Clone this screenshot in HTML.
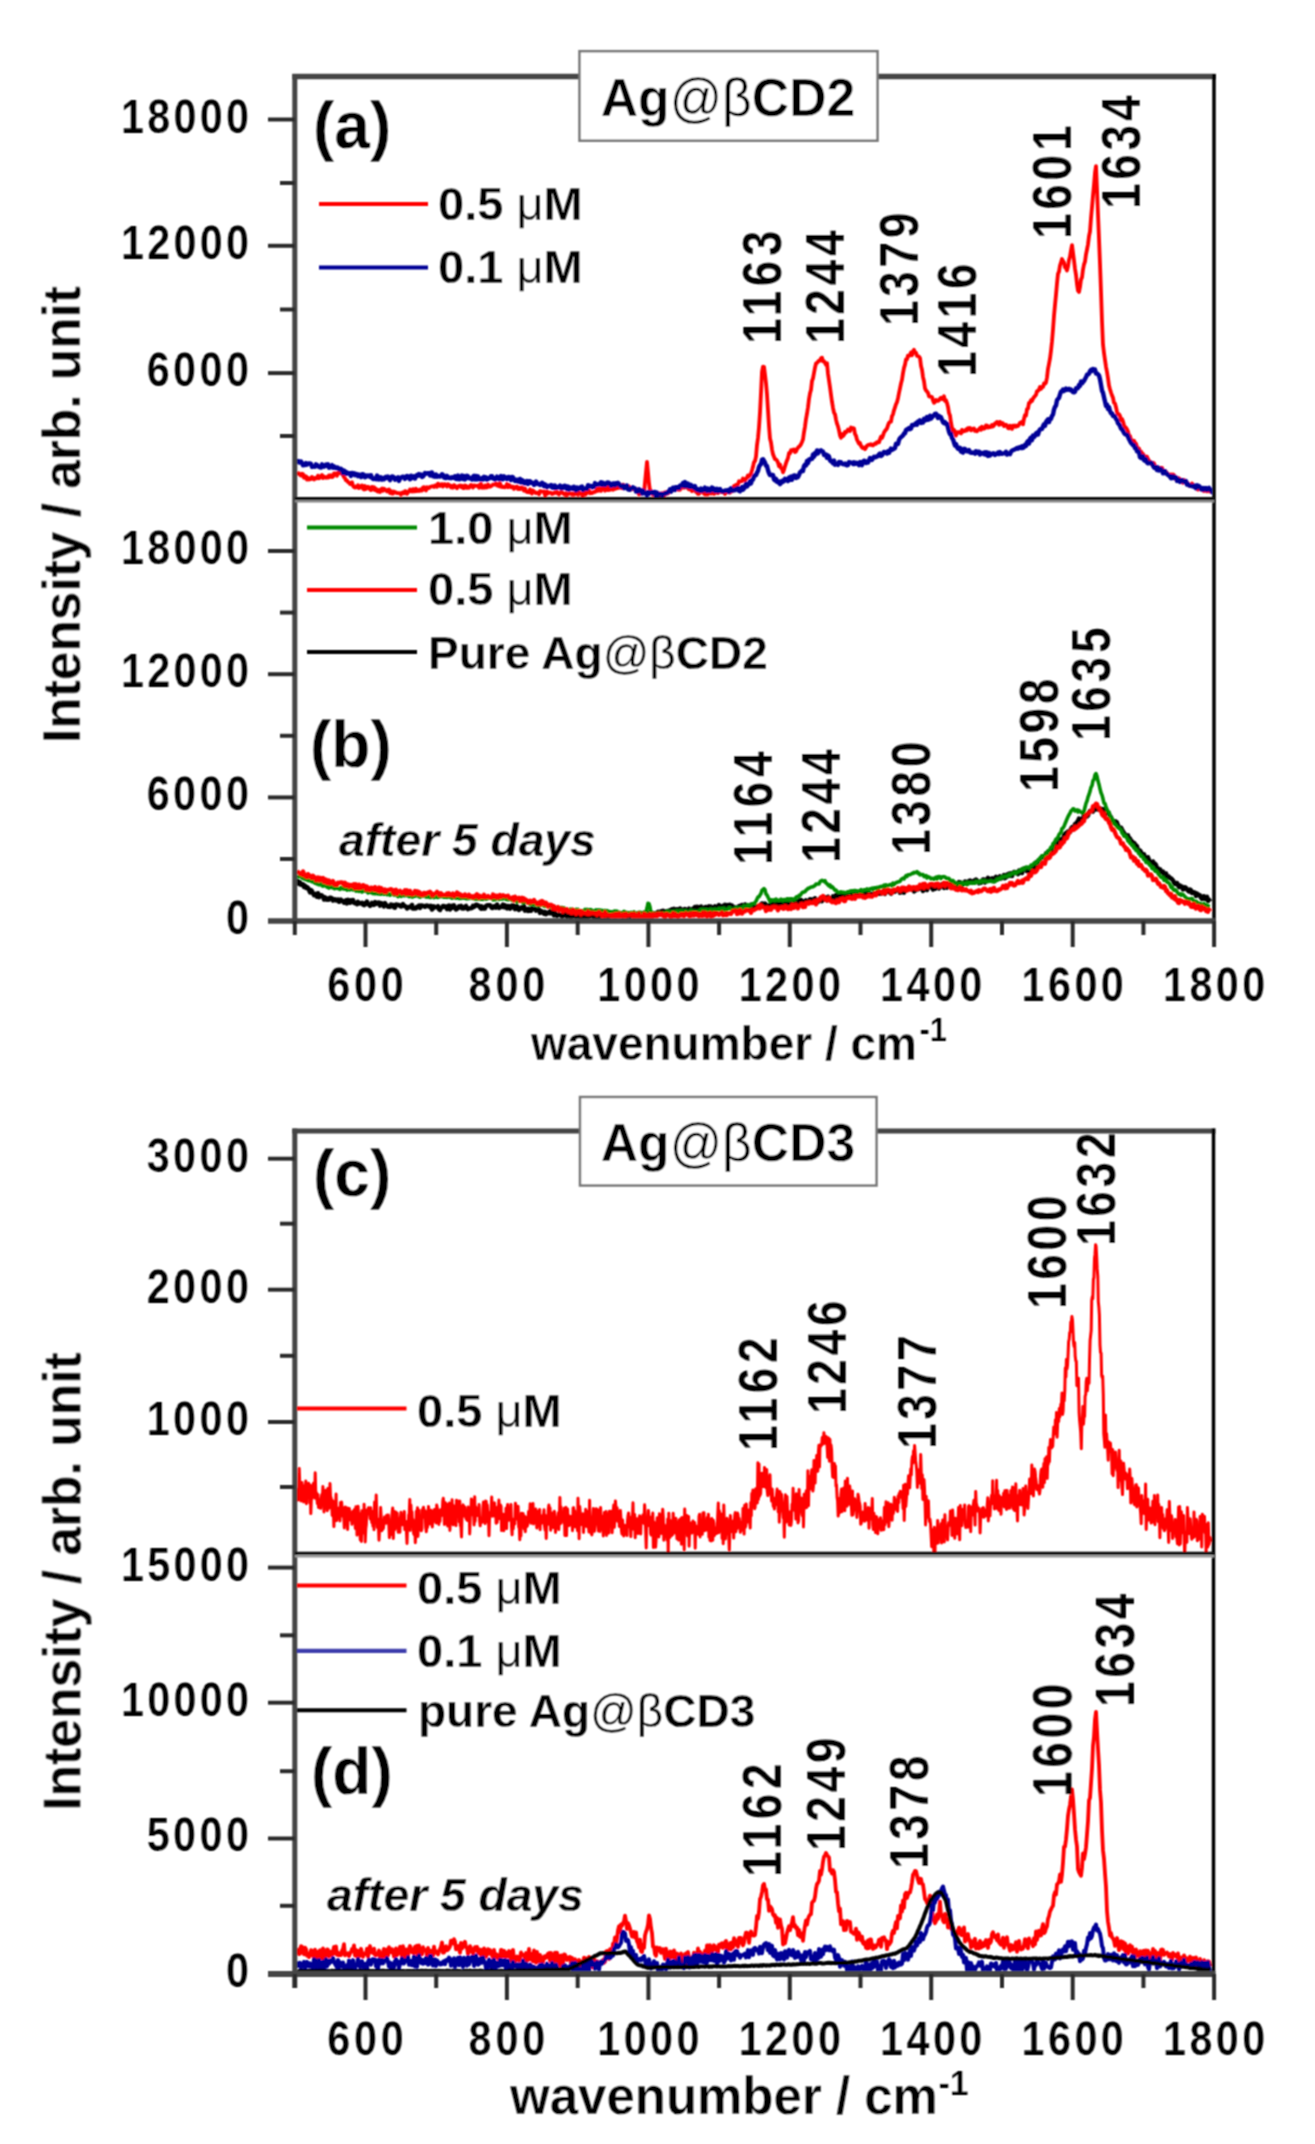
<!DOCTYPE html><html><head><meta charset="utf-8"><style>html,body{margin:0;padding:0;background:#fff;}svg{display:block;}text{font-family:"Liberation Sans", sans-serif;}</style></head><body>
<svg width="1315" height="2144" viewBox="0 0 1315 2144">
<rect x="0" y="0" width="1315" height="2144" fill="#fff"/>
<defs><filter id="bl" x="0" y="0" width="1315" height="2144" filterUnits="userSpaceOnUse"><feConvolveMatrix order="3" kernelMatrix="1 2 1 2 4 2 1 2 1" divisor="16" edgeMode="duplicate"/></filter></defs><g filter="url(#bl)">
<defs><clipPath id="ca"><rect x="297" y="79" width="915" height="418"/></clipPath><clipPath id="cb"><rect x="297" y="501" width="915" height="418"/></clipPath><clipPath id="cc"><rect x="297" y="1134" width="915" height="418"/></clipPath><clipPath id="cd"><rect x="297" y="1556" width="915" height="416"/></clipPath></defs>
<g clip-path="url(#ca)">
<path d="M297.0 472.0 L298.0 473.7 L299.0 473.5 L300.0 474.9 L301.0 475.5 L302.0 473.8 L303.0 474.1 L304.0 477.8 L305.0 476.0 L306.0 476.3 L307.0 479.6 L308.0 477.8 L309.0 479.6 L310.0 478.5 L311.0 479.0 L312.0 476.9 L313.0 478.7 L314.0 479.4 L315.0 477.9 L316.0 478.6 L317.0 478.2 L318.0 475.6 L319.0 478.2 L320.0 477.4 L321.0 476.1 L322.0 474.9 L323.0 478.1 L324.0 476.4 L325.0 477.2 L326.0 477.7 L327.0 476.9 L328.0 477.6 L329.0 475.4 L330.0 476.9 L331.0 475.3 L332.0 477.1 L333.0 476.8 L334.0 473.5 L335.0 473.5 L336.0 473.3 L337.0 475.7 L338.0 472.9 L339.0 473.1 L340.0 471.2 L341.0 473.2 L342.0 473.9 L343.0 475.0 L344.0 477.1 L345.0 478.3 L346.0 480.4 L347.0 480.3 L348.0 482.1 L349.0 482.6 L350.0 484.0 L351.0 483.5 L352.0 482.3 L353.0 485.8 L354.0 487.1 L355.0 487.6 L356.0 486.4 L357.0 487.2 L358.0 485.3 L359.0 488.0 L360.0 487.1 L361.0 486.1 L362.0 485.4 L363.0 488.7 L364.0 489.4 L365.0 486.0 L366.0 489.0 L367.0 487.6 L368.0 486.7 L369.0 487.4 L370.0 489.5 L371.0 490.1 L372.0 486.9 L373.0 489.3 L374.0 487.2 L375.0 490.1 L376.0 488.7 L377.0 491.0 L378.0 491.6 L379.0 489.9 L380.0 492.0 L381.0 489.4 L382.0 488.6 L383.0 490.8 L384.0 488.7 L385.0 489.5 L386.0 490.5 L387.0 491.5 L388.0 489.8 L389.0 489.5 L390.0 493.0 L391.0 490.9 L392.0 493.6 L393.0 493.5 L394.0 491.6 L395.0 492.1 L396.0 492.5 L397.0 493.1 L398.0 493.1 L399.0 493.1 L400.0 493.5 L401.0 494.6 L402.0 492.7 L403.0 492.3 L404.0 493.3 L405.0 491.2 L406.0 491.3 L407.0 493.9 L408.0 491.9 L409.0 491.8 L410.0 489.5 L411.0 491.0 L412.0 491.5 L413.0 489.1 L414.0 491.4 L415.0 491.3 L416.0 488.8 L417.0 491.0 L418.0 490.2 L419.0 490.9 L420.0 489.4 L421.0 490.6 L422.0 490.5 L423.0 487.3 L424.0 487.2 L425.0 489.5 L426.0 490.4 L427.0 487.3 L428.0 487.8 L429.0 488.1 L430.0 486.8 L431.0 486.7 L432.0 486.3 L433.0 486.2 L434.0 486.9 L435.0 485.5 L436.0 485.5 L437.0 486.8 L438.0 483.6 L439.0 485.5 L440.0 485.9 L441.0 484.3 L442.0 484.1 L443.0 486.5 L444.0 484.4 L445.0 484.2 L446.0 485.3 L447.0 486.5 L448.0 484.2 L449.0 485.2 L450.0 485.3 L451.0 487.4 L452.0 486.0 L453.0 487.7 L454.0 485.1 L455.0 485.8 L456.0 487.2 L457.0 488.2 L458.0 486.6 L459.0 485.8 L460.0 485.5 L461.0 487.1 L462.0 485.7 L463.0 488.1 L464.0 488.2 L465.0 485.5 L466.0 485.8 L467.0 487.9 L468.0 487.2 L469.0 487.8 L470.0 485.9 L471.0 485.0 L472.0 485.6 L473.0 487.5 L474.0 485.4 L475.0 485.6 L476.0 485.9 L477.0 485.8 L478.0 485.7 L479.0 487.7 L480.0 484.6 L481.0 484.0 L482.0 487.7 L483.0 487.4 L484.0 487.7 L485.0 485.5 L486.0 487.5 L487.0 487.4 L488.0 484.5 L489.0 486.5 L490.0 486.8 L491.0 486.1 L492.0 485.5 L493.0 484.5 L494.0 484.7 L495.0 484.2 L496.0 483.5 L497.0 485.5 L498.0 484.2 L499.0 486.3 L500.0 483.2 L501.0 486.8 L502.0 486.1 L503.0 487.1 L504.0 487.2 L505.0 487.3 L506.0 486.2 L507.0 484.1 L508.0 487.2 L509.0 485.0 L510.0 485.7 L511.0 487.3 L512.0 486.9 L513.0 486.6 L514.0 488.9 L515.0 487.7 L516.0 486.8 L517.0 486.6 L518.0 489.1 L519.0 487.8 L520.0 489.1 L521.0 487.7 L522.0 487.5 L523.0 489.1 L524.0 490.6 L525.0 488.4 L526.0 491.2 L527.0 492.0 L528.0 491.9 L529.0 492.3 L530.0 489.4 L531.0 492.2 L532.0 493.5 L533.0 490.5 L534.0 491.8 L535.0 492.1 L536.0 493.1 L537.0 492.7 L538.0 493.0 L539.0 494.2 L540.0 491.1 L541.0 491.4 L542.0 491.7 L543.0 491.7 L544.0 491.5 L545.0 495.1 L546.0 494.7 L547.0 491.6 L548.0 493.3 L549.0 492.6 L550.0 492.6 L551.0 492.8 L552.0 494.0 L553.0 493.7 L554.0 492.9 L555.0 492.2 L556.0 492.8 L557.0 492.0 L558.0 493.7 L559.0 494.4 L560.0 493.1 L561.0 491.9 L562.0 492.3 L563.0 493.1 L564.0 494.1 L565.0 494.8 L566.0 493.2 L567.0 494.9 L568.0 494.2 L569.0 493.5 L570.0 493.3 L571.0 493.8 L572.0 494.6 L573.0 493.5 L574.0 494.6 L575.0 493.7 L576.0 492.9 L577.0 494.1 L578.0 494.7 L579.0 492.3 L580.0 493.7 L581.0 493.5 L582.0 495.1 L583.0 495.1 L584.0 492.7 L585.0 494.6 L586.0 494.0 L587.0 491.6 L588.0 492.3 L589.0 490.7 L590.0 493.3 L591.0 492.4 L592.0 493.1 L593.0 492.6 L594.0 491.9 L595.0 491.9 L596.0 491.1 L597.0 489.0 L598.0 490.8 L599.0 488.2 L600.0 488.6 L601.0 490.9 L602.0 487.9 L603.0 487.9 L604.0 487.8 L605.0 490.7 L606.0 487.8 L607.0 487.0 L608.0 490.1 L609.0 487.0 L610.0 489.8 L611.0 488.9 L612.0 489.4 L613.0 489.7 L614.0 488.1 L615.0 488.8 L616.0 485.6 L617.0 488.3 L618.0 487.2 L619.0 487.8 L620.0 485.2 L621.0 487.6 L622.0 488.2 L623.0 484.6 L624.0 485.5 L625.0 486.3 L626.0 487.7 L627.0 485.8 L628.0 485.9 L629.0 486.6 L630.0 488.5 L631.0 489.4 L632.0 488.4 L633.0 488.7 L634.0 489.2 L635.0 489.4 L636.0 490.3 L637.0 489.5 L638.0 491.8 L639.0 494.3 L640.0 492.7 L641.0 493.7 L642.0 491.1 L643.0 493.0 L644.0 493.0 L645.0 482.7 L646.0 472.1 L647.0 461.9 L648.0 472.6 L649.0 483.6 L650.0 490.6 L651.0 490.7 L652.0 493.6 L653.0 494.6 L654.0 493.3 L655.0 493.3 L656.0 494.7 L657.0 492.8 L658.0 493.5 L659.0 493.5 L660.0 495.3 L661.0 493.9 L662.0 493.2 L663.0 494.7 L664.0 495.4 L665.0 492.4 L666.0 493.7 L667.0 492.1 L668.0 493.5 L669.0 492.1 L670.0 490.5 L671.0 489.9 L672.0 488.8 L673.0 490.2 L674.0 489.5 L675.0 488.3 L676.0 488.7 L677.0 488.2 L678.0 489.6 L679.0 486.7 L680.0 489.8 L681.0 487.4 L682.0 487.5 L683.0 486.6 L684.0 487.7 L685.0 487.3 L686.0 486.7 L687.0 486.9 L688.0 488.3 L689.0 489.3 L690.0 487.9 L691.0 489.7 L692.0 491.1 L693.0 489.6 L694.0 489.1 L695.0 489.6 L696.0 492.0 L697.0 492.3 L698.0 493.9 L699.0 493.9 L700.0 492.0 L701.0 491.7 L702.0 492.0 L703.0 491.6 L704.0 493.7 L705.0 494.3 L706.0 494.4 L707.0 491.8 L708.0 494.2 L709.0 492.0 L710.0 492.4 L711.0 493.5 L712.0 490.9 L713.0 490.9 L714.0 493.9 L715.0 491.7 L716.0 491.9 L717.0 492.8 L718.0 493.1 L719.0 490.4 L720.0 491.7 L721.0 492.0 L722.0 492.2 L723.0 491.1 L724.0 492.5 L725.0 494.0 L726.0 491.7 L727.0 492.3 L728.0 490.5 L729.0 491.1 L730.0 492.7 L731.0 489.4 L732.0 491.3 L733.0 490.3 L734.0 486.0 L735.0 488.3 L736.0 484.9 L737.0 485.4 L738.0 484.2 L739.0 481.3 L740.0 481.7 L741.0 481.1 L742.0 481.2 L743.0 478.5 L744.0 480.0 L745.0 480.3 L746.0 478.7 L747.0 477.6 L748.0 475.4 L749.0 476.4 L750.0 475.1 L751.0 473.5 L752.0 470.3 L753.0 466.8 L754.0 462.2 L755.0 461.0 L756.0 456.6 L757.0 444.9 L758.0 437.9 L759.0 427.1 L760.0 412.5 L761.0 392.8 L762.0 371.8 L763.0 366.7 L764.0 366.8 L765.0 374.8 L766.0 383.2 L767.0 394.5 L768.0 410.2 L769.0 426.1 L770.0 438.5 L771.0 442.5 L772.0 449.6 L773.0 454.3 L774.0 456.8 L775.0 459.2 L776.0 459.3 L777.0 460.6 L778.0 462.6 L779.0 466.2 L780.0 464.5 L781.0 468.0 L782.0 468.6 L783.0 472.3 L784.0 469.7 L785.0 466.3 L786.0 463.2 L787.0 460.4 L788.0 458.0 L789.0 453.0 L790.0 453.4 L791.0 450.3 L792.0 450.7 L793.0 449.7 L794.0 449.5 L795.0 452.0 L796.0 451.5 L797.0 449.1 L798.0 447.7 L799.0 446.6 L800.0 445.9 L801.0 444.2 L802.0 442.0 L803.0 439.4 L804.0 432.3 L805.0 426.6 L806.0 419.1 L807.0 413.7 L808.0 407.2 L809.0 399.0 L810.0 393.3 L811.0 389.7 L812.0 381.0 L813.0 378.4 L814.0 373.0 L815.0 367.6 L816.0 363.5 L817.0 362.9 L818.0 361.7 L819.0 360.6 L820.0 360.7 L821.0 358.2 L822.0 357.7 L823.0 361.3 L824.0 361.1 L825.0 362.9 L826.0 364.8 L827.0 363.2 L828.0 373.7 L829.0 380.6 L830.0 387.3 L831.0 394.8 L832.0 401.9 L833.0 407.8 L834.0 412.7 L835.0 414.2 L836.0 419.6 L837.0 423.7 L838.0 426.4 L839.0 430.4 L840.0 435.4 L841.0 437.8 L842.0 434.2 L843.0 436.1 L844.0 434.8 L845.0 431.9 L846.0 432.5 L847.0 431.2 L848.0 429.6 L849.0 430.4 L850.0 431.0 L851.0 427.5 L852.0 428.7 L853.0 428.1 L854.0 428.5 L855.0 434.1 L856.0 435.7 L857.0 439.7 L858.0 441.6 L859.0 443.7 L860.0 443.1 L861.0 445.9 L862.0 447.4 L863.0 448.1 L864.0 447.4 L865.0 449.2 L866.0 447.6 L867.0 445.7 L868.0 445.0 L869.0 444.7 L870.0 444.8 L871.0 444.2 L872.0 445.1 L873.0 445.4 L874.0 444.4 L875.0 443.5 L876.0 443.9 L877.0 442.1 L878.0 442.3 L879.0 442.3 L880.0 439.3 L881.0 436.7 L882.0 437.9 L883.0 435.6 L884.0 432.5 L885.0 430.9 L886.0 429.8 L887.0 428.4 L888.0 425.3 L889.0 422.8 L890.0 421.9 L891.0 421.6 L892.0 416.1 L893.0 414.3 L894.0 410.3 L895.0 407.3 L896.0 404.2 L897.0 402.1 L898.0 398.2 L899.0 393.0 L900.0 388.3 L901.0 383.5 L902.0 379.8 L903.0 373.1 L904.0 367.9 L905.0 364.6 L906.0 359.4 L907.0 359.2 L908.0 355.6 L909.0 356.0 L910.0 355.0 L911.0 352.5 L912.0 355.3 L913.0 351.3 L914.0 349.8 L915.0 352.6 L916.0 352.7 L917.0 355.9 L918.0 356.1 L919.0 356.6 L920.0 358.0 L921.0 366.1 L922.0 369.7 L923.0 377.1 L924.0 381.2 L925.0 388.4 L926.0 390.4 L927.0 391.5 L928.0 392.8 L929.0 396.2 L930.0 396.7 L931.0 396.7 L932.0 397.0 L933.0 400.5 L934.0 402.8 L935.0 401.8 L936.0 399.9 L937.0 400.6 L938.0 400.9 L939.0 400.2 L940.0 398.6 L941.0 397.7 L942.0 399.1 L943.0 399.1 L944.0 396.3 L945.0 400.9 L946.0 400.3 L947.0 403.1 L948.0 406.9 L949.0 413.1 L950.0 415.5 L951.0 422.7 L952.0 427.9 L953.0 431.2 L954.0 429.8 L955.0 432.6 L956.0 435.6 L957.0 432.1 L958.0 432.7 L959.0 432.0 L960.0 432.9 L961.0 433.4 L962.0 429.9 L963.0 431.6 L964.0 431.1 L965.0 431.0 L966.0 429.4 L967.0 430.4 L968.0 428.1 L969.0 428.5 L970.0 427.9 L971.0 430.4 L972.0 429.4 L973.0 428.7 L974.0 428.5 L975.0 430.9 L976.0 430.7 L977.0 431.3 L978.0 429.7 L979.0 429.7 L980.0 428.0 L981.0 429.8 L982.0 426.7 L983.0 428.0 L984.0 428.8 L985.0 428.1 L986.0 425.3 L987.0 425.5 L988.0 427.6 L989.0 426.5 L990.0 427.2 L991.0 426.8 L992.0 424.9 L993.0 426.4 L994.0 425.4 L995.0 423.5 L996.0 423.4 L997.0 421.9 L998.0 422.9 L999.0 424.8 L1000.0 421.9 L1001.0 424.3 L1002.0 422.9 L1003.0 423.3 L1004.0 426.1 L1005.0 425.0 L1006.0 424.7 L1007.0 425.6 L1008.0 428.1 L1009.0 428.3 L1010.0 425.8 L1011.0 426.4 L1012.0 428.9 L1013.0 425.6 L1014.0 426.6 L1015.0 425.6 L1016.0 426.7 L1017.0 425.6 L1018.0 426.0 L1019.0 424.6 L1020.0 422.8 L1021.0 422.4 L1022.0 421.7 L1023.0 424.3 L1024.0 418.7 L1025.0 415.1 L1026.0 415.5 L1027.0 409.1 L1028.0 408.6 L1029.0 402.9 L1030.0 402.8 L1031.0 400.3 L1032.0 401.1 L1033.0 398.6 L1034.0 397.1 L1035.0 396.0 L1036.0 394.8 L1037.0 391.1 L1038.0 391.0 L1039.0 389.4 L1040.0 387.0 L1041.0 388.9 L1042.0 387.0 L1043.0 386.9 L1044.0 383.4 L1045.0 383.8 L1046.0 382.5 L1047.0 377.5 L1048.0 368.8 L1049.0 363.9 L1050.0 358.4 L1051.0 350.7 L1052.0 341.4 L1053.0 329.6 L1054.0 315.9 L1055.0 305.0 L1056.0 294.8 L1057.0 283.3 L1058.0 273.8 L1059.0 271.6 L1060.0 265.5 L1061.0 262.4 L1062.0 259.0 L1063.0 261.2 L1064.0 262.6 L1065.0 267.3 L1066.0 268.2 L1067.0 270.4 L1068.0 266.2 L1069.0 260.0 L1070.0 256.5 L1071.0 250.3 L1072.0 245.1 L1073.0 252.7 L1074.0 260.5 L1075.0 268.7 L1076.0 274.9 L1077.0 284.1 L1078.0 290.6 L1079.0 292.0 L1080.0 286.9 L1081.0 279.6 L1082.0 277.4 L1083.0 269.6 L1084.0 264.5 L1085.0 261.7 L1086.0 254.3 L1087.0 249.5 L1088.0 244.3 L1089.0 236.2 L1090.0 231.5 L1091.0 218.1 L1092.0 207.2 L1093.0 195.4 L1094.0 185.0 L1095.0 172.9 L1096.0 166.1 L1097.0 189.4 L1098.0 214.2 L1099.0 238.6 L1100.0 263.8 L1101.0 291.5 L1102.0 321.5 L1103.0 344.6 L1104.0 352.9 L1105.0 360.1 L1106.0 366.8 L1107.0 372.0 L1108.0 378.3 L1109.0 385.6 L1110.0 389.2 L1111.0 392.5 L1112.0 395.5 L1113.0 397.8 L1114.0 402.8 L1115.0 403.5 L1116.0 407.2 L1117.0 411.9 L1118.0 414.2 L1119.0 414.2 L1120.0 416.0 L1121.0 420.2 L1122.0 419.0 L1123.0 421.5 L1124.0 425.1 L1125.0 427.1 L1126.0 427.7 L1127.0 429.2 L1128.0 431.8 L1129.0 435.7 L1130.0 436.1 L1131.0 439.7 L1132.0 440.5 L1133.0 442.9 L1134.0 440.7 L1135.0 442.8 L1136.0 443.7 L1137.0 447.0 L1138.0 448.2 L1139.0 448.6 L1140.0 452.2 L1141.0 451.5 L1142.0 453.3 L1143.0 453.9 L1144.0 457.0 L1145.0 456.3 L1146.0 456.6 L1147.0 456.6 L1148.0 459.1 L1149.0 460.7 L1150.0 461.8 L1151.0 463.6 L1152.0 464.1 L1153.0 462.8 L1154.0 463.2 L1155.0 466.6 L1156.0 467.6 L1157.0 467.1 L1158.0 468.9 L1159.0 468.3 L1160.0 467.8 L1161.0 467.9 L1162.0 467.8 L1163.0 470.9 L1164.0 472.5 L1165.0 473.0 L1166.0 471.8 L1167.0 473.2 L1168.0 474.8 L1169.0 474.9 L1170.0 474.6 L1171.0 474.4 L1172.0 475.3 L1173.0 474.5 L1174.0 475.1 L1175.0 477.6 L1176.0 479.4 L1177.0 478.1 L1178.0 478.0 L1179.0 478.3 L1180.0 479.2 L1181.0 481.1 L1182.0 480.2 L1183.0 482.7 L1184.0 480.0 L1185.0 481.2 L1186.0 482.5 L1187.0 482.5 L1188.0 484.8 L1189.0 485.2 L1190.0 486.1 L1191.0 485.3 L1192.0 483.5 L1193.0 486.2 L1194.0 486.6 L1195.0 486.9 L1196.0 486.5 L1197.0 488.6 L1198.0 489.6 L1199.0 486.5 L1200.0 489.0 L1201.0 488.0 L1202.0 488.8 L1203.0 490.5 L1204.0 491.0 L1205.0 489.9 L1206.0 488.3 L1207.0 491.4 L1208.0 488.6 L1209.0 489.7 L1210.0 491.6 L1211.0 489.8 L1212.0 489.8 L1213.0 492.7" fill="none" stroke="#f00" stroke-width="3.8" stroke-linejoin="round" opacity="1.0"/>
<path d="M297.0 461.4 L298.0 461.1 L299.0 462.5 L300.0 461.7 L301.0 461.5 L302.0 463.1 L303.0 465.3 L304.0 465.0 L305.0 465.1 L306.0 463.1 L307.0 464.6 L308.0 463.7 L309.0 463.5 L310.0 463.4 L311.0 464.0 L312.0 466.9 L313.0 466.6 L314.0 466.6 L315.0 466.7 L316.0 464.4 L317.0 464.9 L318.0 466.3 L319.0 466.8 L320.0 467.4 L321.0 467.5 L322.0 464.3 L323.0 466.4 L324.0 466.7 L325.0 466.0 L326.0 464.7 L327.0 465.9 L328.0 464.4 L329.0 467.7 L330.0 467.5 L331.0 466.2 L332.0 465.2 L333.0 467.6 L334.0 466.3 L335.0 467.5 L336.0 468.1 L337.0 467.4 L338.0 467.8 L339.0 469.2 L340.0 469.2 L341.0 468.8 L342.0 470.1 L343.0 472.9 L344.0 470.5 L345.0 471.2 L346.0 473.7 L347.0 472.4 L348.0 473.6 L349.0 473.5 L350.0 473.2 L351.0 475.9 L352.0 472.9 L353.0 473.9 L354.0 473.3 L355.0 475.1 L356.0 473.9 L357.0 474.3 L358.0 476.1 L359.0 474.5 L360.0 475.6 L361.0 477.2 L362.0 474.1 L363.0 474.1 L364.0 475.0 L365.0 477.3 L366.0 476.8 L367.0 475.5 L368.0 476.0 L369.0 475.6 L370.0 476.8 L371.0 475.2 L372.0 477.9 L373.0 478.8 L374.0 479.1 L375.0 478.3 L376.0 479.2 L377.0 475.5 L378.0 476.7 L379.0 479.5 L380.0 478.8 L381.0 477.4 L382.0 479.6 L383.0 478.3 L384.0 479.2 L385.0 477.2 L386.0 476.8 L387.0 477.9 L388.0 476.7 L389.0 477.8 L390.0 480.2 L391.0 477.7 L392.0 476.5 L393.0 476.7 L394.0 477.3 L395.0 479.8 L396.0 478.2 L397.0 478.0 L398.0 477.3 L399.0 480.9 L400.0 478.7 L401.0 477.7 L402.0 476.9 L403.0 476.7 L404.0 477.0 L405.0 478.9 L406.0 476.6 L407.0 476.0 L408.0 477.6 L409.0 476.5 L410.0 479.3 L411.0 475.7 L412.0 477.1 L413.0 477.9 L414.0 476.3 L415.0 478.5 L416.0 476.2 L417.0 475.1 L418.0 475.6 L419.0 474.0 L420.0 475.4 L421.0 474.5 L422.0 476.9 L423.0 476.5 L424.0 475.0 L425.0 473.0 L426.0 473.7 L427.0 473.5 L428.0 473.2 L429.0 473.1 L430.0 475.5 L431.0 472.7 L432.0 472.5 L433.0 476.2 L434.0 474.9 L435.0 476.7 L436.0 474.5 L437.0 476.7 L438.0 475.8 L439.0 476.5 L440.0 476.5 L441.0 475.6 L442.0 474.2 L443.0 474.8 L444.0 477.6 L445.0 477.8 L446.0 478.1 L447.0 475.9 L448.0 477.3 L449.0 478.0 L450.0 477.6 L451.0 478.3 L452.0 477.2 L453.0 477.7 L454.0 477.9 L455.0 476.2 L456.0 478.9 L457.0 479.1 L458.0 475.6 L459.0 479.2 L460.0 479.2 L461.0 478.0 L462.0 475.6 L463.0 479.0 L464.0 476.0 L465.0 479.4 L466.0 478.2 L467.0 475.8 L468.0 476.3 L469.0 478.2 L470.0 477.9 L471.0 478.7 L472.0 479.4 L473.0 476.6 L474.0 475.8 L475.0 479.5 L476.0 475.9 L477.0 479.4 L478.0 476.4 L479.0 479.2 L480.0 479.1 L481.0 479.5 L482.0 478.2 L483.0 479.5 L484.0 476.8 L485.0 478.7 L486.0 477.3 L487.0 479.6 L488.0 479.1 L489.0 477.9 L490.0 478.1 L491.0 476.1 L492.0 476.1 L493.0 478.4 L494.0 478.0 L495.0 479.5 L496.0 478.4 L497.0 476.6 L498.0 477.5 L499.0 479.1 L500.0 478.1 L501.0 476.0 L502.0 479.4 L503.0 479.3 L504.0 476.3 L505.0 478.2 L506.0 477.5 L507.0 479.1 L508.0 477.2 L509.0 476.9 L510.0 477.9 L511.0 480.1 L512.0 476.9 L513.0 477.3 L514.0 479.6 L515.0 480.9 L516.0 479.6 L517.0 479.6 L518.0 481.6 L519.0 481.5 L520.0 478.9 L521.0 482.5 L522.0 480.0 L523.0 480.7 L524.0 483.1 L525.0 481.7 L526.0 483.3 L527.0 481.0 L528.0 483.9 L529.0 481.3 L530.0 481.3 L531.0 482.8 L532.0 482.4 L533.0 483.3 L534.0 484.9 L535.0 484.3 L536.0 481.6 L537.0 483.0 L538.0 484.0 L539.0 483.9 L540.0 485.0 L541.0 484.2 L542.0 482.7 L543.0 483.6 L544.0 486.1 L545.0 484.3 L546.0 486.1 L547.0 487.1 L548.0 485.8 L549.0 486.1 L550.0 486.0 L551.0 485.0 L552.0 487.5 L553.0 485.9 L554.0 487.8 L555.0 485.5 L556.0 487.9 L557.0 487.7 L558.0 487.2 L559.0 486.6 L560.0 485.6 L561.0 488.2 L562.0 486.6 L563.0 487.9 L564.0 485.9 L565.0 485.8 L566.0 486.2 L567.0 488.9 L568.0 486.5 L569.0 489.5 L570.0 487.5 L571.0 488.4 L572.0 487.6 L573.0 488.8 L574.0 486.8 L575.0 488.1 L576.0 490.3 L577.0 487.4 L578.0 489.4 L579.0 488.2 L580.0 488.2 L581.0 486.8 L582.0 486.5 L583.0 489.9 L584.0 489.1 L585.0 488.7 L586.0 488.4 L587.0 488.7 L588.0 485.2 L589.0 486.6 L590.0 486.0 L591.0 486.0 L592.0 487.2 L593.0 486.1 L594.0 486.7 L595.0 483.0 L596.0 484.8 L597.0 484.6 L598.0 484.6 L599.0 483.8 L600.0 484.3 L601.0 482.3 L602.0 484.8 L603.0 482.8 L604.0 483.7 L605.0 484.9 L606.0 484.2 L607.0 482.7 L608.0 482.5 L609.0 482.9 L610.0 484.2 L611.0 485.7 L612.0 485.4 L613.0 483.5 L614.0 483.5 L615.0 485.3 L616.0 483.4 L617.0 484.2 L618.0 482.9 L619.0 483.8 L620.0 485.5 L621.0 486.4 L622.0 486.3 L623.0 485.6 L624.0 488.2 L625.0 487.2 L626.0 485.6 L627.0 485.5 L628.0 489.4 L629.0 489.7 L630.0 489.7 L631.0 488.7 L632.0 487.8 L633.0 487.3 L634.0 488.2 L635.0 488.4 L636.0 491.5 L637.0 491.7 L638.0 491.5 L639.0 489.3 L640.0 490.0 L641.0 490.5 L642.0 493.4 L643.0 490.6 L644.0 493.4 L645.0 493.2 L646.0 493.0 L647.0 494.9 L648.0 492.4 L649.0 493.8 L650.0 492.6 L651.0 492.3 L652.0 492.0 L653.0 493.1 L654.0 492.2 L655.0 491.9 L656.0 495.6 L657.0 492.7 L658.0 495.0 L659.0 494.2 L660.0 494.3 L661.0 493.9 L662.0 495.0 L663.0 494.6 L664.0 493.9 L665.0 493.2 L666.0 493.3 L667.0 493.0 L668.0 491.9 L669.0 491.2 L670.0 489.4 L671.0 491.7 L672.0 489.8 L673.0 487.7 L674.0 487.6 L675.0 490.0 L676.0 487.1 L677.0 487.2 L678.0 487.9 L679.0 488.1 L680.0 485.6 L681.0 485.3 L682.0 485.0 L683.0 483.0 L684.0 486.0 L685.0 482.1 L686.0 486.2 L687.0 483.3 L688.0 483.6 L689.0 486.7 L690.0 487.0 L691.0 484.9 L692.0 486.5 L693.0 486.6 L694.0 487.9 L695.0 486.1 L696.0 489.0 L697.0 490.0 L698.0 489.2 L699.0 490.4 L700.0 490.7 L701.0 488.6 L702.0 490.5 L703.0 490.4 L704.0 489.5 L705.0 487.6 L706.0 489.7 L707.0 490.9 L708.0 488.5 L709.0 489.9 L710.0 490.9 L711.0 489.8 L712.0 487.5 L713.0 490.0 L714.0 488.5 L715.0 490.9 L716.0 490.2 L717.0 488.8 L718.0 491.2 L719.0 490.1 L720.0 489.0 L721.0 491.0 L722.0 491.3 L723.0 491.3 L724.0 491.3 L725.0 490.5 L726.0 490.7 L727.0 490.3 L728.0 490.0 L729.0 491.9 L730.0 489.4 L731.0 488.3 L732.0 490.8 L733.0 489.9 L734.0 490.1 L735.0 490.3 L736.0 488.9 L737.0 488.7 L738.0 488.1 L739.0 490.9 L740.0 491.4 L741.0 489.9 L742.0 486.9 L743.0 489.7 L744.0 488.5 L745.0 486.5 L746.0 483.8 L747.0 486.5 L748.0 485.0 L749.0 484.3 L750.0 481.2 L751.0 483.4 L752.0 479.8 L753.0 479.6 L754.0 476.3 L755.0 475.1 L756.0 475.2 L757.0 472.6 L758.0 470.9 L759.0 466.8 L760.0 465.2 L761.0 464.0 L762.0 459.7 L763.0 459.2 L764.0 460.9 L765.0 462.6 L766.0 465.7 L767.0 466.1 L768.0 470.3 L769.0 473.3 L770.0 475.1 L771.0 474.9 L772.0 474.8 L773.0 475.1 L774.0 479.5 L775.0 480.5 L776.0 478.8 L777.0 481.7 L778.0 481.2 L779.0 483.0 L780.0 484.1 L781.0 481.6 L782.0 482.4 L783.0 480.5 L784.0 481.1 L785.0 478.8 L786.0 479.3 L787.0 479.0 L788.0 481.1 L789.0 477.6 L790.0 479.7 L791.0 476.6 L792.0 479.8 L793.0 476.1 L794.0 475.5 L795.0 475.5 L796.0 478.0 L797.0 476.6 L798.0 477.1 L799.0 475.1 L800.0 472.3 L801.0 471.6 L802.0 470.4 L803.0 470.9 L804.0 466.0 L805.0 464.7 L806.0 465.4 L807.0 460.9 L808.0 463.2 L809.0 459.5 L810.0 459.6 L811.0 458.9 L812.0 458.9 L813.0 454.6 L814.0 456.7 L815.0 453.0 L816.0 454.2 L817.0 450.4 L818.0 453.3 L819.0 450.9 L820.0 451.0 L821.0 450.3 L822.0 451.5 L823.0 451.5 L824.0 455.0 L825.0 454.5 L826.0 454.4 L827.0 457.8 L828.0 455.5 L829.0 456.6 L830.0 460.4 L831.0 461.3 L832.0 461.2 L833.0 463.3 L834.0 460.5 L835.0 464.7 L836.0 464.0 L837.0 464.0 L838.0 464.8 L839.0 461.9 L840.0 462.4 L841.0 462.3 L842.0 463.7 L843.0 464.1 L844.0 464.2 L845.0 463.5 L846.0 465.0 L847.0 465.3 L848.0 465.0 L849.0 462.0 L850.0 462.4 L851.0 462.6 L852.0 462.6 L853.0 463.9 L854.0 462.4 L855.0 464.0 L856.0 462.8 L857.0 462.9 L858.0 464.2 L859.0 465.1 L860.0 462.0 L861.0 462.6 L862.0 465.1 L863.0 461.8 L864.0 460.6 L865.0 460.8 L866.0 462.9 L867.0 462.1 L868.0 462.5 L869.0 460.3 L870.0 458.0 L871.0 458.7 L872.0 459.9 L873.0 458.1 L874.0 456.7 L875.0 457.2 L876.0 457.1 L877.0 456.2 L878.0 456.2 L879.0 454.4 L880.0 453.5 L881.0 456.0 L882.0 455.3 L883.0 453.6 L884.0 451.9 L885.0 452.1 L886.0 452.6 L887.0 453.5 L888.0 451.3 L889.0 452.8 L890.0 450.5 L891.0 448.6 L892.0 449.9 L893.0 449.3 L894.0 448.8 L895.0 448.1 L896.0 443.8 L897.0 444.0 L898.0 444.0 L899.0 440.0 L900.0 438.1 L901.0 437.3 L902.0 436.3 L903.0 435.4 L904.0 433.5 L905.0 433.3 L906.0 430.0 L907.0 429.3 L908.0 429.2 L909.0 428.1 L910.0 429.2 L911.0 428.5 L912.0 425.2 L913.0 424.9 L914.0 425.1 L915.0 424.5 L916.0 423.2 L917.0 424.6 L918.0 421.4 L919.0 422.1 L920.0 420.3 L921.0 422.9 L922.0 421.4 L923.0 422.5 L924.0 418.7 L925.0 420.6 L926.0 419.7 L927.0 417.1 L928.0 419.8 L929.0 419.4 L930.0 415.7 L931.0 418.6 L932.0 417.4 L933.0 416.1 L934.0 415.3 L935.0 413.9 L936.0 413.7 L937.0 415.9 L938.0 418.0 L939.0 415.9 L940.0 417.5 L941.0 417.3 L942.0 419.8 L943.0 422.2 L944.0 423.2 L945.0 422.2 L946.0 424.0 L947.0 423.7 L948.0 427.7 L949.0 431.7 L950.0 434.3 L951.0 433.9 L952.0 438.0 L953.0 439.3 L954.0 442.5 L955.0 445.5 L956.0 444.0 L957.0 447.2 L958.0 448.7 L959.0 449.1 L960.0 447.7 L961.0 451.6 L962.0 452.1 L963.0 452.6 L964.0 448.8 L965.0 449.0 L966.0 450.3 L967.0 451.4 L968.0 451.2 L969.0 450.1 L970.0 452.4 L971.0 452.7 L972.0 452.8 L973.0 452.5 L974.0 452.8 L975.0 453.6 L976.0 451.2 L977.0 452.9 L978.0 451.8 L979.0 451.8 L980.0 454.5 L981.0 452.9 L982.0 453.0 L983.0 452.9 L984.0 454.2 L985.0 452.4 L986.0 454.6 L987.0 452.4 L988.0 456.0 L989.0 452.9 L990.0 455.5 L991.0 454.5 L992.0 453.9 L993.0 453.3 L994.0 453.5 L995.0 455.0 L996.0 453.9 L997.0 453.9 L998.0 452.6 L999.0 454.1 L1000.0 452.1 L1001.0 453.3 L1002.0 453.9 L1003.0 453.4 L1004.0 453.4 L1005.0 453.3 L1006.0 451.7 L1007.0 454.6 L1008.0 453.4 L1009.0 453.5 L1010.0 454.1 L1011.0 451.6 L1012.0 450.7 L1013.0 450.1 L1014.0 449.7 L1015.0 449.2 L1016.0 448.9 L1017.0 448.0 L1018.0 448.6 L1019.0 447.4 L1020.0 447.3 L1021.0 448.0 L1022.0 446.2 L1023.0 447.9 L1024.0 447.2 L1025.0 444.9 L1026.0 445.9 L1027.0 442.3 L1028.0 441.0 L1029.0 443.6 L1030.0 438.7 L1031.0 437.6 L1032.0 440.1 L1033.0 435.6 L1034.0 437.2 L1035.0 435.8 L1036.0 433.5 L1037.0 432.6 L1038.0 434.5 L1039.0 431.2 L1040.0 429.4 L1041.0 429.1 L1042.0 429.1 L1043.0 426.2 L1044.0 424.2 L1045.0 425.9 L1046.0 422.0 L1047.0 420.6 L1048.0 419.3 L1049.0 422.1 L1050.0 418.7 L1051.0 418.8 L1052.0 415.7 L1053.0 414.7 L1054.0 409.5 L1055.0 406.9 L1056.0 405.5 L1057.0 400.1 L1058.0 398.9 L1059.0 397.8 L1060.0 394.4 L1061.0 391.4 L1062.0 391.4 L1063.0 389.5 L1064.0 390.9 L1065.0 389.7 L1066.0 388.6 L1067.0 389.9 L1068.0 389.4 L1069.0 388.8 L1070.0 390.0 L1071.0 389.5 L1072.0 390.9 L1073.0 392.2 L1074.0 392.4 L1075.0 391.7 L1076.0 388.3 L1077.0 388.5 L1078.0 388.1 L1079.0 384.9 L1080.0 385.8 L1081.0 381.4 L1082.0 383.4 L1083.0 382.0 L1084.0 381.0 L1085.0 379.0 L1086.0 377.2 L1087.0 374.7 L1088.0 374.4 L1089.0 373.7 L1090.0 371.1 L1091.0 369.9 L1092.0 370.8 L1093.0 369.0 L1094.0 369.9 L1095.0 369.5 L1096.0 373.6 L1097.0 373.4 L1098.0 374.3 L1099.0 375.4 L1100.0 379.4 L1101.0 384.8 L1102.0 390.7 L1103.0 392.8 L1104.0 397.3 L1105.0 401.6 L1106.0 405.9 L1107.0 404.5 L1108.0 409.0 L1109.0 407.1 L1110.0 411.3 L1111.0 413.1 L1112.0 413.4 L1113.0 416.0 L1114.0 415.7 L1115.0 416.6 L1116.0 419.0 L1117.0 420.0 L1118.0 423.3 L1119.0 424.1 L1120.0 425.9 L1121.0 428.6 L1122.0 429.2 L1123.0 430.7 L1124.0 432.8 L1125.0 434.1 L1126.0 434.7 L1127.0 434.6 L1128.0 436.6 L1129.0 439.2 L1130.0 440.9 L1131.0 442.9 L1132.0 443.8 L1133.0 445.1 L1134.0 445.0 L1135.0 448.1 L1136.0 447.9 L1137.0 451.3 L1138.0 451.0 L1139.0 452.0 L1140.0 457.3 L1141.0 458.0 L1142.0 456.6 L1143.0 456.3 L1144.0 460.2 L1145.0 460.8 L1146.0 459.1 L1147.0 462.5 L1148.0 463.4 L1149.0 463.1 L1150.0 462.7 L1151.0 462.6 L1152.0 463.4 L1153.0 465.7 L1154.0 467.6 L1155.0 468.0 L1156.0 467.1 L1157.0 470.0 L1158.0 467.6 L1159.0 470.4 L1160.0 469.2 L1161.0 469.0 L1162.0 470.3 L1163.0 473.3 L1164.0 471.5 L1165.0 471.2 L1166.0 473.6 L1167.0 473.6 L1168.0 475.1 L1169.0 475.6 L1170.0 476.7 L1171.0 478.1 L1172.0 476.3 L1173.0 478.0 L1174.0 476.5 L1175.0 477.6 L1176.0 477.4 L1177.0 480.9 L1178.0 479.1 L1179.0 481.0 L1180.0 482.0 L1181.0 480.4 L1182.0 480.1 L1183.0 480.7 L1184.0 482.0 L1185.0 482.0 L1186.0 481.1 L1187.0 484.6 L1188.0 484.1 L1189.0 485.4 L1190.0 485.7 L1191.0 485.6 L1192.0 486.3 L1193.0 486.2 L1194.0 485.5 L1195.0 487.4 L1196.0 488.2 L1197.0 485.3 L1198.0 485.7 L1199.0 486.0 L1200.0 487.4 L1201.0 489.3 L1202.0 488.2 L1203.0 489.8 L1204.0 488.1 L1205.0 489.1 L1206.0 488.1 L1207.0 489.9 L1208.0 488.7 L1209.0 487.9 L1210.0 489.7 L1211.0 490.6 L1212.0 492.1 L1213.0 490.0" fill="none" stroke="#000096" stroke-width="4.4" stroke-linejoin="round" opacity="1.0"/>
</g><g clip-path="url(#cb)">
<path d="M297.0 881.2 L298.0 881.2 L299.0 884.1 L300.0 882.2 L301.0 884.9 L302.0 884.9 L303.0 884.2 L304.0 886.9 L305.0 885.5 L306.0 888.0 L307.0 887.1 L308.0 887.8 L309.0 890.0 L310.0 892.5 L311.0 890.1 L312.0 891.1 L313.0 893.3 L314.0 895.2 L315.0 894.1 L316.0 893.8 L317.0 896.8 L318.0 893.2 L319.0 897.3 L320.0 895.3 L321.0 895.1 L322.0 895.5 L323.0 896.8 L324.0 899.6 L325.0 897.3 L326.0 899.4 L327.0 899.8 L328.0 898.7 L329.0 899.6 L330.0 897.6 L331.0 897.7 L332.0 898.4 L333.0 900.6 L334.0 899.6 L335.0 899.2 L336.0 900.5 L337.0 900.1 L338.0 899.5 L339.0 901.8 L340.0 901.5 L341.0 899.6 L342.0 901.1 L343.0 901.0 L344.0 902.7 L345.0 902.2 L346.0 900.3 L347.0 903.5 L348.0 899.8 L349.0 901.2 L350.0 902.8 L351.0 900.3 L352.0 901.9 L353.0 900.0 L354.0 902.9 L355.0 903.4 L356.0 902.7 L357.0 904.1 L358.0 901.8 L359.0 903.6 L360.0 903.2 L361.0 903.3 L362.0 902.8 L363.0 904.6 L364.0 905.2 L365.0 903.2 L366.0 904.1 L367.0 901.5 L368.0 904.4 L369.0 904.3 L370.0 905.9 L371.0 905.2 L372.0 902.9 L373.0 903.5 L374.0 904.8 L375.0 902.0 L376.0 904.0 L377.0 902.8 L378.0 902.7 L379.0 902.5 L380.0 905.7 L381.0 903.0 L382.0 903.6 L383.0 904.3 L384.0 906.5 L385.0 903.1 L386.0 904.8 L387.0 905.4 L388.0 906.9 L389.0 906.7 L390.0 907.0 L391.0 904.5 L392.0 905.2 L393.0 905.0 L394.0 907.4 L395.0 907.8 L396.0 904.4 L397.0 904.6 L398.0 904.9 L399.0 904.9 L400.0 906.1 L401.0 906.6 L402.0 905.2 L403.0 904.1 L404.0 906.0 L405.0 905.9 L406.0 906.8 L407.0 908.5 L408.0 907.4 L409.0 906.7 L410.0 907.2 L411.0 907.5 L412.0 904.9 L413.0 908.6 L414.0 908.2 L415.0 908.6 L416.0 908.4 L417.0 906.6 L418.0 906.7 L419.0 905.5 L420.0 907.9 L421.0 905.4 L422.0 905.5 L423.0 906.2 L424.0 906.0 L425.0 906.8 L426.0 905.6 L427.0 905.5 L428.0 906.2 L429.0 906.0 L430.0 907.2 L431.0 905.8 L432.0 909.6 L433.0 908.5 L434.0 906.4 L435.0 906.9 L436.0 907.2 L437.0 907.3 L438.0 906.2 L439.0 909.4 L440.0 910.0 L441.0 907.6 L442.0 907.7 L443.0 905.9 L444.0 905.9 L445.0 907.0 L446.0 906.6 L447.0 909.1 L448.0 906.1 L449.0 905.5 L450.0 909.5 L451.0 907.6 L452.0 905.9 L453.0 907.6 L454.0 905.3 L455.0 907.5 L456.0 909.5 L457.0 908.9 L458.0 908.2 L459.0 906.2 L460.0 906.7 L461.0 905.8 L462.0 908.4 L463.0 907.3 L464.0 908.4 L465.0 906.4 L466.0 905.9 L467.0 908.4 L468.0 909.2 L469.0 908.5 L470.0 908.3 L471.0 908.3 L472.0 908.0 L473.0 905.7 L474.0 906.9 L475.0 906.2 L476.0 904.7 L477.0 904.7 L478.0 905.8 L479.0 905.7 L480.0 907.5 L481.0 908.7 L482.0 906.4 L483.0 908.5 L484.0 908.7 L485.0 908.5 L486.0 905.9 L487.0 905.3 L488.0 905.3 L489.0 905.1 L490.0 905.1 L491.0 906.9 L492.0 908.1 L493.0 907.8 L494.0 906.2 L495.0 906.9 L496.0 907.6 L497.0 904.4 L498.0 906.9 L499.0 908.0 L500.0 907.4 L501.0 907.2 L502.0 906.0 L503.0 904.6 L504.0 907.3 L505.0 905.3 L506.0 907.5 L507.0 908.4 L508.0 906.0 L509.0 906.2 L510.0 908.7 L511.0 907.8 L512.0 905.5 L513.0 905.5 L514.0 905.7 L515.0 909.2 L516.0 908.8 L517.0 906.1 L518.0 909.2 L519.0 910.0 L520.0 908.7 L521.0 907.5 L522.0 908.5 L523.0 906.8 L524.0 906.4 L525.0 910.7 L526.0 909.5 L527.0 909.0 L528.0 911.0 L529.0 908.9 L530.0 910.9 L531.0 910.9 L532.0 908.3 L533.0 908.6 L534.0 909.0 L535.0 909.0 L536.0 910.7 L537.0 909.5 L538.0 910.4 L539.0 909.3 L540.0 913.0 L541.0 910.8 L542.0 911.4 L543.0 912.2 L544.0 913.8 L545.0 911.9 L546.0 914.3 L547.0 912.7 L548.0 913.0 L549.0 913.2 L550.0 911.2 L551.0 913.3 L552.0 912.3 L553.0 911.8 L554.0 915.5 L555.0 912.9 L556.0 914.5 L557.0 915.8 L558.0 915.2 L559.0 914.3 L560.0 915.2 L561.0 915.4 L562.0 916.5 L563.0 913.5 L564.0 915.6 L565.0 914.2 L566.0 914.4 L567.0 916.7 L568.0 915.5 L569.0 915.8 L570.0 916.7 L571.0 917.5 L572.0 915.5 L573.0 916.2 L574.0 915.8 L575.0 915.9 L576.0 916.8 L577.0 915.7 L578.0 916.2 L579.0 916.0 L580.0 918.0 L581.0 917.0 L582.0 917.9 L583.0 918.2 L584.0 915.2 L585.0 916.6 L586.0 918.4 L587.0 918.0 L588.0 914.9 L589.0 914.9 L590.0 916.4 L591.0 914.8 L592.0 915.6 L593.0 914.9 L594.0 917.5 L595.0 918.0 L596.0 918.5 L597.0 915.2 L598.0 917.6 L599.0 917.3 L600.0 915.0 L601.0 918.2 L602.0 918.6 L603.0 915.3 L604.0 918.4 L605.0 916.0 L606.0 916.3 L607.0 918.5 L608.0 917.8 L609.0 914.8 L610.0 916.0 L611.0 916.3 L612.0 915.5 L613.0 914.8 L614.0 915.3 L615.0 917.1 L616.0 913.9 L617.0 916.3 L618.0 915.7 L619.0 913.8 L620.0 915.2 L621.0 916.4 L622.0 915.9 L623.0 913.9 L624.0 917.9 L625.0 917.0 L626.0 917.8 L627.0 913.9 L628.0 914.6 L629.0 913.6 L630.0 916.8 L631.0 914.5 L632.0 913.9 L633.0 915.1 L634.0 917.3 L635.0 916.8 L636.0 914.3 L637.0 913.8 L638.0 917.2 L639.0 915.6 L640.0 916.1 L641.0 913.4 L642.0 913.2 L643.0 916.0 L644.0 914.8 L645.0 913.2 L646.0 917.0 L647.0 915.6 L648.0 916.2 L649.0 912.9 L650.0 916.2 L651.0 912.6 L652.0 915.9 L653.0 914.0 L654.0 913.3 L655.0 914.1 L656.0 915.6 L657.0 912.6 L658.0 911.8 L659.0 913.4 L660.0 912.0 L661.0 911.3 L662.0 911.3 L663.0 910.7 L664.0 911.2 L665.0 911.6 L666.0 911.4 L667.0 913.2 L668.0 911.0 L669.0 911.8 L670.0 910.2 L671.0 910.8 L672.0 909.2 L673.0 910.1 L674.0 908.9 L675.0 911.9 L676.0 911.0 L677.0 909.2 L678.0 910.3 L679.0 912.2 L680.0 908.4 L681.0 911.4 L682.0 909.6 L683.0 909.7 L684.0 911.1 L685.0 909.1 L686.0 909.5 L687.0 910.3 L688.0 911.5 L689.0 908.6 L690.0 910.7 L691.0 910.1 L692.0 909.7 L693.0 908.6 L694.0 908.3 L695.0 906.9 L696.0 907.2 L697.0 906.8 L698.0 909.7 L699.0 907.5 L700.0 907.0 L701.0 906.6 L702.0 909.9 L703.0 909.9 L704.0 909.0 L705.0 907.2 L706.0 907.0 L707.0 907.1 L708.0 907.8 L709.0 906.4 L710.0 907.6 L711.0 906.7 L712.0 909.7 L713.0 909.7 L714.0 907.7 L715.0 906.3 L716.0 909.5 L717.0 906.5 L718.0 906.6 L719.0 905.0 L720.0 906.6 L721.0 907.0 L722.0 907.1 L723.0 905.8 L724.0 907.1 L725.0 904.8 L726.0 905.9 L727.0 905.1 L728.0 906.5 L729.0 904.9 L730.0 904.8 L731.0 906.0 L732.0 905.6 L733.0 907.1 L734.0 906.9 L735.0 907.8 L736.0 907.4 L737.0 907.6 L738.0 908.3 L739.0 906.1 L740.0 905.8 L741.0 908.7 L742.0 904.9 L743.0 907.4 L744.0 907.1 L745.0 904.4 L746.0 907.8 L747.0 908.1 L748.0 906.9 L749.0 907.3 L750.0 907.6 L751.0 904.6 L752.0 906.3 L753.0 906.2 L754.0 907.6 L755.0 907.4 L756.0 907.4 L757.0 906.3 L758.0 907.5 L759.0 906.5 L760.0 906.5 L761.0 904.4 L762.0 903.4 L763.0 903.8 L764.0 904.7 L765.0 903.5 L766.0 906.6 L767.0 905.3 L768.0 905.5 L769.0 905.4 L770.0 905.6 L771.0 904.6 L772.0 902.4 L773.0 905.8 L774.0 905.5 L775.0 904.3 L776.0 904.4 L777.0 904.9 L778.0 902.1 L779.0 905.0 L780.0 902.8 L781.0 901.9 L782.0 902.6 L783.0 904.6 L784.0 902.2 L785.0 904.4 L786.0 905.4 L787.0 903.1 L788.0 902.5 L789.0 902.9 L790.0 903.7 L791.0 903.9 L792.0 903.2 L793.0 903.2 L794.0 900.6 L795.0 900.8 L796.0 901.2 L797.0 903.2 L798.0 901.2 L799.0 902.3 L800.0 899.7 L801.0 899.9 L802.0 900.7 L803.0 902.3 L804.0 902.3 L805.0 902.2 L806.0 900.4 L807.0 901.3 L808.0 900.9 L809.0 900.8 L810.0 899.2 L811.0 902.5 L812.0 899.4 L813.0 902.7 L814.0 902.4 L815.0 898.2 L816.0 900.0 L817.0 901.4 L818.0 901.9 L819.0 899.5 L820.0 898.5 L821.0 898.1 L822.0 901.2 L823.0 897.8 L824.0 899.3 L825.0 897.2 L826.0 898.7 L827.0 900.5 L828.0 896.7 L829.0 899.6 L830.0 898.1 L831.0 899.6 L832.0 898.6 L833.0 896.4 L834.0 899.2 L835.0 897.2 L836.0 895.0 L837.0 894.8 L838.0 896.8 L839.0 896.5 L840.0 895.7 L841.0 894.8 L842.0 895.5 L843.0 895.3 L844.0 897.4 L845.0 893.6 L846.0 896.7 L847.0 897.0 L848.0 893.7 L849.0 897.1 L850.0 896.0 L851.0 896.7 L852.0 894.0 L853.0 894.2 L854.0 894.3 L855.0 896.8 L856.0 894.9 L857.0 893.9 L858.0 894.1 L859.0 893.3 L860.0 892.2 L861.0 892.4 L862.0 895.5 L863.0 893.0 L864.0 895.8 L865.0 892.7 L866.0 892.7 L867.0 893.7 L868.0 892.2 L869.0 892.9 L870.0 895.4 L871.0 895.0 L872.0 894.6 L873.0 893.7 L874.0 894.9 L875.0 894.9 L876.0 893.1 L877.0 893.8 L878.0 890.7 L879.0 893.7 L880.0 892.3 L881.0 893.6 L882.0 893.0 L883.0 891.4 L884.0 890.2 L885.0 894.0 L886.0 890.4 L887.0 891.8 L888.0 891.2 L889.0 890.9 L890.0 892.8 L891.0 893.7 L892.0 890.5 L893.0 892.2 L894.0 890.5 L895.0 891.6 L896.0 890.7 L897.0 889.7 L898.0 889.6 L899.0 889.7 L900.0 892.7 L901.0 890.8 L902.0 889.5 L903.0 892.4 L904.0 892.7 L905.0 890.2 L906.0 888.8 L907.0 888.9 L908.0 888.4 L909.0 889.4 L910.0 888.2 L911.0 888.8 L912.0 888.8 L913.0 890.1 L914.0 891.4 L915.0 890.7 L916.0 889.2 L917.0 889.1 L918.0 889.5 L919.0 888.8 L920.0 888.5 L921.0 887.2 L922.0 888.1 L923.0 891.0 L924.0 887.1 L925.0 888.7 L926.0 889.1 L927.0 890.0 L928.0 887.0 L929.0 887.1 L930.0 886.9 L931.0 887.4 L932.0 887.5 L933.0 889.6 L934.0 889.0 L935.0 888.9 L936.0 885.0 L937.0 885.0 L938.0 887.8 L939.0 888.5 L940.0 886.5 L941.0 886.8 L942.0 884.1 L943.0 885.7 L944.0 887.9 L945.0 887.4 L946.0 887.3 L947.0 887.7 L948.0 884.4 L949.0 883.6 L950.0 883.7 L951.0 885.2 L952.0 885.8 L953.0 886.8 L954.0 885.7 L955.0 885.2 L956.0 885.6 L957.0 884.1 L958.0 884.4 L959.0 882.0 L960.0 885.1 L961.0 882.5 L962.0 885.4 L963.0 884.1 L964.0 882.5 L965.0 881.5 L966.0 881.9 L967.0 883.5 L968.0 883.6 L969.0 880.9 L970.0 880.6 L971.0 882.5 L972.0 882.6 L973.0 881.6 L974.0 880.7 L975.0 882.3 L976.0 879.5 L977.0 880.7 L978.0 881.2 L979.0 883.3 L980.0 881.8 L981.0 882.7 L982.0 880.7 L983.0 879.5 L984.0 879.5 L985.0 882.5 L986.0 881.2 L987.0 879.3 L988.0 877.9 L989.0 879.9 L990.0 880.5 L991.0 879.3 L992.0 878.4 L993.0 880.1 L994.0 881.1 L995.0 877.9 L996.0 876.8 L997.0 877.8 L998.0 877.9 L999.0 878.7 L1000.0 876.3 L1001.0 878.6 L1002.0 878.1 L1003.0 876.8 L1004.0 875.1 L1005.0 878.2 L1006.0 875.0 L1007.0 876.9 L1008.0 874.0 L1009.0 873.7 L1010.0 875.8 L1011.0 873.4 L1012.0 876.0 L1013.0 873.7 L1014.0 872.0 L1015.0 871.9 L1016.0 872.5 L1017.0 873.2 L1018.0 874.2 L1019.0 870.4 L1020.0 871.1 L1021.0 870.1 L1022.0 873.1 L1023.0 869.1 L1024.0 868.4 L1025.0 868.2 L1026.0 869.3 L1027.0 871.3 L1028.0 870.9 L1029.0 869.9 L1030.0 870.8 L1031.0 870.2 L1032.0 867.2 L1033.0 865.7 L1034.0 868.0 L1035.0 866.3 L1036.0 862.2 L1037.0 864.0 L1038.0 861.8 L1039.0 860.9 L1040.0 859.7 L1041.0 858.1 L1042.0 856.4 L1043.0 856.7 L1044.0 856.1 L1045.0 857.8 L1046.0 853.2 L1047.0 855.9 L1048.0 851.7 L1049.0 851.4 L1050.0 852.5 L1051.0 851.5 L1052.0 848.9 L1053.0 846.3 L1054.0 847.2 L1055.0 845.8 L1056.0 847.3 L1057.0 843.1 L1058.0 842.9 L1059.0 844.1 L1060.0 839.2 L1061.0 839.8 L1062.0 840.5 L1063.0 839.2 L1064.0 834.9 L1065.0 833.8 L1066.0 832.9 L1067.0 835.6 L1068.0 831.6 L1069.0 832.6 L1070.0 832.2 L1071.0 828.7 L1072.0 827.3 L1073.0 829.2 L1074.0 826.7 L1075.0 824.0 L1076.0 824.9 L1077.0 822.1 L1078.0 820.8 L1079.0 818.5 L1080.0 821.0 L1081.0 820.9 L1082.0 818.9 L1083.0 819.4 L1084.0 814.6 L1085.0 814.8 L1086.0 815.0 L1087.0 816.4 L1088.0 815.6 L1089.0 812.3 L1090.0 810.9 L1091.0 810.9 L1092.0 810.4 L1093.0 811.6 L1094.0 807.5 L1095.0 809.5 L1096.0 808.6 L1097.0 809.4 L1098.0 809.6 L1099.0 809.3 L1100.0 808.4 L1101.0 808.8 L1102.0 809.4 L1103.0 811.6 L1104.0 808.9 L1105.0 809.9 L1106.0 813.4 L1107.0 812.3 L1108.0 812.6 L1109.0 813.5 L1110.0 816.9 L1111.0 817.0 L1112.0 821.0 L1113.0 821.7 L1114.0 823.2 L1115.0 821.2 L1116.0 821.5 L1117.0 822.6 L1118.0 825.5 L1119.0 827.5 L1120.0 827.5 L1121.0 827.6 L1122.0 829.5 L1123.0 831.5 L1124.0 832.9 L1125.0 834.4 L1126.0 836.1 L1127.0 836.5 L1128.0 835.3 L1129.0 839.6 L1130.0 838.4 L1131.0 840.8 L1132.0 841.2 L1133.0 844.0 L1134.0 842.8 L1135.0 844.2 L1136.0 845.4 L1137.0 846.2 L1138.0 850.6 L1139.0 850.5 L1140.0 850.5 L1141.0 852.0 L1142.0 855.7 L1143.0 854.5 L1144.0 854.2 L1145.0 857.6 L1146.0 857.8 L1147.0 860.2 L1148.0 857.2 L1149.0 859.7 L1150.0 862.2 L1151.0 863.2 L1152.0 864.4 L1153.0 861.4 L1154.0 863.5 L1155.0 863.6 L1156.0 864.8 L1157.0 869.2 L1158.0 868.3 L1159.0 870.8 L1160.0 869.2 L1161.0 872.3 L1162.0 871.4 L1163.0 871.4 L1164.0 874.6 L1165.0 876.2 L1166.0 873.4 L1167.0 876.5 L1168.0 877.5 L1169.0 876.6 L1170.0 878.2 L1171.0 878.1 L1172.0 879.3 L1173.0 880.4 L1174.0 882.8 L1175.0 884.0 L1176.0 882.9 L1177.0 882.9 L1178.0 885.2 L1179.0 887.2 L1180.0 885.5 L1181.0 886.5 L1182.0 886.5 L1183.0 889.5 L1184.0 888.9 L1185.0 887.2 L1186.0 887.8 L1187.0 889.5 L1188.0 890.7 L1189.0 891.5 L1190.0 889.5 L1191.0 890.3 L1192.0 893.1 L1193.0 892.3 L1194.0 892.2 L1195.0 892.7 L1196.0 896.0 L1197.0 893.6 L1198.0 895.2 L1199.0 894.7 L1200.0 895.4 L1201.0 897.8 L1202.0 898.9 L1203.0 896.5 L1204.0 896.2 L1205.0 899.0 L1206.0 897.2 L1207.0 896.7 L1208.0 901.1 L1209.0 899.5 L1210.0 901.7" fill="none" stroke="#000" stroke-width="4.4" stroke-linejoin="round" opacity="1.0"/>
<path d="M297.0 876.4 L298.0 876.8 L299.0 876.4 L300.0 876.3 L301.0 876.0 L302.0 878.0 L303.0 877.9 L304.0 879.0 L305.0 878.4 L306.0 879.7 L307.0 878.9 L308.0 880.6 L309.0 880.8 L310.0 880.4 L311.0 881.1 L312.0 881.8 L313.0 881.0 L314.0 882.2 L315.0 883.2 L316.0 882.3 L317.0 884.0 L318.0 884.0 L319.0 884.8 L320.0 884.0 L321.0 883.8 L322.0 885.8 L323.0 886.2 L324.0 885.7 L325.0 885.3 L326.0 885.8 L327.0 887.0 L328.0 886.3 L329.0 888.0 L330.0 887.2 L331.0 886.4 L332.0 887.7 L333.0 887.1 L334.0 888.6 L335.0 888.6 L336.0 887.8 L337.0 888.3 L338.0 888.5 L339.0 888.9 L340.0 889.4 L341.0 887.3 L342.0 888.2 L343.0 888.9 L344.0 888.3 L345.0 889.1 L346.0 888.0 L347.0 890.1 L348.0 889.3 L349.0 888.5 L350.0 889.9 L351.0 889.2 L352.0 889.0 L353.0 889.9 L354.0 889.2 L355.0 889.5 L356.0 891.1 L357.0 890.9 L358.0 889.4 L359.0 891.3 L360.0 889.6 L361.0 890.5 L362.0 892.0 L363.0 891.4 L364.0 890.8 L365.0 891.1 L366.0 891.3 L367.0 890.7 L368.0 893.0 L369.0 890.8 L370.0 891.8 L371.0 892.7 L372.0 892.0 L373.0 893.5 L374.0 891.9 L375.0 893.8 L376.0 893.7 L377.0 893.3 L378.0 893.9 L379.0 893.0 L380.0 894.1 L381.0 894.1 L382.0 893.5 L383.0 893.6 L384.0 894.3 L385.0 893.7 L386.0 893.0 L387.0 894.7 L388.0 893.7 L389.0 894.3 L390.0 895.2 L391.0 893.8 L392.0 893.6 L393.0 894.0 L394.0 895.2 L395.0 894.8 L396.0 894.7 L397.0 895.3 L398.0 896.5 L399.0 894.9 L400.0 895.3 L401.0 896.4 L402.0 895.8 L403.0 895.0 L404.0 895.6 L405.0 895.6 L406.0 894.8 L407.0 895.4 L408.0 895.3 L409.0 896.5 L410.0 895.4 L411.0 896.2 L412.0 897.0 L413.0 896.9 L414.0 895.7 L415.0 896.2 L416.0 895.6 L417.0 895.8 L418.0 896.1 L419.0 896.8 L420.0 897.2 L421.0 895.7 L422.0 895.0 L423.0 896.1 L424.0 895.2 L425.0 895.2 L426.0 897.0 L427.0 895.5 L428.0 897.0 L429.0 896.1 L430.0 897.6 L431.0 897.4 L432.0 895.5 L433.0 895.9 L434.0 897.7 L435.0 896.9 L436.0 896.5 L437.0 897.4 L438.0 897.5 L439.0 896.8 L440.0 896.8 L441.0 895.9 L442.0 896.6 L443.0 896.1 L444.0 897.3 L445.0 897.3 L446.0 896.2 L447.0 897.4 L448.0 896.1 L449.0 896.2 L450.0 897.5 L451.0 897.1 L452.0 898.2 L453.0 897.6 L454.0 897.8 L455.0 896.4 L456.0 898.2 L457.0 896.4 L458.0 897.7 L459.0 898.5 L460.0 898.5 L461.0 898.5 L462.0 897.5 L463.0 898.1 L464.0 898.3 L465.0 896.8 L466.0 898.8 L467.0 898.7 L468.0 897.6 L469.0 898.5 L470.0 897.7 L471.0 897.3 L472.0 898.4 L473.0 896.9 L474.0 898.7 L475.0 899.2 L476.0 897.5 L477.0 899.1 L478.0 897.1 L479.0 899.0 L480.0 897.7 L481.0 899.3 L482.0 898.1 L483.0 899.3 L484.0 897.2 L485.0 897.4 L486.0 899.1 L487.0 898.7 L488.0 898.5 L489.0 897.4 L490.0 897.7 L491.0 898.2 L492.0 897.5 L493.0 899.8 L494.0 899.3 L495.0 899.8 L496.0 899.2 L497.0 898.4 L498.0 897.8 L499.0 899.4 L500.0 897.9 L501.0 899.0 L502.0 898.8 L503.0 898.9 L504.0 898.0 L505.0 898.1 L506.0 899.3 L507.0 898.3 L508.0 899.7 L509.0 898.9 L510.0 899.4 L511.0 899.3 L512.0 900.4 L513.0 900.2 L514.0 899.9 L515.0 900.1 L516.0 901.1 L517.0 902.1 L518.0 901.1 L519.0 900.6 L520.0 901.2 L521.0 901.1 L522.0 902.1 L523.0 902.8 L524.0 902.4 L525.0 901.7 L526.0 902.2 L527.0 902.5 L528.0 902.8 L529.0 902.8 L530.0 904.4 L531.0 903.5 L532.0 904.0 L533.0 904.3 L534.0 904.3 L535.0 904.8 L536.0 903.9 L537.0 904.8 L538.0 905.7 L539.0 903.9 L540.0 905.2 L541.0 904.8 L542.0 904.2 L543.0 904.3 L544.0 906.2 L545.0 904.8 L546.0 906.4 L547.0 905.1 L548.0 905.9 L549.0 905.3 L550.0 906.7 L551.0 907.4 L552.0 906.3 L553.0 907.2 L554.0 908.3 L555.0 906.9 L556.0 907.5 L557.0 908.3 L558.0 908.8 L559.0 907.3 L560.0 908.6 L561.0 907.5 L562.0 907.6 L563.0 909.9 L564.0 907.8 L565.0 910.1 L566.0 909.8 L567.0 909.8 L568.0 910.1 L569.0 910.1 L570.0 909.2 L571.0 909.7 L572.0 909.1 L573.0 910.8 L574.0 910.6 L575.0 910.7 L576.0 909.3 L577.0 910.3 L578.0 909.5 L579.0 910.9 L580.0 910.8 L581.0 911.5 L582.0 910.8 L583.0 910.8 L584.0 911.1 L585.0 909.5 L586.0 910.7 L587.0 909.4 L588.0 910.3 L589.0 909.7 L590.0 911.8 L591.0 909.6 L592.0 911.8 L593.0 911.9 L594.0 910.7 L595.0 911.7 L596.0 909.9 L597.0 910.1 L598.0 909.9 L599.0 910.1 L600.0 910.0 L601.0 912.0 L602.0 910.3 L603.0 911.5 L604.0 910.8 L605.0 910.5 L606.0 911.2 L607.0 910.7 L608.0 912.7 L609.0 911.3 L610.0 911.8 L611.0 911.8 L612.0 912.0 L613.0 911.7 L614.0 911.3 L615.0 911.0 L616.0 912.8 L617.0 911.2 L618.0 911.9 L619.0 912.8 L620.0 912.3 L621.0 913.2 L622.0 912.9 L623.0 912.3 L624.0 911.4 L625.0 912.5 L626.0 912.3 L627.0 913.3 L628.0 912.5 L629.0 913.0 L630.0 913.3 L631.0 912.5 L632.0 913.5 L633.0 913.7 L634.0 911.9 L635.0 913.8 L636.0 913.7 L637.0 913.7 L638.0 912.5 L639.0 912.4 L640.0 912.1 L641.0 912.8 L642.0 914.0 L643.0 912.8 L644.0 912.0 L645.0 912.8 L646.0 912.3 L647.0 908.3 L648.0 903.3 L649.0 903.7 L650.0 907.0 L651.0 913.0 L652.0 912.3 L653.0 914.2 L654.0 913.9 L655.0 913.1 L656.0 914.1 L657.0 913.0 L658.0 913.6 L659.0 912.8 L660.0 912.5 L661.0 914.0 L662.0 913.5 L663.0 912.9 L664.0 913.5 L665.0 912.9 L666.0 913.2 L667.0 911.4 L668.0 911.5 L669.0 911.4 L670.0 912.5 L671.0 912.8 L672.0 911.4 L673.0 912.1 L674.0 911.2 L675.0 912.5 L676.0 912.6 L677.0 910.9 L678.0 913.0 L679.0 912.2 L680.0 910.9 L681.0 911.4 L682.0 910.8 L683.0 912.2 L684.0 912.6 L685.0 910.7 L686.0 910.7 L687.0 911.7 L688.0 912.2 L689.0 911.9 L690.0 911.1 L691.0 910.2 L692.0 911.4 L693.0 911.0 L694.0 911.7 L695.0 911.1 L696.0 911.5 L697.0 912.0 L698.0 911.1 L699.0 911.7 L700.0 910.2 L701.0 909.5 L702.0 911.5 L703.0 909.4 L704.0 911.7 L705.0 910.3 L706.0 909.3 L707.0 909.8 L708.0 910.8 L709.0 909.9 L710.0 910.5 L711.0 909.2 L712.0 910.9 L713.0 909.7 L714.0 910.8 L715.0 909.1 L716.0 910.3 L717.0 909.7 L718.0 909.5 L719.0 908.5 L720.0 909.7 L721.0 910.3 L722.0 908.5 L723.0 909.2 L724.0 908.1 L725.0 910.4 L726.0 910.2 L727.0 909.4 L728.0 908.9 L729.0 907.8 L730.0 907.8 L731.0 909.2 L732.0 909.3 L733.0 909.7 L734.0 909.3 L735.0 908.2 L736.0 907.7 L737.0 908.3 L738.0 907.7 L739.0 908.1 L740.0 908.8 L741.0 907.5 L742.0 908.5 L743.0 907.7 L744.0 905.8 L745.0 907.2 L746.0 906.8 L747.0 906.4 L748.0 904.7 L749.0 906.5 L750.0 905.4 L751.0 905.2 L752.0 904.1 L753.0 903.5 L754.0 903.2 L755.0 902.8 L756.0 901.2 L757.0 899.0 L758.0 897.0 L759.0 896.8 L760.0 895.0 L761.0 893.6 L762.0 890.2 L763.0 889.6 L764.0 888.7 L765.0 889.8 L766.0 894.1 L767.0 895.1 L768.0 897.1 L769.0 899.4 L770.0 901.6 L771.0 899.8 L772.0 900.1 L773.0 900.4 L774.0 899.9 L775.0 900.6 L776.0 899.1 L777.0 899.9 L778.0 900.2 L779.0 900.2 L780.0 900.1 L781.0 899.2 L782.0 900.0 L783.0 900.8 L784.0 899.5 L785.0 899.8 L786.0 900.2 L787.0 898.7 L788.0 898.7 L789.0 900.3 L790.0 898.7 L791.0 898.9 L792.0 898.7 L793.0 900.1 L794.0 899.0 L795.0 899.5 L796.0 897.1 L797.0 896.7 L798.0 896.9 L799.0 895.4 L800.0 895.5 L801.0 894.4 L802.0 892.7 L803.0 892.1 L804.0 892.1 L805.0 891.7 L806.0 890.1 L807.0 889.6 L808.0 888.3 L809.0 888.2 L810.0 887.6 L811.0 887.1 L812.0 886.9 L813.0 886.8 L814.0 886.0 L815.0 885.6 L816.0 884.0 L817.0 884.0 L818.0 884.0 L819.0 883.9 L820.0 881.8 L821.0 880.8 L822.0 880.4 L823.0 881.0 L824.0 881.5 L825.0 880.6 L826.0 883.0 L827.0 883.6 L828.0 885.0 L829.0 885.9 L830.0 884.9 L831.0 887.4 L832.0 886.7 L833.0 887.6 L834.0 889.1 L835.0 890.2 L836.0 890.1 L837.0 891.4 L838.0 892.1 L839.0 892.4 L840.0 892.1 L841.0 891.8 L842.0 892.2 L843.0 892.3 L844.0 892.4 L845.0 892.9 L846.0 892.6 L847.0 892.2 L848.0 891.7 L849.0 892.2 L850.0 891.1 L851.0 890.9 L852.0 890.7 L853.0 891.9 L854.0 890.5 L855.0 890.5 L856.0 890.7 L857.0 891.1 L858.0 891.2 L859.0 890.9 L860.0 890.8 L861.0 889.7 L862.0 891.3 L863.0 890.8 L864.0 889.8 L865.0 889.7 L866.0 890.0 L867.0 888.8 L868.0 889.9 L869.0 890.3 L870.0 888.8 L871.0 888.9 L872.0 888.1 L873.0 889.5 L874.0 888.0 L875.0 887.7 L876.0 888.4 L877.0 887.3 L878.0 888.4 L879.0 887.0 L880.0 887.2 L881.0 886.3 L882.0 886.8 L883.0 886.3 L884.0 885.2 L885.0 886.9 L886.0 884.9 L887.0 885.7 L888.0 885.7 L889.0 885.0 L890.0 884.5 L891.0 884.6 L892.0 885.7 L893.0 883.1 L894.0 884.7 L895.0 883.5 L896.0 882.6 L897.0 882.4 L898.0 881.8 L899.0 881.7 L900.0 881.4 L901.0 879.7 L902.0 878.8 L903.0 878.2 L904.0 878.9 L905.0 877.3 L906.0 875.7 L907.0 876.4 L908.0 874.7 L909.0 874.7 L910.0 874.8 L911.0 874.1 L912.0 873.4 L913.0 873.5 L914.0 872.4 L915.0 872.6 L916.0 872.5 L917.0 871.7 L918.0 873.5 L919.0 873.0 L920.0 874.9 L921.0 874.6 L922.0 874.6 L923.0 874.5 L924.0 876.6 L925.0 875.9 L926.0 875.6 L927.0 878.0 L928.0 876.6 L929.0 877.2 L930.0 877.5 L931.0 878.9 L932.0 878.6 L933.0 878.3 L934.0 879.2 L935.0 878.0 L936.0 877.2 L937.0 879.0 L938.0 876.8 L939.0 876.5 L940.0 876.8 L941.0 878.5 L942.0 877.0 L943.0 876.7 L944.0 876.6 L945.0 876.9 L946.0 878.3 L947.0 878.5 L948.0 878.2 L949.0 878.5 L950.0 880.5 L951.0 880.3 L952.0 880.7 L953.0 880.5 L954.0 882.8 L955.0 882.3 L956.0 883.7 L957.0 883.6 L958.0 884.0 L959.0 883.1 L960.0 885.1 L961.0 884.8 L962.0 882.9 L963.0 882.8 L964.0 884.1 L965.0 884.0 L966.0 882.8 L967.0 884.6 L968.0 882.3 L969.0 883.4 L970.0 883.0 L971.0 882.6 L972.0 883.3 L973.0 882.6 L974.0 883.3 L975.0 883.2 L976.0 881.3 L977.0 882.0 L978.0 882.4 L979.0 881.7 L980.0 882.3 L981.0 880.8 L982.0 880.9 L983.0 881.8 L984.0 881.0 L985.0 880.9 L986.0 881.3 L987.0 881.6 L988.0 881.6 L989.0 881.4 L990.0 881.1 L991.0 880.8 L992.0 881.7 L993.0 881.6 L994.0 881.6 L995.0 881.6 L996.0 880.7 L997.0 879.2 L998.0 880.0 L999.0 878.6 L1000.0 878.2 L1001.0 878.1 L1002.0 876.8 L1003.0 877.4 L1004.0 876.4 L1005.0 876.1 L1006.0 876.1 L1007.0 876.5 L1008.0 875.9 L1009.0 874.7 L1010.0 875.2 L1011.0 874.1 L1012.0 873.6 L1013.0 873.3 L1014.0 872.6 L1015.0 871.9 L1016.0 873.4 L1017.0 872.1 L1018.0 871.9 L1019.0 871.4 L1020.0 870.7 L1021.0 870.6 L1022.0 868.7 L1023.0 868.5 L1024.0 869.2 L1025.0 868.6 L1026.0 867.1 L1027.0 867.2 L1028.0 867.0 L1029.0 868.2 L1030.0 867.5 L1031.0 865.2 L1032.0 865.6 L1033.0 864.6 L1034.0 863.2 L1035.0 862.7 L1036.0 863.5 L1037.0 862.4 L1038.0 859.9 L1039.0 860.3 L1040.0 857.8 L1041.0 858.1 L1042.0 855.9 L1043.0 856.3 L1044.0 855.3 L1045.0 855.4 L1046.0 853.5 L1047.0 853.4 L1048.0 850.9 L1049.0 850.9 L1050.0 849.0 L1051.0 847.1 L1052.0 847.7 L1053.0 843.7 L1054.0 842.8 L1055.0 841.1 L1056.0 839.1 L1057.0 839.0 L1058.0 837.1 L1059.0 834.6 L1060.0 833.3 L1061.0 832.3 L1062.0 828.5 L1063.0 828.0 L1064.0 826.4 L1065.0 823.8 L1066.0 821.6 L1067.0 818.9 L1068.0 816.7 L1069.0 814.8 L1070.0 813.2 L1071.0 811.0 L1072.0 810.2 L1073.0 808.8 L1074.0 809.0 L1075.0 811.0 L1076.0 810.5 L1077.0 810.0 L1078.0 812.0 L1079.0 810.5 L1080.0 811.7 L1081.0 812.1 L1082.0 812.7 L1083.0 812.3 L1084.0 811.2 L1085.0 807.2 L1086.0 803.4 L1087.0 801.0 L1088.0 797.2 L1089.0 794.5 L1090.0 791.4 L1091.0 787.4 L1092.0 785.7 L1093.0 780.7 L1094.0 779.5 L1095.0 775.1 L1096.0 773.6 L1097.0 776.4 L1098.0 781.1 L1099.0 784.4 L1100.0 788.8 L1101.0 792.8 L1102.0 795.1 L1103.0 798.8 L1104.0 803.1 L1105.0 803.6 L1106.0 807.0 L1107.0 809.3 L1108.0 811.6 L1109.0 811.9 L1110.0 815.6 L1111.0 818.3 L1112.0 818.5 L1113.0 820.0 L1114.0 823.3 L1115.0 824.1 L1116.0 825.4 L1117.0 826.8 L1118.0 827.7 L1119.0 828.0 L1120.0 829.1 L1121.0 830.0 L1122.0 832.8 L1123.0 834.1 L1124.0 836.1 L1125.0 835.6 L1126.0 836.6 L1127.0 838.4 L1128.0 841.0 L1129.0 840.5 L1130.0 843.3 L1131.0 844.0 L1132.0 845.6 L1133.0 845.3 L1134.0 848.2 L1135.0 848.4 L1136.0 850.5 L1137.0 850.1 L1138.0 851.9 L1139.0 853.8 L1140.0 854.4 L1141.0 856.3 L1142.0 856.4 L1143.0 857.7 L1144.0 859.6 L1145.0 859.9 L1146.0 862.4 L1147.0 862.0 L1148.0 862.8 L1149.0 864.1 L1150.0 865.6 L1151.0 865.9 L1152.0 868.4 L1153.0 867.6 L1154.0 869.5 L1155.0 871.2 L1156.0 870.7 L1157.0 871.7 L1158.0 873.3 L1159.0 875.1 L1160.0 876.1 L1161.0 877.2 L1162.0 877.8 L1163.0 877.3 L1164.0 880.3 L1165.0 879.5 L1166.0 880.1 L1167.0 882.3 L1168.0 882.1 L1169.0 883.2 L1170.0 884.6 L1171.0 887.5 L1172.0 886.8 L1173.0 889.1 L1174.0 890.4 L1175.0 889.6 L1176.0 890.4 L1177.0 891.6 L1178.0 893.6 L1179.0 894.2 L1180.0 893.8 L1181.0 895.3 L1182.0 894.1 L1183.0 894.4 L1184.0 895.6 L1185.0 896.8 L1186.0 897.7 L1187.0 898.4 L1188.0 898.7 L1189.0 899.3 L1190.0 898.9 L1191.0 898.9 L1192.0 898.5 L1193.0 900.1 L1194.0 901.4 L1195.0 901.6 L1196.0 901.2 L1197.0 902.1 L1198.0 902.9 L1199.0 903.8 L1200.0 903.6 L1201.0 903.8 L1202.0 905.1 L1203.0 905.6 L1204.0 903.7 L1205.0 906.4 L1206.0 905.3 L1207.0 905.0 L1208.0 906.2 L1209.0 906.2 L1210.0 906.4" fill="none" stroke="#008a00" stroke-width="3.6" stroke-linejoin="round" opacity="1.0"/>
<path d="M297.0 870.9 L298.0 872.0 L299.0 872.7 L300.0 873.8 L301.0 873.4 L302.0 874.7 L303.0 871.3 L304.0 873.7 L305.0 876.3 L306.0 875.5 L307.0 877.1 L308.0 874.1 L309.0 876.2 L310.0 875.7 L311.0 877.5 L312.0 878.0 L313.0 875.7 L314.0 876.8 L315.0 877.3 L316.0 880.4 L317.0 879.9 L318.0 877.5 L319.0 880.5 L320.0 877.8 L321.0 880.2 L322.0 878.2 L323.0 877.9 L324.0 882.0 L325.0 879.3 L326.0 879.5 L327.0 883.1 L328.0 882.9 L329.0 880.5 L330.0 883.7 L331.0 882.1 L332.0 882.9 L333.0 881.0 L334.0 884.5 L335.0 883.6 L336.0 885.1 L337.0 885.0 L338.0 882.6 L339.0 883.1 L340.0 882.4 L341.0 882.6 L342.0 882.4 L343.0 883.7 L344.0 885.2 L345.0 882.7 L346.0 885.8 L347.0 884.4 L348.0 884.4 L349.0 886.8 L350.0 885.5 L351.0 884.9 L352.0 885.7 L353.0 886.8 L354.0 884.1 L355.0 888.3 L356.0 884.2 L357.0 887.6 L358.0 888.1 L359.0 884.6 L360.0 888.1 L361.0 886.4 L362.0 887.5 L363.0 885.1 L364.0 885.4 L365.0 886.1 L366.0 889.7 L367.0 886.5 L368.0 889.1 L369.0 890.0 L370.0 890.1 L371.0 887.6 L372.0 887.8 L373.0 888.7 L374.0 889.9 L375.0 887.1 L376.0 890.1 L377.0 890.4 L378.0 890.8 L379.0 887.4 L380.0 891.5 L381.0 887.9 L382.0 889.1 L383.0 890.4 L384.0 891.9 L385.0 889.5 L386.0 892.2 L387.0 890.6 L388.0 889.8 L389.0 889.9 L390.0 889.4 L391.0 889.1 L392.0 889.6 L393.0 892.1 L394.0 893.6 L395.0 890.0 L396.0 889.7 L397.0 893.9 L398.0 892.0 L399.0 891.5 L400.0 890.8 L401.0 892.4 L402.0 893.5 L403.0 891.9 L404.0 891.8 L405.0 890.2 L406.0 894.0 L407.0 890.2 L408.0 892.3 L409.0 893.8 L410.0 890.8 L411.0 893.5 L412.0 894.5 L413.0 893.1 L414.0 893.9 L415.0 890.9 L416.0 892.4 L417.0 891.2 L418.0 894.3 L419.0 891.9 L420.0 892.7 L421.0 895.1 L422.0 894.5 L423.0 895.1 L424.0 892.8 L425.0 893.0 L426.0 894.2 L427.0 893.1 L428.0 892.3 L429.0 892.9 L430.0 891.8 L431.0 892.8 L432.0 895.6 L433.0 895.5 L434.0 894.1 L435.0 893.6 L436.0 892.9 L437.0 891.8 L438.0 892.7 L439.0 895.0 L440.0 895.4 L441.0 893.2 L442.0 895.1 L443.0 895.1 L444.0 894.8 L445.0 894.8 L446.0 895.2 L447.0 893.5 L448.0 895.1 L449.0 893.3 L450.0 894.2 L451.0 895.5 L452.0 895.2 L453.0 893.5 L454.0 896.4 L455.0 895.2 L456.0 894.9 L457.0 892.5 L458.0 894.9 L459.0 893.6 L460.0 895.6 L461.0 894.7 L462.0 896.3 L463.0 895.6 L464.0 896.3 L465.0 894.4 L466.0 895.8 L467.0 896.2 L468.0 896.7 L469.0 894.6 L470.0 896.8 L471.0 897.0 L472.0 896.3 L473.0 897.6 L474.0 897.6 L475.0 895.7 L476.0 895.8 L477.0 894.2 L478.0 897.3 L479.0 897.8 L480.0 895.8 L481.0 896.8 L482.0 897.0 L483.0 897.1 L484.0 894.7 L485.0 897.4 L486.0 896.6 L487.0 897.0 L488.0 896.0 L489.0 896.9 L490.0 897.6 L491.0 897.1 L492.0 897.5 L493.0 894.5 L494.0 895.1 L495.0 896.4 L496.0 897.4 L497.0 895.6 L498.0 897.7 L499.0 897.5 L500.0 894.9 L501.0 896.9 L502.0 895.9 L503.0 895.2 L504.0 895.6 L505.0 896.5 L506.0 896.0 L507.0 896.2 L508.0 895.7 L509.0 897.7 L510.0 897.5 L511.0 898.7 L512.0 898.7 L513.0 897.3 L514.0 900.4 L515.0 896.6 L516.0 898.5 L517.0 898.1 L518.0 898.8 L519.0 897.7 L520.0 901.0 L521.0 899.1 L522.0 897.8 L523.0 900.5 L524.0 898.3 L525.0 900.4 L526.0 899.7 L527.0 900.9 L528.0 902.7 L529.0 902.2 L530.0 900.6 L531.0 902.5 L532.0 901.9 L533.0 900.9 L534.0 900.0 L535.0 902.2 L536.0 902.2 L537.0 904.0 L538.0 904.2 L539.0 902.8 L540.0 901.8 L541.0 904.5 L542.0 900.9 L543.0 901.7 L544.0 904.0 L545.0 904.5 L546.0 902.7 L547.0 905.2 L548.0 906.7 L549.0 904.7 L550.0 905.3 L551.0 904.7 L552.0 905.3 L553.0 908.6 L554.0 906.3 L555.0 909.2 L556.0 909.3 L557.0 908.2 L558.0 907.0 L559.0 910.5 L560.0 908.7 L561.0 908.7 L562.0 908.6 L563.0 911.8 L564.0 910.0 L565.0 909.4 L566.0 910.5 L567.0 909.3 L568.0 911.8 L569.0 911.3 L570.0 910.7 L571.0 912.9 L572.0 913.2 L573.0 909.7 L574.0 912.1 L575.0 911.0 L576.0 914.0 L577.0 913.4 L578.0 911.1 L579.0 911.3 L580.0 910.9 L581.0 914.6 L582.0 911.7 L583.0 913.1 L584.0 912.6 L585.0 913.5 L586.0 913.4 L587.0 914.1 L588.0 911.4 L589.0 914.3 L590.0 912.4 L591.0 913.5 L592.0 912.7 L593.0 912.6 L594.0 913.7 L595.0 913.5 L596.0 913.1 L597.0 914.9 L598.0 914.3 L599.0 911.9 L600.0 913.0 L601.0 913.9 L602.0 916.0 L603.0 916.0 L604.0 914.6 L605.0 912.3 L606.0 915.8 L607.0 914.3 L608.0 915.0 L609.0 915.7 L610.0 915.4 L611.0 914.9 L612.0 916.8 L613.0 914.5 L614.0 914.6 L615.0 916.6 L616.0 913.8 L617.0 914.2 L618.0 916.6 L619.0 913.3 L620.0 916.7 L621.0 916.1 L622.0 914.9 L623.0 914.3 L624.0 916.5 L625.0 917.1 L626.0 913.7 L627.0 915.2 L628.0 915.6 L629.0 915.4 L630.0 914.7 L631.0 913.9 L632.0 915.8 L633.0 916.8 L634.0 913.6 L635.0 914.3 L636.0 917.0 L637.0 916.9 L638.0 916.3 L639.0 913.5 L640.0 916.6 L641.0 917.8 L642.0 917.9 L643.0 916.6 L644.0 913.7 L645.0 917.3 L646.0 914.5 L647.0 916.4 L648.0 917.8 L649.0 916.7 L650.0 914.1 L651.0 914.8 L652.0 917.5 L653.0 914.1 L654.0 916.1 L655.0 915.3 L656.0 914.1 L657.0 916.1 L658.0 913.6 L659.0 913.8 L660.0 915.0 L661.0 913.6 L662.0 913.5 L663.0 915.8 L664.0 916.5 L665.0 917.1 L666.0 913.8 L667.0 915.1 L668.0 914.5 L669.0 915.8 L670.0 915.2 L671.0 917.2 L672.0 914.7 L673.0 913.3 L674.0 916.1 L675.0 913.6 L676.0 915.7 L677.0 915.2 L678.0 916.9 L679.0 915.3 L680.0 915.6 L681.0 914.0 L682.0 915.3 L683.0 913.9 L684.0 916.1 L685.0 915.0 L686.0 913.3 L687.0 913.8 L688.0 914.3 L689.0 915.9 L690.0 913.5 L691.0 915.8 L692.0 915.5 L693.0 913.0 L694.0 915.5 L695.0 913.0 L696.0 913.1 L697.0 915.1 L698.0 913.6 L699.0 916.3 L700.0 914.6 L701.0 913.9 L702.0 915.9 L703.0 912.5 L704.0 915.6 L705.0 912.6 L706.0 913.0 L707.0 916.5 L708.0 915.3 L709.0 913.3 L710.0 912.8 L711.0 916.5 L712.0 915.2 L713.0 915.8 L714.0 912.8 L715.0 914.9 L716.0 913.7 L717.0 913.2 L718.0 913.6 L719.0 914.8 L720.0 913.5 L721.0 913.6 L722.0 912.4 L723.0 915.3 L724.0 914.4 L725.0 915.0 L726.0 913.2 L727.0 915.0 L728.0 913.4 L729.0 913.6 L730.0 913.4 L731.0 914.0 L732.0 912.4 L733.0 911.0 L734.0 910.6 L735.0 911.2 L736.0 910.4 L737.0 914.0 L738.0 912.1 L739.0 913.3 L740.0 909.8 L741.0 911.8 L742.0 913.6 L743.0 912.3 L744.0 911.4 L745.0 911.5 L746.0 909.8 L747.0 910.0 L748.0 910.0 L749.0 910.8 L750.0 910.8 L751.0 912.9 L752.0 909.6 L753.0 910.0 L754.0 910.1 L755.0 909.2 L756.0 908.9 L757.0 907.9 L758.0 908.1 L759.0 905.3 L760.0 908.4 L761.0 905.2 L762.0 907.0 L763.0 906.9 L764.0 907.8 L765.0 907.9 L766.0 911.0 L767.0 907.3 L768.0 909.6 L769.0 907.9 L770.0 909.6 L771.0 909.8 L772.0 907.2 L773.0 907.4 L774.0 906.5 L775.0 907.4 L776.0 906.7 L777.0 908.0 L778.0 910.4 L779.0 907.6 L780.0 907.3 L781.0 907.9 L782.0 907.0 L783.0 908.8 L784.0 908.7 L785.0 906.1 L786.0 906.3 L787.0 908.1 L788.0 909.2 L789.0 907.8 L790.0 906.8 L791.0 909.0 L792.0 904.7 L793.0 904.8 L794.0 907.9 L795.0 906.1 L796.0 904.4 L797.0 906.5 L798.0 908.4 L799.0 906.2 L800.0 905.3 L801.0 904.0 L802.0 903.7 L803.0 907.2 L804.0 905.2 L805.0 906.9 L806.0 902.8 L807.0 903.5 L808.0 902.4 L809.0 903.7 L810.0 902.1 L811.0 902.7 L812.0 903.2 L813.0 902.5 L814.0 901.2 L815.0 901.0 L816.0 904.4 L817.0 900.2 L818.0 901.0 L819.0 899.9 L820.0 899.8 L821.0 897.1 L822.0 897.5 L823.0 895.9 L824.0 897.2 L825.0 899.5 L826.0 898.7 L827.0 900.5 L828.0 898.3 L829.0 898.0 L830.0 900.9 L831.0 901.3 L832.0 902.3 L833.0 901.3 L834.0 902.2 L835.0 902.5 L836.0 903.1 L837.0 900.3 L838.0 900.7 L839.0 902.2 L840.0 899.4 L841.0 898.8 L842.0 899.5 L843.0 898.3 L844.0 901.1 L845.0 901.2 L846.0 898.8 L847.0 897.8 L848.0 897.4 L849.0 898.0 L850.0 897.1 L851.0 898.4 L852.0 898.9 L853.0 897.2 L854.0 896.2 L855.0 898.8 L856.0 895.8 L857.0 896.2 L858.0 896.4 L859.0 896.6 L860.0 895.2 L861.0 896.4 L862.0 895.8 L863.0 897.5 L864.0 896.5 L865.0 897.8 L866.0 896.5 L867.0 896.8 L868.0 895.8 L869.0 895.0 L870.0 896.5 L871.0 895.6 L872.0 896.7 L873.0 895.5 L874.0 895.2 L875.0 893.1 L876.0 895.3 L877.0 893.2 L878.0 891.9 L879.0 891.4 L880.0 891.7 L881.0 891.9 L882.0 893.5 L883.0 891.6 L884.0 890.5 L885.0 893.4 L886.0 892.3 L887.0 889.8 L888.0 889.7 L889.0 889.9 L890.0 890.7 L891.0 892.8 L892.0 893.0 L893.0 891.3 L894.0 889.5 L895.0 890.2 L896.0 889.8 L897.0 889.4 L898.0 887.9 L899.0 890.2 L900.0 891.1 L901.0 890.5 L902.0 887.6 L903.0 889.3 L904.0 887.6 L905.0 889.8 L906.0 888.5 L907.0 890.5 L908.0 889.7 L909.0 886.5 L910.0 887.2 L911.0 889.7 L912.0 887.6 L913.0 887.3 L914.0 887.1 L915.0 888.4 L916.0 889.0 L917.0 887.0 L918.0 888.8 L919.0 887.0 L920.0 884.7 L921.0 887.6 L922.0 885.7 L923.0 884.0 L924.0 888.0 L925.0 883.7 L926.0 886.1 L927.0 885.6 L928.0 887.2 L929.0 885.0 L930.0 884.1 L931.0 884.3 L932.0 883.9 L933.0 885.4 L934.0 884.4 L935.0 886.1 L936.0 883.8 L937.0 884.2 L938.0 883.6 L939.0 886.8 L940.0 886.1 L941.0 886.0 L942.0 884.9 L943.0 883.9 L944.0 882.7 L945.0 885.9 L946.0 884.7 L947.0 883.0 L948.0 883.9 L949.0 884.0 L950.0 887.0 L951.0 888.2 L952.0 885.4 L953.0 888.4 L954.0 886.6 L955.0 888.5 L956.0 889.7 L957.0 888.9 L958.0 890.1 L959.0 888.5 L960.0 887.2 L961.0 889.8 L962.0 890.4 L963.0 889.0 L964.0 890.2 L965.0 890.3 L966.0 889.3 L967.0 890.6 L968.0 890.9 L969.0 891.2 L970.0 892.2 L971.0 890.8 L972.0 893.3 L973.0 892.5 L974.0 892.9 L975.0 891.8 L976.0 891.6 L977.0 891.0 L978.0 892.1 L979.0 890.1 L980.0 891.0 L981.0 891.3 L982.0 890.6 L983.0 889.5 L984.0 888.5 L985.0 888.5 L986.0 889.6 L987.0 890.5 L988.0 891.2 L989.0 891.0 L990.0 889.1 L991.0 891.8 L992.0 888.8 L993.0 890.7 L994.0 887.8 L995.0 890.7 L996.0 890.2 L997.0 891.1 L998.0 890.6 L999.0 889.3 L1000.0 889.7 L1001.0 888.9 L1002.0 888.1 L1003.0 886.0 L1004.0 887.0 L1005.0 888.4 L1006.0 885.2 L1007.0 888.1 L1008.0 885.9 L1009.0 884.9 L1010.0 882.9 L1011.0 884.3 L1012.0 883.0 L1013.0 884.8 L1014.0 885.6 L1015.0 885.3 L1016.0 883.7 L1017.0 882.4 L1018.0 880.9 L1019.0 883.1 L1020.0 882.2 L1021.0 882.6 L1022.0 880.8 L1023.0 882.7 L1024.0 879.5 L1025.0 879.4 L1026.0 878.3 L1027.0 878.9 L1028.0 879.2 L1029.0 875.0 L1030.0 876.2 L1031.0 875.8 L1032.0 872.5 L1033.0 870.9 L1034.0 872.1 L1035.0 872.4 L1036.0 871.7 L1037.0 870.1 L1038.0 867.8 L1039.0 866.9 L1040.0 866.4 L1041.0 867.1 L1042.0 863.6 L1043.0 862.5 L1044.0 863.0 L1045.0 863.7 L1046.0 859.3 L1047.0 857.7 L1048.0 857.2 L1049.0 858.2 L1050.0 857.4 L1051.0 854.4 L1052.0 853.3 L1053.0 853.8 L1054.0 852.9 L1055.0 851.9 L1056.0 850.8 L1057.0 846.7 L1058.0 847.3 L1059.0 847.7 L1060.0 847.0 L1061.0 843.0 L1062.0 844.1 L1063.0 842.0 L1064.0 842.1 L1065.0 837.8 L1066.0 838.7 L1067.0 838.1 L1068.0 835.3 L1069.0 832.5 L1070.0 832.0 L1071.0 830.8 L1072.0 829.5 L1073.0 828.8 L1074.0 829.8 L1075.0 826.6 L1076.0 828.4 L1077.0 827.3 L1078.0 826.7 L1079.0 825.6 L1080.0 824.2 L1081.0 824.2 L1082.0 823.3 L1083.0 820.9 L1084.0 821.3 L1085.0 816.6 L1086.0 815.6 L1087.0 814.3 L1088.0 813.5 L1089.0 812.8 L1090.0 811.8 L1091.0 811.4 L1092.0 810.3 L1093.0 806.0 L1094.0 806.0 L1095.0 805.2 L1096.0 803.6 L1097.0 803.9 L1098.0 807.4 L1099.0 807.8 L1100.0 810.5 L1101.0 811.1 L1102.0 814.5 L1103.0 815.8 L1104.0 813.3 L1105.0 817.7 L1106.0 819.2 L1107.0 818.9 L1108.0 819.7 L1109.0 822.9 L1110.0 824.0 L1111.0 827.3 L1112.0 829.7 L1113.0 828.9 L1114.0 830.1 L1115.0 832.6 L1116.0 835.1 L1117.0 837.1 L1118.0 837.8 L1119.0 838.2 L1120.0 839.9 L1121.0 843.8 L1122.0 844.0 L1123.0 843.5 L1124.0 846.4 L1125.0 846.8 L1126.0 849.9 L1127.0 848.5 L1128.0 850.5 L1129.0 851.0 L1130.0 853.8 L1131.0 857.3 L1132.0 856.5 L1133.0 857.0 L1134.0 860.6 L1135.0 858.1 L1136.0 860.5 L1137.0 863.7 L1138.0 861.3 L1139.0 865.9 L1140.0 865.3 L1141.0 865.0 L1142.0 867.1 L1143.0 868.9 L1144.0 869.4 L1145.0 870.9 L1146.0 869.8 L1147.0 871.4 L1148.0 875.6 L1149.0 874.2 L1150.0 875.2 L1151.0 874.4 L1152.0 876.2 L1153.0 880.1 L1154.0 879.8 L1155.0 879.9 L1156.0 878.8 L1157.0 881.2 L1158.0 883.8 L1159.0 883.2 L1160.0 884.8 L1161.0 887.0 L1162.0 886.8 L1163.0 887.7 L1164.0 885.9 L1165.0 886.8 L1166.0 891.0 L1167.0 890.3 L1168.0 893.2 L1169.0 893.9 L1170.0 895.2 L1171.0 893.8 L1172.0 897.4 L1173.0 897.2 L1174.0 898.7 L1175.0 896.3 L1176.0 900.0 L1177.0 899.4 L1178.0 902.7 L1179.0 903.1 L1180.0 900.0 L1181.0 901.3 L1182.0 900.9 L1183.0 902.1 L1184.0 901.7 L1185.0 903.7 L1186.0 901.6 L1187.0 902.1 L1188.0 903.7 L1189.0 902.4 L1190.0 904.1 L1191.0 906.7 L1192.0 906.9 L1193.0 904.2 L1194.0 903.8 L1195.0 907.7 L1196.0 908.6 L1197.0 907.3 L1198.0 905.6 L1199.0 906.4 L1200.0 909.8 L1201.0 910.2 L1202.0 906.5 L1203.0 907.5 L1204.0 908.9 L1205.0 908.5 L1206.0 911.0 L1207.0 909.7 L1208.0 911.8 L1209.0 909.4 L1210.0 911.3" fill="none" stroke="#f00" stroke-width="4.2" stroke-linejoin="round" opacity="1.0"/>
</g>
<line x1="292.3" y1="76.5" x2="1215.8" y2="76.5" stroke="#444" stroke-width="5.5"/>
<line x1="294.8" y1="74" x2="294.8" y2="924" stroke="#444" stroke-width="5"/>
<line x1="1214.0" y1="74" x2="1214.0" y2="921" stroke="#000" stroke-width="3.5"/>
<line x1="294.8" y1="501.3" x2="1214.0" y2="501.3" stroke="#888" stroke-width="2.6"/>
<line x1="294.8" y1="498.6" x2="1214.0" y2="498.6" stroke="#0a0a0a" stroke-width="3"/>
<line x1="268" y1="921" x2="1215.8" y2="921" stroke="#444" stroke-width="5.5"/>
<line x1="268" y1="119.5" x2="294.8" y2="119.5" stroke="#2a2a2a" stroke-width="4"/>
<line x1="268" y1="245.8" x2="294.8" y2="245.8" stroke="#2a2a2a" stroke-width="4"/>
<line x1="268" y1="373.1" x2="294.8" y2="373.1" stroke="#2a2a2a" stroke-width="4"/>
<line x1="268" y1="551" x2="294.8" y2="551" stroke="#2a2a2a" stroke-width="4"/>
<line x1="268" y1="674.2" x2="294.8" y2="674.2" stroke="#2a2a2a" stroke-width="4"/>
<line x1="268" y1="797.4" x2="294.8" y2="797.4" stroke="#2a2a2a" stroke-width="4"/>
<line x1="280" y1="183" x2="294.8" y2="183" stroke="#2a2a2a" stroke-width="4"/>
<line x1="280" y1="309.5" x2="294.8" y2="309.5" stroke="#2a2a2a" stroke-width="4"/>
<line x1="280" y1="436" x2="294.8" y2="436" stroke="#2a2a2a" stroke-width="4"/>
<line x1="280" y1="612.6" x2="294.8" y2="612.6" stroke="#2a2a2a" stroke-width="4"/>
<line x1="280" y1="735.8" x2="294.8" y2="735.8" stroke="#2a2a2a" stroke-width="4"/>
<line x1="280" y1="859" x2="294.8" y2="859" stroke="#2a2a2a" stroke-width="4"/>
<line x1="294.8" y1="921" x2="294.8" y2="935" stroke="#2a2a2a" stroke-width="4"/>
<line x1="365.5" y1="921" x2="365.5" y2="947" stroke="#2a2a2a" stroke-width="4"/>
<line x1="436.2" y1="921" x2="436.2" y2="935" stroke="#2a2a2a" stroke-width="4"/>
<line x1="506.9" y1="921" x2="506.9" y2="947" stroke="#2a2a2a" stroke-width="4"/>
<line x1="577.7" y1="921" x2="577.7" y2="935" stroke="#2a2a2a" stroke-width="4"/>
<line x1="648.4" y1="921" x2="648.4" y2="947" stroke="#2a2a2a" stroke-width="4"/>
<line x1="719.1" y1="921" x2="719.1" y2="935" stroke="#2a2a2a" stroke-width="4"/>
<line x1="789.8" y1="921" x2="789.8" y2="947" stroke="#2a2a2a" stroke-width="4"/>
<line x1="860.5" y1="921" x2="860.5" y2="935" stroke="#2a2a2a" stroke-width="4"/>
<line x1="931.2" y1="921" x2="931.2" y2="947" stroke="#2a2a2a" stroke-width="4"/>
<line x1="1002.0" y1="921" x2="1002.0" y2="935" stroke="#2a2a2a" stroke-width="4"/>
<line x1="1072.7" y1="921" x2="1072.7" y2="947" stroke="#2a2a2a" stroke-width="4"/>
<line x1="1143.4" y1="921" x2="1143.4" y2="935" stroke="#2a2a2a" stroke-width="4"/>
<line x1="1214.1" y1="921" x2="1214.1" y2="947" stroke="#2a2a2a" stroke-width="4"/>
<text x="0" y="0" font-size="46" font-weight="bold" font-style="normal" text-anchor="end" fill="#000" transform="translate(249.00 132.50) scale(0.9 1.05)" textLength="142.13" lengthAdjust="spacing" stroke="#fff" stroke-width="0.2">18000</text>
<text x="0" y="0" font-size="46" font-weight="bold" font-style="normal" text-anchor="end" fill="#000" transform="translate(249.00 258.80) scale(0.9 1.05)" textLength="142.13" lengthAdjust="spacing" stroke="#fff" stroke-width="0.2">12000</text>
<text x="0" y="0" font-size="46" font-weight="bold" font-style="normal" text-anchor="end" fill="#000" transform="translate(249.00 386.10) scale(0.9 1.05)" textLength="113.70" lengthAdjust="spacing" stroke="#fff" stroke-width="0.2">6000</text>
<text x="0" y="0" font-size="46" font-weight="bold" font-style="normal" text-anchor="end" fill="#000" transform="translate(249.00 564.00) scale(0.9 1.05)" textLength="142.13" lengthAdjust="spacing" stroke="#fff" stroke-width="0.2">18000</text>
<text x="0" y="0" font-size="46" font-weight="bold" font-style="normal" text-anchor="end" fill="#000" transform="translate(249.00 687.20) scale(0.9 1.05)" textLength="142.13" lengthAdjust="spacing" stroke="#fff" stroke-width="0.2">12000</text>
<text x="0" y="0" font-size="46" font-weight="bold" font-style="normal" text-anchor="end" fill="#000" transform="translate(249.00 810.40) scale(0.9 1.05)" textLength="113.70" lengthAdjust="spacing" stroke="#fff" stroke-width="0.2">6000</text>
<text x="0" y="0" font-size="46" font-weight="bold" font-style="normal" text-anchor="end" fill="#000" transform="translate(249.00 933.60) scale(0.9 1.05)" stroke="#fff" stroke-width="0.2">0</text>
<text x="0" y="0" font-size="46" font-weight="bold" font-style="normal" text-anchor="middle" fill="#000" transform="translate(365.50 1000.50) scale(0.9 1.05)" textLength="85.28" lengthAdjust="spacing" stroke="#fff" stroke-width="0.2">600</text>
<text x="0" y="0" font-size="46" font-weight="bold" font-style="normal" text-anchor="middle" fill="#000" transform="translate(506.90 1000.50) scale(0.9 1.05)" textLength="85.28" lengthAdjust="spacing" stroke="#fff" stroke-width="0.2">800</text>
<text x="0" y="0" font-size="46" font-weight="bold" font-style="normal" text-anchor="middle" fill="#000" transform="translate(648.40 1000.50) scale(0.9 1.05)" textLength="113.70" lengthAdjust="spacing" stroke="#fff" stroke-width="0.2">1000</text>
<text x="0" y="0" font-size="46" font-weight="bold" font-style="normal" text-anchor="middle" fill="#000" transform="translate(789.80 1000.50) scale(0.9 1.05)" textLength="113.70" lengthAdjust="spacing" stroke="#fff" stroke-width="0.2">1200</text>
<text x="0" y="0" font-size="46" font-weight="bold" font-style="normal" text-anchor="middle" fill="#000" transform="translate(931.20 1000.50) scale(0.9 1.05)" textLength="113.70" lengthAdjust="spacing" stroke="#fff" stroke-width="0.2">1400</text>
<text x="0" y="0" font-size="46" font-weight="bold" font-style="normal" text-anchor="middle" fill="#000" transform="translate(1072.70 1000.50) scale(0.9 1.05)" textLength="113.70" lengthAdjust="spacing" stroke="#fff" stroke-width="0.2">1600</text>
<text x="0" y="0" font-size="46" font-weight="bold" font-style="normal" text-anchor="middle" fill="#000" transform="translate(1214.10 1000.50) scale(0.9 1.05)" textLength="113.70" lengthAdjust="spacing" stroke="#fff" stroke-width="0.2">1800</text>
<text x="0" y="0" font-size="46" font-weight="bold" font-style="normal" text-anchor="start" fill="#000" transform="translate(531.00 1060.00) scale(1 1.05)" stroke="#fff" stroke-width="0.3">wavenumber / cm</text>
<text x="0" y="0" font-size="31" font-weight="bold" font-style="normal" text-anchor="start" fill="#000" transform="translate(919.50 1040.50) scale(1 1.05)" stroke="#fff" stroke-width="0.2">-1</text>
<text x="0" y="0" font-size="51.4" font-weight="bold" font-style="normal" text-anchor="middle" fill="#000" transform="translate(80.50 514.50) rotate(-90) scale(1 1.05)" stroke="#fff" stroke-width="0.3">Intensity / arb. unit</text>
<rect x="579.5" y="51.2" width="298" height="89.5" fill="#fff" stroke="#777" stroke-width="2.5"/>
<text x="0" y="0" font-size="51.7" font-weight="bold" font-style="normal" text-anchor="middle" fill="#000" transform="translate(728.00 115.50) scale(1 1.03)" stroke="#fff" stroke-width="0.3">Ag<tspan font-weight="normal">@</tspan><tspan font-weight="normal">β</tspan>CD2</text>
<text x="0" y="0" font-size="64" font-weight="bold" font-style="normal" text-anchor="start" fill="#000" transform="translate(313.00 148.00) scale(1 1.05)" stroke="#fff" stroke-width="0.3">(a)</text>
<text x="0" y="0" font-size="64" font-weight="bold" font-style="normal" text-anchor="start" fill="#000" transform="translate(310.00 766.50) scale(1 1.05)" stroke="#fff" stroke-width="0.3">(b)</text>
<line x1="319" y1="204" x2="428" y2="204" stroke="#f00" stroke-width="4"/>
<line x1="319" y1="267.5" x2="428" y2="267.5" stroke="#000096" stroke-width="4"/>
<text x="0" y="0" font-size="47" font-weight="bold" font-style="normal" text-anchor="start" fill="#000" transform="translate(438.00 220.00)" stroke="#fff" stroke-width="0.3">0.5 <tspan font-weight="normal">μ</tspan>M</text>
<text x="0" y="0" font-size="47" font-weight="bold" font-style="normal" text-anchor="start" fill="#000" transform="translate(438.00 283.00)" stroke="#fff" stroke-width="0.3">0.1 <tspan font-weight="normal">μ</tspan>M</text>
<line x1="307" y1="527.5" x2="417" y2="527.5" stroke="#008a00" stroke-width="4"/>
<line x1="307" y1="590" x2="417" y2="590" stroke="#f00" stroke-width="4"/>
<line x1="307" y1="652" x2="417" y2="652" stroke="#000" stroke-width="4"/>
<text x="0" y="0" font-size="47" font-weight="bold" font-style="normal" text-anchor="start" fill="#000" transform="translate(428.00 544.00)" stroke="#fff" stroke-width="0.3">1.0 <tspan font-weight="normal">μ</tspan>M</text>
<text x="0" y="0" font-size="47" font-weight="bold" font-style="normal" text-anchor="start" fill="#000" transform="translate(428.00 605.00)" stroke="#fff" stroke-width="0.3">0.5 <tspan font-weight="normal">μ</tspan>M</text>
<text x="0" y="0" font-size="46" font-weight="bold" font-style="normal" text-anchor="start" fill="#000" transform="translate(428.00 669.50) scale(1 1.02)" stroke="#fff" stroke-width="0.3">Pure Ag<tspan font-weight="normal">@</tspan><tspan font-weight="normal">β</tspan>CD2</text>
<text x="0" y="0" font-size="46.2" font-weight="bold" font-style="italic" text-anchor="start" fill="#000" transform="translate(339.00 855.50)" stroke="#fff" stroke-width="0.3">after 5 days</text>
<text x="0" y="0" font-size="51" font-weight="bold" font-style="normal" text-anchor="start" fill="#000" transform="translate(780.50 344.00) rotate(-90) scale(0.9 1.1)" textLength="126.06" lengthAdjust="spacing" stroke="#fff" stroke-width="0.2">1163</text>
<text x="0" y="0" font-size="51" font-weight="bold" font-style="normal" text-anchor="start" fill="#000" transform="translate(843.50 344.00) rotate(-90) scale(0.9 1.1)" textLength="126.06" lengthAdjust="spacing" stroke="#fff" stroke-width="0.2">1244</text>
<text x="0" y="0" font-size="51" font-weight="bold" font-style="normal" text-anchor="start" fill="#000" transform="translate(917.50 326.00) rotate(-90) scale(0.9 1.1)" textLength="126.06" lengthAdjust="spacing" stroke="#fff" stroke-width="0.2">1379</text>
<text x="0" y="0" font-size="51" font-weight="bold" font-style="normal" text-anchor="start" fill="#000" transform="translate(976.00 377.00) rotate(-90) scale(0.9 1.1)" textLength="126.06" lengthAdjust="spacing" stroke="#fff" stroke-width="0.2">1416</text>
<text x="0" y="0" font-size="51" font-weight="bold" font-style="normal" text-anchor="start" fill="#000" transform="translate(1070.50 239.00) rotate(-90) scale(0.9 1.1)" textLength="126.06" lengthAdjust="spacing" stroke="#fff" stroke-width="0.2">1601</text>
<text x="0" y="0" font-size="51" font-weight="bold" font-style="normal" text-anchor="start" fill="#000" transform="translate(1139.50 209.00) rotate(-90) scale(0.9 1.1)" textLength="126.06" lengthAdjust="spacing" stroke="#fff" stroke-width="0.2">1634</text>
<text x="0" y="0" font-size="51" font-weight="bold" font-style="normal" text-anchor="start" fill="#000" transform="translate(771.50 865.00) rotate(-90) scale(0.9 1.1)" textLength="126.06" lengthAdjust="spacing" stroke="#fff" stroke-width="0.2">1164</text>
<text x="0" y="0" font-size="51" font-weight="bold" font-style="normal" text-anchor="start" fill="#000" transform="translate(840.00 863.00) rotate(-90) scale(0.9 1.1)" textLength="126.06" lengthAdjust="spacing" stroke="#fff" stroke-width="0.2">1244</text>
<text x="0" y="0" font-size="51" font-weight="bold" font-style="normal" text-anchor="start" fill="#000" transform="translate(929.50 855.00) rotate(-90) scale(0.9 1.1)" textLength="126.06" lengthAdjust="spacing" stroke="#fff" stroke-width="0.2">1380</text>
<text x="0" y="0" font-size="51" font-weight="bold" font-style="normal" text-anchor="start" fill="#000" transform="translate(1058.00 792.00) rotate(-90) scale(0.9 1.1)" textLength="126.06" lengthAdjust="spacing" stroke="#fff" stroke-width="0.2">1598</text>
<text x="0" y="0" font-size="51" font-weight="bold" font-style="normal" text-anchor="start" fill="#000" transform="translate(1109.50 741.00) rotate(-90) scale(0.9 1.1)" textLength="126.06" lengthAdjust="spacing" stroke="#fff" stroke-width="0.2">1635</text>
<g clip-path="url(#cc)">
<path d="M297.0 1488.3 L297.6 1496.5 L298.1 1500.0 L298.7 1497.0 L299.2 1468.4 L299.8 1484.9 L300.3 1490.3 L300.9 1500.9 L301.4 1487.2 L302.0 1482.5 L302.5 1500.6 L303.1 1485.4 L303.6 1501.9 L304.2 1494.9 L304.7 1501.3 L305.3 1489.9 L305.8 1481.1 L306.4 1503.8 L306.9 1485.8 L307.5 1492.8 L308.0 1497.6 L308.6 1483.2 L309.1 1485.5 L309.7 1503.0 L310.2 1484.9 L310.8 1513.6 L311.3 1500.3 L311.9 1496.2 L312.4 1487.1 L313.0 1486.2 L313.5 1483.3 L314.1 1488.6 L314.6 1498.1 L315.2 1472.7 L315.7 1491.4 L316.3 1492.4 L316.8 1498.2 L317.4 1503.7 L317.9 1494.4 L318.5 1507.4 L319.0 1502.5 L319.6 1499.9 L320.1 1508.1 L320.7 1508.2 L321.2 1498.4 L321.8 1494.6 L322.3 1500.9 L322.9 1486.6 L323.4 1493.8 L324.0 1511.9 L324.5 1505.0 L325.1 1493.1 L325.6 1490.5 L326.2 1494.0 L326.7 1497.9 L327.3 1510.8 L327.8 1488.4 L328.4 1498.4 L328.9 1508.3 L329.5 1498.4 L330.0 1483.6 L330.6 1498.7 L331.1 1497.7 L331.7 1504.9 L332.2 1515.4 L332.8 1500.8 L333.3 1508.1 L333.9 1526.6 L334.4 1514.0 L335.0 1507.3 L335.5 1507.0 L336.1 1494.0 L336.6 1520.6 L337.2 1516.1 L337.7 1512.7 L338.3 1509.1 L338.8 1508.5 L339.4 1507.7 L339.9 1521.0 L340.5 1502.5 L341.0 1516.3 L341.6 1501.9 L342.1 1508.7 L342.7 1516.1 L343.2 1511.9 L343.8 1517.6 L344.3 1528.0 L344.9 1507.3 L345.4 1507.0 L346.0 1524.4 L346.5 1507.7 L347.1 1510.0 L347.6 1529.5 L348.2 1508.3 L348.7 1511.7 L349.3 1508.4 L349.8 1515.4 L350.4 1520.1 L350.9 1516.1 L351.5 1517.7 L352.0 1524.3 L352.6 1511.4 L353.1 1518.1 L353.7 1515.6 L354.2 1509.8 L354.8 1517.3 L355.3 1528.4 L355.9 1506.7 L356.4 1511.0 L357.0 1535.1 L357.5 1520.4 L358.1 1506.2 L358.6 1518.6 L359.2 1516.1 L359.7 1528.1 L360.3 1539.9 L360.8 1513.4 L361.4 1541.4 L361.9 1510.7 L362.5 1517.1 L363.0 1533.0 L363.6 1530.7 L364.1 1504.2 L364.7 1523.9 L365.2 1542.0 L365.8 1528.5 L366.3 1524.6 L366.9 1510.1 L367.4 1510.6 L368.0 1512.5 L368.5 1507.7 L369.1 1511.0 L369.6 1513.3 L370.2 1518.9 L370.7 1507.7 L371.3 1515.3 L371.8 1522.6 L372.4 1511.6 L372.9 1526.1 L373.5 1514.0 L374.0 1529.8 L374.6 1502.1 L375.1 1518.9 L375.7 1510.1 L376.2 1495.1 L376.8 1516.7 L377.3 1527.4 L377.9 1519.0 L378.4 1525.3 L379.0 1540.2 L379.5 1529.9 L380.1 1530.7 L380.6 1507.6 L381.2 1517.1 L381.7 1530.7 L382.3 1527.3 L382.8 1529.4 L383.4 1528.1 L383.9 1524.1 L384.5 1517.1 L385.0 1517.9 L385.6 1521.5 L386.1 1523.2 L386.7 1515.3 L387.2 1518.0 L387.8 1515.2 L388.3 1515.0 L388.9 1526.7 L389.4 1537.7 L390.0 1526.9 L390.5 1524.8 L391.1 1534.6 L391.6 1518.9 L392.2 1512.1 L392.7 1507.9 L393.3 1538.5 L393.8 1521.4 L394.4 1511.5 L394.9 1529.5 L395.5 1511.9 L396.0 1516.2 L396.6 1524.5 L397.1 1513.1 L397.7 1523.6 L398.2 1532.3 L398.8 1519.0 L399.3 1528.6 L399.9 1532.3 L400.4 1518.2 L401.0 1512.2 L401.5 1518.2 L402.1 1518.7 L402.6 1524.8 L403.2 1518.3 L403.7 1522.7 L404.3 1511.6 L404.8 1529.6 L405.4 1521.6 L405.9 1521.5 L406.5 1532.3 L407.0 1543.5 L407.6 1524.4 L408.1 1528.3 L408.7 1514.7 L409.2 1514.5 L409.8 1499.6 L410.3 1530.5 L410.9 1504.9 L411.4 1517.1 L412.0 1511.8 L412.5 1526.4 L413.1 1519.5 L413.6 1533.3 L414.2 1534.7 L414.7 1522.9 L415.3 1542.7 L415.8 1532.3 L416.4 1511.2 L416.9 1513.7 L417.5 1507.8 L418.0 1536.4 L418.6 1512.4 L419.1 1510.1 L419.7 1529.5 L420.2 1516.7 L420.8 1521.2 L421.3 1530.8 L421.9 1528.3 L422.4 1509.9 L423.0 1508.6 L423.5 1507.2 L424.1 1513.5 L424.6 1517.2 L425.2 1510.7 L425.7 1527.4 L426.3 1531.7 L426.8 1526.3 L427.4 1527.5 L427.9 1515.5 L428.5 1506.5 L429.0 1512.1 L429.6 1520.2 L430.1 1524.1 L430.7 1512.5 L431.2 1510.2 L431.8 1512.6 L432.3 1526.9 L432.9 1512.7 L433.4 1512.3 L434.0 1511.6 L434.5 1509.4 L435.1 1511.8 L435.6 1522.1 L436.2 1523.0 L436.7 1505.0 L437.3 1508.1 L437.8 1512.9 L438.4 1511.7 L438.9 1524.4 L439.5 1510.5 L440.0 1521.4 L440.6 1509.7 L441.1 1510.6 L441.7 1515.5 L442.2 1512.7 L442.8 1500.9 L443.3 1498.3 L443.9 1505.2 L444.4 1524.4 L445.0 1508.2 L445.5 1502.7 L446.1 1523.6 L446.6 1504.0 L447.2 1523.3 L447.7 1526.1 L448.3 1510.9 L448.8 1508.6 L449.4 1503.1 L449.9 1530.4 L450.5 1514.6 L451.0 1512.8 L451.6 1511.2 L452.1 1499.7 L452.7 1523.4 L453.2 1524.8 L453.8 1505.8 L454.3 1517.9 L454.9 1514.3 L455.4 1516.5 L456.0 1525.6 L456.5 1500.2 L457.1 1509.9 L457.6 1509.7 L458.2 1513.1 L458.7 1501.2 L459.3 1522.0 L459.8 1501.1 L460.4 1525.7 L460.9 1525.9 L461.5 1537.0 L462.0 1515.5 L462.6 1506.4 L463.1 1504.9 L463.7 1516.1 L464.2 1511.6 L464.8 1506.9 L465.3 1513.9 L465.9 1517.8 L466.4 1519.4 L467.0 1516.4 L467.5 1520.6 L468.1 1507.0 L468.6 1509.0 L469.2 1509.1 L469.7 1533.9 L470.3 1514.3 L470.8 1512.7 L471.4 1498.9 L471.9 1506.7 L472.5 1514.9 L473.0 1501.0 L473.6 1511.8 L474.1 1525.0 L474.7 1496.8 L475.2 1521.4 L475.8 1507.0 L476.3 1513.4 L476.9 1515.5 L477.4 1513.6 L478.0 1508.4 L478.5 1513.4 L479.1 1504.6 L479.6 1520.7 L480.2 1525.8 L480.7 1518.9 L481.3 1518.1 L481.8 1521.4 L482.4 1522.1 L482.9 1508.1 L483.5 1501.9 L484.0 1510.0 L484.6 1516.6 L485.1 1523.6 L485.7 1501.1 L486.2 1501.3 L486.8 1521.4 L487.3 1504.7 L487.9 1519.0 L488.4 1515.2 L489.0 1535.7 L489.5 1519.0 L490.1 1512.5 L490.6 1515.1 L491.2 1508.0 L491.7 1497.0 L492.3 1516.3 L492.8 1513.8 L493.4 1514.9 L493.9 1505.1 L494.5 1502.9 L495.0 1516.4 L495.6 1507.6 L496.1 1523.2 L496.7 1522.5 L497.2 1522.4 L497.8 1506.9 L498.3 1511.4 L498.9 1500.0 L499.4 1513.5 L500.0 1518.8 L500.5 1504.9 L501.1 1506.6 L501.6 1530.6 L502.2 1522.4 L502.7 1514.1 L503.3 1524.0 L503.8 1530.7 L504.4 1517.2 L504.9 1514.2 L505.5 1524.4 L506.0 1508.2 L506.6 1528.6 L507.1 1507.7 L507.7 1504.4 L508.2 1516.1 L508.8 1520.3 L509.3 1509.7 L509.9 1518.7 L510.4 1513.7 L511.0 1504.5 L511.5 1526.5 L512.1 1534.8 L512.6 1518.9 L513.2 1528.8 L513.7 1523.3 L514.3 1522.9 L514.8 1524.0 L515.4 1503.2 L515.9 1506.9 L516.5 1510.1 L517.0 1519.1 L517.6 1516.3 L518.1 1506.3 L518.7 1527.3 L519.2 1525.8 L519.8 1539.7 L520.3 1527.1 L520.9 1536.0 L521.4 1513.2 L522.0 1516.8 L522.5 1521.9 L523.1 1513.5 L523.6 1518.4 L524.2 1528.9 L524.7 1516.3 L525.3 1531.8 L525.8 1517.3 L526.4 1526.3 L526.9 1526.6 L527.5 1525.5 L528.0 1518.3 L528.6 1511.5 L529.1 1518.1 L529.7 1512.8 L530.2 1503.7 L530.8 1523.3 L531.3 1517.7 L531.9 1512.2 L532.4 1506.9 L533.0 1503.4 L533.5 1523.9 L534.1 1512.9 L534.6 1521.0 L535.2 1522.5 L535.7 1509.0 L536.3 1516.7 L536.8 1528.0 L537.4 1523.6 L537.9 1524.3 L538.5 1511.0 L539.0 1518.0 L539.6 1509.5 L540.1 1529.8 L540.7 1515.5 L541.2 1518.2 L541.8 1523.3 L542.3 1520.9 L542.9 1522.5 L543.4 1516.3 L544.0 1509.8 L544.5 1526.1 L545.1 1530.0 L545.6 1515.5 L546.2 1538.5 L546.7 1517.9 L547.3 1523.4 L547.8 1524.5 L548.4 1508.6 L548.9 1504.9 L549.5 1520.2 L550.0 1507.8 L550.6 1530.2 L551.1 1526.7 L551.7 1516.8 L552.2 1512.9 L552.8 1514.9 L553.3 1527.5 L553.9 1521.9 L554.4 1511.3 L555.0 1521.6 L555.5 1532.5 L556.1 1518.5 L556.6 1527.9 L557.2 1525.2 L557.7 1517.3 L558.3 1512.7 L558.8 1529.6 L559.4 1516.0 L559.9 1497.4 L560.5 1523.6 L561.0 1506.8 L561.6 1521.0 L562.1 1519.4 L562.7 1516.5 L563.2 1517.7 L563.8 1523.1 L564.3 1508.3 L564.9 1535.5 L565.4 1507.8 L565.9 1507.4 L566.5 1535.6 L567.0 1520.4 L567.6 1509.0 L568.1 1519.3 L568.7 1515.5 L569.2 1525.6 L569.8 1523.5 L570.3 1519.0 L570.9 1516.5 L571.4 1518.3 L572.0 1521.3 L572.5 1530.7 L573.1 1508.0 L573.6 1507.6 L574.2 1522.5 L574.7 1510.8 L575.3 1526.9 L575.8 1523.0 L576.4 1517.4 L576.9 1520.3 L577.5 1530.7 L578.0 1498.3 L578.6 1514.2 L579.1 1538.8 L579.7 1506.4 L580.2 1512.2 L580.8 1524.4 L581.3 1521.4 L581.9 1518.8 L582.4 1522.9 L583.0 1513.7 L583.5 1532.4 L584.1 1514.7 L584.6 1523.7 L585.2 1524.4 L585.7 1509.3 L586.3 1526.5 L586.8 1511.3 L587.4 1518.3 L587.9 1524.8 L588.5 1527.0 L589.0 1532.1 L589.6 1500.2 L590.1 1528.7 L590.7 1527.3 L591.2 1533.0 L591.8 1534.9 L592.3 1531.8 L592.9 1516.4 L593.4 1508.5 L594.0 1530.6 L594.5 1531.1 L595.1 1518.7 L595.6 1519.0 L596.2 1508.7 L596.7 1514.6 L597.3 1509.2 L597.8 1524.9 L598.4 1531.1 L598.9 1510.8 L599.5 1523.8 L600.0 1531.4 L600.6 1507.5 L601.1 1523.2 L601.7 1516.0 L602.2 1519.1 L602.8 1525.0 L603.3 1536.0 L603.9 1527.4 L604.4 1512.4 L605.0 1528.5 L605.5 1523.5 L606.1 1511.6 L606.6 1535.4 L607.2 1520.2 L607.7 1520.5 L608.3 1513.7 L608.8 1533.1 L609.4 1511.2 L609.9 1525.4 L610.5 1515.5 L611.0 1511.3 L611.6 1511.4 L612.1 1532.7 L612.7 1521.6 L613.2 1511.5 L613.8 1505.0 L614.3 1527.3 L614.9 1516.2 L615.4 1500.9 L616.0 1507.8 L616.5 1511.7 L617.1 1507.7 L617.6 1521.2 L618.2 1521.6 L618.7 1511.2 L619.3 1526.4 L619.8 1526.4 L620.4 1510.5 L620.9 1517.8 L621.5 1530.7 L622.0 1533.9 L622.6 1520.0 L623.1 1530.8 L623.7 1535.9 L624.2 1532.8 L624.8 1525.3 L625.3 1533.1 L625.9 1533.2 L626.4 1531.5 L627.0 1535.4 L627.5 1521.2 L628.1 1515.2 L628.6 1512.9 L629.2 1519.2 L629.7 1527.0 L630.3 1522.1 L630.8 1536.6 L631.4 1521.1 L631.9 1516.7 L632.5 1516.5 L633.0 1502.7 L633.6 1529.3 L634.1 1526.4 L634.7 1514.6 L635.2 1537.7 L635.8 1518.4 L636.3 1526.6 L636.9 1519.9 L637.4 1518.8 L638.0 1533.5 L638.5 1528.1 L639.1 1529.3 L639.6 1515.8 L640.2 1530.2 L640.7 1533.9 L641.3 1517.3 L641.8 1521.4 L642.4 1521.5 L642.9 1515.0 L643.5 1517.9 L644.0 1523.4 L644.6 1504.8 L645.1 1512.8 L645.7 1531.6 L646.2 1548.0 L646.8 1519.3 L647.3 1518.1 L647.9 1525.7 L648.4 1510.6 L649.0 1518.5 L649.5 1517.9 L650.1 1517.0 L650.6 1533.7 L651.2 1535.0 L651.7 1518.4 L652.3 1520.5 L652.8 1513.0 L653.4 1547.5 L653.9 1522.0 L654.5 1525.9 L655.0 1526.9 L655.6 1547.2 L656.1 1539.5 L656.7 1527.2 L657.2 1517.8 L657.8 1518.8 L658.3 1522.5 L658.9 1536.9 L659.4 1513.8 L660.0 1517.1 L660.5 1517.2 L661.1 1533.4 L661.6 1517.8 L662.2 1520.1 L662.7 1509.2 L663.3 1517.4 L663.8 1540.3 L664.4 1524.8 L664.9 1533.3 L665.5 1536.7 L666.0 1526.6 L666.6 1526.5 L667.1 1540.1 L667.7 1519.0 L668.2 1553.8 L668.8 1513.2 L669.3 1529.8 L669.9 1537.4 L670.4 1529.8 L671.0 1520.8 L671.5 1535.7 L672.1 1527.7 L672.6 1534.6 L673.2 1513.2 L673.7 1526.5 L674.3 1529.1 L674.8 1519.5 L675.4 1533.1 L675.9 1518.3 L676.5 1530.6 L677.0 1538.8 L677.6 1536.4 L678.1 1522.3 L678.7 1540.3 L679.2 1520.1 L679.8 1528.7 L680.3 1523.2 L680.9 1518.6 L681.4 1544.3 L682.0 1517.6 L682.5 1538.7 L683.1 1525.1 L683.6 1517.4 L684.2 1549.7 L684.7 1509.1 L685.3 1526.8 L685.8 1522.2 L686.4 1521.5 L686.9 1515.4 L687.5 1535.9 L688.0 1520.1 L688.6 1516.4 L689.1 1546.3 L689.7 1526.7 L690.2 1528.7 L690.8 1523.1 L691.3 1532.2 L691.9 1533.0 L692.4 1524.3 L693.0 1521.0 L693.5 1528.0 L694.1 1531.0 L694.6 1522.4 L695.2 1548.2 L695.7 1525.7 L696.3 1531.7 L696.8 1527.2 L697.4 1526.5 L697.9 1530.9 L698.5 1534.4 L699.0 1516.5 L699.6 1514.2 L700.1 1536.9 L700.7 1523.7 L701.2 1527.1 L701.8 1532.3 L702.3 1534.3 L702.9 1513.1 L703.4 1513.3 L704.0 1512.7 L704.5 1530.7 L705.1 1528.9 L705.6 1525.0 L706.2 1523.8 L706.7 1530.1 L707.3 1517.5 L707.8 1527.2 L708.4 1514.2 L708.9 1537.1 L709.5 1519.7 L710.0 1540.4 L710.6 1535.7 L711.1 1540.9 L711.7 1518.4 L712.2 1520.7 L712.8 1540.3 L713.3 1520.2 L713.9 1523.0 L714.4 1535.6 L715.0 1527.7 L715.5 1529.7 L716.1 1527.7 L716.6 1533.6 L717.2 1529.8 L717.7 1516.0 L718.3 1503.1 L718.8 1532.8 L719.4 1510.7 L719.9 1523.6 L720.5 1530.9 L721.0 1525.8 L721.6 1514.0 L722.1 1538.5 L722.7 1522.8 L723.2 1543.7 L723.8 1505.1 L724.3 1521.7 L724.9 1537.5 L725.4 1538.9 L726.0 1519.8 L726.5 1520.8 L727.1 1518.4 L727.6 1525.8 L728.2 1530.5 L728.7 1536.3 L729.3 1549.9 L729.8 1534.3 L730.4 1515.6 L730.9 1524.1 L731.5 1523.3 L732.0 1523.7 L732.6 1532.0 L733.1 1520.9 L733.7 1538.1 L734.2 1523.3 L734.8 1514.9 L735.3 1512.6 L735.9 1531.8 L736.4 1518.4 L737.0 1528.6 L737.5 1513.0 L738.1 1514.9 L738.6 1525.6 L739.2 1518.3 L739.7 1523.3 L740.3 1532.3 L740.8 1528.7 L741.4 1521.9 L741.9 1524.7 L742.5 1529.9 L743.0 1508.4 L743.6 1523.3 L744.1 1534.1 L744.7 1505.3 L745.2 1527.5 L745.8 1525.6 L746.3 1503.9 L746.9 1522.5 L747.4 1509.8 L748.0 1511.8 L748.5 1520.9 L749.1 1509.9 L749.6 1521.4 L750.2 1528.0 L750.7 1502.5 L751.3 1515.7 L751.8 1493.6 L752.4 1496.3 L752.9 1490.0 L753.5 1496.8 L754.0 1496.9 L754.6 1508.7 L755.1 1507.5 L755.7 1488.7 L756.2 1492.8 L756.8 1494.6 L757.3 1503.1 L757.9 1462.8 L758.4 1499.5 L759.0 1464.1 L759.5 1496.4 L760.1 1473.0 L760.6 1494.4 L761.2 1480.7 L761.7 1486.9 L762.3 1473.3 L762.8 1481.5 L763.4 1478.5 L763.9 1486.6 L764.5 1467.4 L765.0 1486.6 L765.6 1486.4 L766.1 1487.9 L766.7 1469.5 L767.2 1490.6 L767.8 1495.6 L768.3 1484.6 L768.9 1491.8 L769.4 1480.8 L770.0 1474.7 L770.5 1494.2 L771.1 1494.1 L771.6 1501.1 L772.2 1489.1 L772.7 1497.8 L773.3 1506.3 L773.8 1503.5 L774.4 1509.0 L774.9 1498.3 L775.5 1504.8 L776.0 1502.7 L776.6 1493.9 L777.1 1489.1 L777.7 1497.4 L778.2 1512.0 L778.8 1491.4 L779.3 1522.3 L779.9 1491.4 L780.4 1509.6 L781.0 1509.8 L781.5 1494.3 L782.1 1511.3 L782.6 1511.7 L783.2 1517.9 L783.7 1510.3 L784.3 1537.2 L784.8 1502.0 L785.4 1494.8 L785.9 1522.2 L786.5 1505.6 L787.0 1496.4 L787.6 1512.1 L788.1 1516.8 L788.7 1521.1 L789.2 1525.1 L789.8 1520.0 L790.3 1511.7 L790.9 1525.4 L791.4 1521.3 L792.0 1504.2 L792.5 1509.9 L793.1 1488.3 L793.6 1501.0 L794.2 1510.2 L794.7 1505.4 L795.3 1498.2 L795.8 1519.1 L796.4 1493.8 L796.9 1513.3 L797.5 1514.5 L798.0 1522.9 L798.6 1520.7 L799.1 1489.4 L799.7 1509.1 L800.2 1502.6 L800.8 1511.6 L801.3 1498.1 L801.9 1514.0 L802.4 1515.9 L803.0 1505.0 L803.5 1526.9 L804.1 1494.2 L804.6 1508.4 L805.2 1507.8 L805.7 1495.6 L806.3 1490.7 L806.8 1507.4 L807.4 1502.7 L807.9 1470.8 L808.5 1505.6 L809.0 1480.0 L809.6 1476.6 L810.1 1489.1 L810.7 1479.0 L811.2 1477.1 L811.8 1469.7 L812.3 1478.3 L812.9 1491.1 L813.4 1486.3 L814.0 1460.4 L814.5 1466.0 L815.1 1483.1 L815.6 1463.6 L816.2 1467.8 L816.7 1455.5 L817.3 1465.2 L817.8 1471.3 L818.4 1451.7 L818.9 1445.3 L819.5 1466.9 L820.0 1444.9 L820.6 1446.5 L821.1 1445.6 L821.7 1445.0 L822.2 1437.5 L822.8 1443.5 L823.3 1443.9 L823.9 1432.7 L824.4 1437.3 L825.0 1440.8 L825.5 1443.3 L826.1 1436.5 L826.6 1438.6 L827.2 1447.8 L827.7 1457.4 L828.3 1437.7 L828.8 1448.0 L829.4 1461.3 L829.9 1439.3 L830.5 1452.3 L831.0 1444.9 L831.6 1450.0 L832.1 1466.6 L832.7 1476.9 L833.2 1468.8 L833.8 1477.6 L834.3 1463.4 L834.9 1466.6 L835.4 1465.9 L836.0 1486.1 L836.5 1484.7 L837.1 1497.6 L837.6 1500.7 L838.2 1516.1 L838.7 1512.1 L839.3 1498.4 L839.8 1512.7 L840.4 1510.6 L840.9 1495.1 L841.5 1489.1 L842.0 1511.8 L842.6 1491.0 L843.1 1488.9 L843.7 1488.2 L844.2 1508.5 L844.8 1510.6 L845.3 1481.1 L845.9 1499.4 L846.4 1483.1 L847.0 1506.3 L847.5 1478.3 L848.1 1504.1 L848.6 1496.6 L849.2 1504.3 L849.7 1486.0 L850.3 1493.0 L850.8 1490.9 L851.4 1506.7 L851.9 1515.3 L852.5 1491.0 L853.0 1514.9 L853.6 1510.3 L854.1 1501.6 L854.7 1498.8 L855.2 1507.9 L855.8 1509.1 L856.3 1501.3 L856.9 1517.4 L857.4 1511.4 L858.0 1494.2 L858.5 1496.7 L859.1 1501.7 L859.6 1503.0 L860.2 1506.3 L860.7 1524.3 L861.3 1523.2 L861.8 1517.7 L862.4 1520.3 L862.9 1512.0 L863.5 1518.5 L864.0 1519.8 L864.6 1521.3 L865.1 1503.5 L865.7 1514.0 L866.2 1518.6 L866.8 1519.3 L867.3 1520.1 L867.9 1517.6 L868.4 1507.6 L869.0 1528.2 L869.5 1513.6 L870.1 1519.2 L870.6 1510.5 L871.2 1508.1 L871.7 1512.6 L872.3 1498.6 L872.8 1524.9 L873.4 1529.5 L873.9 1513.2 L874.5 1522.5 L875.0 1516.4 L875.6 1532.6 L876.1 1516.6 L876.7 1516.8 L877.2 1530.9 L877.8 1533.7 L878.3 1520.1 L878.9 1524.8 L879.4 1519.4 L880.0 1521.2 L880.5 1517.7 L881.1 1530.3 L881.6 1528.9 L882.2 1521.3 L882.7 1524.7 L883.3 1529.7 L883.8 1529.6 L884.4 1507.4 L884.9 1524.8 L885.5 1517.0 L886.0 1501.7 L886.6 1522.1 L887.1 1517.5 L887.7 1505.8 L888.2 1502.8 L888.8 1526.7 L889.3 1519.7 L889.9 1506.8 L890.4 1513.4 L891.0 1504.2 L891.5 1512.1 L892.1 1520.2 L892.6 1507.0 L893.2 1513.7 L893.7 1511.1 L894.3 1497.3 L894.8 1507.1 L895.4 1499.4 L895.9 1506.5 L896.5 1509.5 L897.0 1508.6 L897.6 1511.4 L898.1 1496.1 L898.7 1502.7 L899.2 1493.4 L899.8 1497.1 L900.3 1491.2 L900.9 1491.7 L901.4 1494.9 L902.0 1498.0 L902.5 1497.2 L903.1 1508.6 L903.6 1485.3 L904.2 1520.4 L904.7 1502.1 L905.3 1484.2 L905.8 1506.5 L906.4 1498.1 L906.9 1491.8 L907.5 1494.1 L908.0 1483.3 L908.6 1475.7 L909.1 1484.7 L909.7 1487.8 L910.2 1477.8 L910.8 1468.9 L911.3 1474.9 L911.9 1460.6 L912.4 1456.6 L913.0 1463.0 L913.5 1451.0 L914.1 1454.5 L914.6 1445.5 L915.2 1453.8 L915.7 1460.9 L916.3 1465.5 L916.8 1471.6 L917.4 1487.5 L917.9 1470.4 L918.5 1469.8 L919.0 1475.0 L919.6 1480.2 L920.1 1483.2 L920.7 1454.5 L921.2 1471.2 L921.8 1488.6 L922.3 1474.8 L922.9 1499.5 L923.4 1495.5 L924.0 1479.5 L924.5 1488.2 L925.1 1504.5 L925.6 1524.9 L926.2 1496.2 L926.7 1514.5 L927.3 1517.1 L927.8 1513.5 L928.4 1500.7 L928.9 1517.6 L929.5 1521.4 L930.0 1519.3 L930.6 1524.7 L931.1 1534.8 L931.7 1546.7 L932.2 1539.6 L932.8 1531.6 L933.3 1529.5 L933.9 1553.5 L934.4 1527.2 L935.0 1552.2 L935.5 1530.1 L936.1 1543.7 L936.6 1536.9 L937.2 1539.6 L937.7 1520.4 L938.3 1543.0 L938.8 1532.7 L939.4 1537.1 L939.9 1534.2 L940.5 1531.5 L941.0 1523.8 L941.6 1542.9 L942.1 1532.5 L942.7 1520.0 L943.2 1534.4 L943.8 1529.3 L944.3 1542.0 L944.9 1514.7 L945.4 1526.3 L946.0 1527.8 L946.5 1534.5 L947.1 1535.1 L947.6 1539.9 L948.2 1526.2 L948.7 1522.6 L949.3 1523.9 L949.8 1525.1 L950.4 1511.1 L950.9 1523.8 L951.5 1515.1 L952.0 1535.5 L952.6 1510.0 L953.1 1518.4 L953.7 1527.4 L954.2 1531.2 L954.8 1538.3 L955.3 1518.3 L955.9 1526.3 L956.4 1520.8 L957.0 1534.0 L957.5 1524.4 L958.1 1518.3 L958.6 1507.5 L959.2 1530.0 L959.7 1539.8 L960.3 1505.6 L960.8 1515.7 L961.4 1523.6 L961.9 1525.6 L962.5 1509.5 L963.0 1515.1 L963.6 1519.4 L964.1 1511.0 L964.7 1505.0 L965.2 1523.4 L965.8 1527.5 L966.3 1521.1 L966.9 1526.8 L967.4 1525.9 L968.0 1527.1 L968.5 1506.7 L969.1 1505.5 L969.6 1511.3 L970.2 1511.6 L970.7 1531.7 L971.3 1507.0 L971.8 1507.9 L972.4 1515.0 L972.9 1510.0 L973.5 1503.4 L974.0 1500.2 L974.6 1511.1 L975.1 1525.1 L975.7 1491.5 L976.2 1503.4 L976.8 1504.8 L977.3 1511.1 L977.9 1510.8 L978.4 1507.8 L979.0 1508.3 L979.5 1512.6 L980.1 1532.9 L980.6 1518.8 L981.2 1516.8 L981.7 1514.6 L982.3 1508.2 L982.8 1510.0 L983.4 1507.6 L983.9 1517.3 L984.5 1516.3 L985.0 1510.6 L985.6 1515.9 L986.1 1509.9 L986.7 1515.3 L987.2 1505.3 L987.8 1497.7 L988.3 1521.0 L988.9 1508.9 L989.4 1513.2 L990.0 1515.9 L990.5 1505.1 L991.1 1499.2 L991.6 1495.3 L992.2 1503.4 L992.7 1480.7 L993.3 1500.2 L993.8 1495.4 L994.4 1508.9 L994.9 1500.7 L995.5 1506.9 L996.0 1508.2 L996.6 1480.2 L997.1 1508.4 L997.7 1490.4 L998.2 1499.9 L998.8 1510.5 L999.3 1495.4 L999.9 1506.7 L1000.4 1506.3 L1001.0 1514.3 L1001.5 1497.6 L1002.1 1502.3 L1002.6 1499.3 L1003.2 1501.0 L1003.7 1493.2 L1004.3 1507.0 L1004.8 1490.7 L1005.4 1501.0 L1005.9 1490.6 L1006.5 1509.5 L1007.0 1490.4 L1007.6 1496.7 L1008.1 1500.0 L1008.7 1508.2 L1009.2 1495.9 L1009.8 1497.3 L1010.3 1507.9 L1010.9 1490.6 L1011.4 1499.1 L1012.0 1493.7 L1012.5 1486.9 L1013.1 1504.4 L1013.6 1509.3 L1014.2 1488.1 L1014.7 1510.6 L1015.3 1506.0 L1015.8 1483.8 L1016.4 1505.4 L1016.9 1506.9 L1017.5 1521.0 L1018.0 1499.5 L1018.6 1495.6 L1019.1 1502.8 L1019.7 1490.3 L1020.2 1504.7 L1020.8 1502.1 L1021.3 1494.5 L1021.9 1505.0 L1022.4 1500.6 L1023.0 1488.6 L1023.5 1489.6 L1024.1 1515.0 L1024.6 1509.1 L1025.2 1500.9 L1025.7 1486.1 L1026.3 1495.0 L1026.8 1499.6 L1027.4 1498.1 L1027.9 1508.5 L1028.5 1499.0 L1029.0 1493.4 L1029.6 1479.0 L1030.1 1485.8 L1030.7 1480.7 L1031.2 1493.6 L1031.8 1465.1 L1032.3 1476.5 L1032.9 1486.4 L1033.4 1496.0 L1034.0 1475.1 L1034.5 1469.0 L1035.1 1471.6 L1035.6 1477.0 L1036.2 1481.8 L1036.7 1489.5 L1037.3 1486.4 L1037.8 1489.9 L1038.4 1485.8 L1038.9 1491.4 L1039.5 1494.1 L1040.0 1490.4 L1040.6 1475.1 L1041.1 1470.7 L1041.7 1469.0 L1042.2 1476.8 L1042.8 1487.3 L1043.3 1473.1 L1043.9 1463.6 L1044.4 1482.6 L1045.0 1458.7 L1045.5 1467.2 L1046.1 1467.4 L1046.6 1456.7 L1047.2 1478.5 L1047.7 1463.8 L1048.3 1464.2 L1048.8 1447.4 L1049.4 1461.7 L1049.9 1447.4 L1050.5 1439.4 L1051.0 1447.5 L1051.6 1447.8 L1052.1 1440.3 L1052.7 1446.5 L1053.2 1436.6 L1053.8 1426.9 L1054.3 1433.2 L1054.9 1433.9 L1055.4 1419.9 L1056.0 1427.9 L1056.5 1412.6 L1057.1 1437.2 L1057.6 1424.1 L1058.2 1416.0 L1058.7 1421.5 L1059.3 1408.6 L1059.8 1416.9 L1060.4 1409.3 L1060.9 1404.2 L1061.5 1404.3 L1062.0 1393.1 L1062.6 1414.4 L1063.1 1411.1 L1063.7 1395.7 L1064.2 1400.9 L1064.8 1390.3 L1065.3 1368.0 L1065.9 1376.9 L1066.4 1359.4 L1067.0 1368.9 L1067.5 1365.6 L1068.1 1353.8 L1068.6 1341.7 L1069.2 1339.3 L1069.7 1332.6 L1070.3 1331.9 L1070.8 1321.9 L1071.4 1321.2 L1071.9 1316.5 L1072.5 1319.9 L1073.0 1330.7 L1073.6 1343.3 L1074.1 1346.6 L1074.7 1342.5 L1075.2 1356.3 L1075.8 1360.7 L1076.3 1361.3 L1076.9 1385.7 L1077.4 1383.8 L1078.0 1380.0 L1078.5 1378.2 L1079.1 1412.3 L1079.6 1420.4 L1080.2 1426.6 L1080.7 1432.4 L1081.3 1448.8 L1081.8 1423.9 L1082.4 1421.4 L1082.9 1406.6 L1083.5 1424.2 L1084.0 1416.4 L1084.6 1416.6 L1085.1 1396.3 L1085.7 1394.6 L1086.2 1381.6 L1086.8 1378.3 L1087.3 1390.8 L1087.9 1383.3 L1088.4 1380.0 L1089.0 1383.2 L1089.5 1360.8 L1090.1 1340.1 L1090.6 1335.9 L1091.2 1330.3 L1091.7 1300.6 L1092.3 1296.8 L1092.8 1298.6 L1093.4 1279.1 L1093.9 1277.8 L1094.5 1258.3 L1095.0 1254.4 L1095.6 1244.7 L1096.1 1246.5 L1096.7 1257.3 L1097.2 1268.9 L1097.8 1276.1 L1098.3 1301.7 L1098.9 1307.3 L1099.4 1315.3 L1100.0 1345.0 L1100.5 1352.3 L1101.1 1353.1 L1101.6 1375.4 L1102.2 1377.7 L1102.7 1376.2 L1103.3 1394.6 L1103.8 1433.9 L1104.4 1440.9 L1104.9 1447.3 L1105.5 1415.0 L1106.0 1445.4 L1106.6 1433.6 L1107.1 1441.8 L1107.7 1449.7 L1108.2 1460.3 L1108.8 1442.0 L1109.3 1443.4 L1109.9 1449.2 L1110.4 1443.1 L1111.0 1451.3 L1111.5 1449.6 L1112.1 1474.0 L1112.6 1449.6 L1113.2 1475.7 L1113.7 1462.8 L1114.3 1463.4 L1114.8 1467.1 L1115.4 1451.9 L1115.9 1466.0 L1116.5 1468.2 L1117.0 1470.5 L1117.6 1465.1 L1118.1 1487.6 L1118.7 1457.7 L1119.2 1450.2 L1119.8 1480.1 L1120.3 1467.9 L1120.9 1461.0 L1121.4 1479.1 L1122.0 1487.6 L1122.5 1494.6 L1123.1 1476.3 L1123.6 1463.3 L1124.2 1470.0 L1124.7 1478.4 L1125.3 1478.8 L1125.8 1472.9 L1126.4 1479.5 L1126.9 1474.4 L1127.5 1488.8 L1128.0 1488.3 L1128.6 1478.5 L1129.1 1480.9 L1129.7 1469.0 L1130.2 1477.9 L1130.8 1503.0 L1131.3 1498.4 L1131.9 1478.5 L1132.4 1486.5 L1133.0 1493.6 L1133.5 1495.2 L1134.1 1503.4 L1134.6 1504.8 L1135.2 1492.9 L1135.7 1485.1 L1136.3 1484.5 L1136.8 1506.9 L1137.4 1487.1 L1137.9 1505.4 L1138.5 1488.1 L1139.0 1502.2 L1139.6 1499.0 L1140.1 1507.6 L1140.7 1513.5 L1141.2 1523.7 L1141.8 1495.4 L1142.3 1513.6 L1142.9 1513.3 L1143.4 1500.7 L1144.0 1510.7 L1144.5 1502.4 L1145.1 1514.0 L1145.6 1484.1 L1146.2 1529.4 L1146.7 1513.2 L1147.3 1507.5 L1147.8 1499.3 L1148.4 1514.5 L1148.9 1520.1 L1149.5 1519.1 L1150.0 1508.0 L1150.6 1510.7 L1151.1 1523.1 L1151.7 1519.5 L1152.2 1517.1 L1152.8 1501.2 L1153.3 1511.1 L1153.9 1522.3 L1154.4 1495.5 L1155.0 1524.8 L1155.5 1511.9 L1156.1 1501.7 L1156.6 1516.0 L1157.2 1513.8 L1157.7 1495.0 L1158.3 1521.7 L1158.8 1504.5 L1159.4 1515.6 L1159.9 1537.8 L1160.5 1510.0 L1161.0 1517.6 L1161.6 1507.4 L1162.1 1523.0 L1162.7 1514.6 L1163.2 1528.5 L1163.8 1520.0 L1164.3 1530.7 L1164.9 1529.6 L1165.4 1518.8 L1166.0 1523.3 L1166.5 1525.3 L1167.1 1509.7 L1167.6 1522.9 L1168.2 1530.2 L1168.7 1542.4 L1169.3 1501.6 L1169.8 1513.8 L1170.4 1530.5 L1170.9 1529.3 L1171.5 1515.7 L1172.0 1518.7 L1172.6 1538.5 L1173.1 1525.8 L1173.7 1526.0 L1174.2 1532.4 L1174.8 1525.4 L1175.3 1519.4 L1175.9 1537.0 L1176.4 1522.9 L1177.0 1539.6 L1177.5 1543.7 L1178.1 1522.4 L1178.6 1507.0 L1179.2 1544.9 L1179.7 1506.5 L1180.3 1544.0 L1180.8 1521.1 L1181.4 1511.7 L1181.9 1529.1 L1182.5 1532.7 L1183.0 1522.5 L1183.6 1515.5 L1184.1 1536.2 L1184.7 1555.1 L1185.2 1540.3 L1185.8 1532.5 L1186.3 1541.6 L1186.9 1542.2 L1187.4 1507.5 L1188.0 1517.5 L1188.5 1524.3 L1189.1 1533.6 L1189.6 1533.0 L1190.2 1518.8 L1190.7 1526.5 L1191.3 1535.3 L1191.8 1539.2 L1192.4 1535.8 L1192.9 1529.4 L1193.5 1537.4 L1194.0 1512.1 L1194.6 1536.5 L1195.1 1519.4 L1195.7 1532.2 L1196.2 1519.2 L1196.8 1520.9 L1197.3 1540.8 L1197.9 1534.9 L1198.4 1539.7 L1199.0 1526.8 L1199.5 1538.5 L1200.1 1516.6 L1200.6 1534.9 L1201.2 1522.2 L1201.7 1546.9 L1202.3 1514.3 L1202.8 1515.8 L1203.4 1524.5 L1203.9 1517.3 L1204.5 1516.4 L1205.0 1532.8 L1205.6 1526.9 L1206.1 1552.5 L1206.7 1524.4 L1207.2 1526.3 L1207.8 1546.9 L1208.3 1522.7 L1208.9 1544.4 L1209.4 1542.0 L1210.0 1537.4 L1210.5 1541.6" fill="none" stroke="#f00" stroke-width="3.0" stroke-linejoin="round" opacity="1.0"/>
</g><g clip-path="url(#cd)">
<path d="M297.0 1948.8 L298.0 1949.6 L299.0 1954.1 L300.0 1953.8 L301.0 1946.2 L302.0 1946.7 L303.0 1950.1 L304.0 1954.3 L305.0 1947.7 L306.0 1949.1 L307.0 1955.6 L308.0 1953.8 L309.0 1957.1 L310.0 1953.9 L311.0 1950.2 L312.0 1955.2 L313.0 1951.1 L314.0 1958.2 L315.0 1949.7 L316.0 1958.1 L317.0 1959.1 L318.0 1951.8 L319.0 1951.5 L320.0 1950.2 L321.0 1958.2 L322.0 1957.1 L323.0 1948.3 L324.0 1959.9 L325.0 1953.6 L326.0 1955.8 L327.0 1949.3 L328.0 1949.7 L329.0 1956.5 L330.0 1953.5 L331.0 1951.7 L332.0 1955.0 L333.0 1951.3 L334.0 1946.9 L335.0 1953.5 L336.0 1946.4 L337.0 1954.9 L338.0 1952.4 L339.0 1955.3 L340.0 1953.9 L341.0 1955.1 L342.0 1950.6 L343.0 1949.1 L344.0 1944.1 L345.0 1955.4 L346.0 1953.3 L347.0 1953.9 L348.0 1953.3 L349.0 1956.1 L350.0 1953.7 L351.0 1952.1 L352.0 1949.0 L353.0 1950.8 L354.0 1945.4 L355.0 1955.5 L356.0 1949.8 L357.0 1956.3 L358.0 1950.9 L359.0 1956.7 L360.0 1953.7 L361.0 1948.8 L362.0 1952.7 L363.0 1956.9 L364.0 1953.9 L365.0 1953.4 L366.0 1954.1 L367.0 1948.7 L368.0 1956.8 L369.0 1951.6 L370.0 1946.0 L371.0 1952.4 L372.0 1951.8 L373.0 1953.0 L374.0 1948.6 L375.0 1955.0 L376.0 1955.3 L377.0 1954.6 L378.0 1953.9 L379.0 1950.5 L380.0 1956.7 L381.0 1955.1 L382.0 1957.6 L383.0 1951.8 L384.0 1949.0 L385.0 1956.2 L386.0 1955.6 L387.0 1949.3 L388.0 1955.4 L389.0 1947.2 L390.0 1951.6 L391.0 1952.2 L392.0 1949.1 L393.0 1952.1 L394.0 1956.5 L395.0 1953.4 L396.0 1948.4 L397.0 1955.2 L398.0 1953.9 L399.0 1953.2 L400.0 1946.7 L401.0 1950.2 L402.0 1956.9 L403.0 1946.2 L404.0 1954.5 L405.0 1957.5 L406.0 1949.4 L407.0 1949.9 L408.0 1955.7 L409.0 1948.7 L410.0 1946.0 L411.0 1948.3 L412.0 1952.3 L413.0 1950.3 L414.0 1953.3 L415.0 1946.7 L416.0 1947.3 L417.0 1945.7 L418.0 1958.7 L419.0 1945.4 L420.0 1953.4 L421.0 1952.1 L422.0 1954.3 L423.0 1947.2 L424.0 1949.5 L425.0 1949.9 L426.0 1950.6 L427.0 1955.8 L428.0 1947.9 L429.0 1953.4 L430.0 1950.5 L431.0 1956.4 L432.0 1950.6 L433.0 1955.5 L434.0 1946.6 L435.0 1952.8 L436.0 1951.1 L437.0 1952.6 L438.0 1954.4 L439.0 1951.3 L440.0 1949.1 L441.0 1946.8 L442.0 1942.5 L443.0 1952.7 L444.0 1952.6 L445.0 1947.3 L446.0 1946.2 L447.0 1950.3 L448.0 1949.6 L449.0 1948.3 L450.0 1946.4 L451.0 1940.7 L452.0 1942.8 L453.0 1943.5 L454.0 1939.2 L455.0 1941.7 L456.0 1949.3 L457.0 1946.7 L458.0 1946.1 L459.0 1949.3 L460.0 1952.7 L461.0 1942.8 L462.0 1948.6 L463.0 1945.8 L464.0 1943.5 L465.0 1941.8 L466.0 1947.2 L467.0 1947.9 L468.0 1954.0 L469.0 1951.4 L470.0 1946.1 L471.0 1948.1 L472.0 1951.5 L473.0 1953.4 L474.0 1951.1 L475.0 1947.1 L476.0 1949.9 L477.0 1946.9 L478.0 1952.2 L479.0 1953.2 L480.0 1949.5 L481.0 1955.3 L482.0 1949.9 L483.0 1954.6 L484.0 1948.4 L485.0 1950.7 L486.0 1956.7 L487.0 1953.3 L488.0 1949.1 L489.0 1953.7 L490.0 1950.0 L491.0 1952.0 L492.0 1955.6 L493.0 1957.4 L494.0 1950.0 L495.0 1956.5 L496.0 1954.0 L497.0 1957.7 L498.0 1955.2 L499.0 1959.9 L500.0 1957.5 L501.0 1949.8 L502.0 1950.2 L503.0 1956.4 L504.0 1950.8 L505.0 1953.1 L506.0 1956.9 L507.0 1952.8 L508.0 1956.4 L509.0 1951.0 L510.0 1953.7 L511.0 1960.6 L512.0 1951.1 L513.0 1949.9 L514.0 1959.4 L515.0 1961.6 L516.0 1957.4 L517.0 1956.4 L518.0 1958.5 L519.0 1960.8 L520.0 1958.9 L521.0 1952.5 L522.0 1954.6 L523.0 1955.2 L524.0 1954.9 L525.0 1959.0 L526.0 1953.0 L527.0 1960.9 L528.0 1959.7 L529.0 1949.0 L530.0 1959.3 L531.0 1958.3 L532.0 1954.0 L533.0 1961.4 L534.0 1950.5 L535.0 1957.3 L536.0 1962.7 L537.0 1952.0 L538.0 1961.6 L539.0 1957.0 L540.0 1954.9 L541.0 1961.4 L542.0 1961.6 L543.0 1961.8 L544.0 1956.4 L545.0 1958.4 L546.0 1956.0 L547.0 1957.3 L548.0 1953.6 L549.0 1953.1 L550.0 1960.8 L551.0 1952.8 L552.0 1959.9 L553.0 1961.6 L554.0 1962.4 L555.0 1952.7 L556.0 1955.6 L557.0 1952.8 L558.0 1962.2 L559.0 1955.8 L560.0 1965.5 L561.0 1955.5 L562.0 1963.4 L563.0 1963.5 L564.0 1954.4 L565.0 1954.6 L566.0 1958.5 L567.0 1959.9 L568.0 1957.5 L569.0 1957.6 L570.0 1956.9 L571.0 1963.4 L572.0 1957.8 L573.0 1963.3 L574.0 1965.3 L575.0 1959.2 L576.0 1964.2 L577.0 1963.6 L578.0 1962.1 L579.0 1959.9 L580.0 1961.8 L581.0 1967.3 L582.0 1961.8 L583.0 1962.5 L584.0 1957.6 L585.0 1964.3 L586.0 1958.3 L587.0 1962.8 L588.0 1963.3 L589.0 1957.0 L590.0 1959.8 L591.0 1963.1 L592.0 1963.6 L593.0 1967.5 L594.0 1959.4 L595.0 1961.9 L596.0 1963.5 L597.0 1961.2 L598.0 1963.1 L599.0 1963.1 L600.0 1963.3 L601.0 1962.7 L602.0 1961.4 L603.0 1960.1 L604.0 1962.7 L605.0 1961.6 L606.0 1951.6 L607.0 1951.0 L608.0 1955.8 L609.0 1959.0 L610.0 1949.1 L611.0 1954.5 L612.0 1953.5 L613.0 1943.6 L614.0 1944.7 L615.0 1937.3 L616.0 1944.3 L617.0 1938.2 L618.0 1930.4 L619.0 1926.1 L620.0 1932.0 L621.0 1924.4 L622.0 1925.8 L623.0 1923.2 L624.0 1921.3 L625.0 1915.7 L626.0 1920.9 L627.0 1928.9 L628.0 1923.0 L629.0 1925.2 L630.0 1928.5 L631.0 1932.5 L632.0 1936.6 L633.0 1934.4 L634.0 1931.9 L635.0 1937.7 L636.0 1932.3 L637.0 1941.3 L638.0 1943.0 L639.0 1947.4 L640.0 1939.6 L641.0 1951.3 L642.0 1952.1 L643.0 1944.7 L644.0 1948.0 L645.0 1935.5 L646.0 1931.8 L647.0 1929.2 L648.0 1924.7 L649.0 1915.3 L650.0 1918.9 L651.0 1927.9 L652.0 1933.1 L653.0 1946.6 L654.0 1946.8 L655.0 1954.0 L656.0 1955.8 L657.0 1947.3 L658.0 1950.6 L659.0 1949.8 L660.0 1948.1 L661.0 1952.8 L662.0 1950.7 L663.0 1949.2 L664.0 1953.4 L665.0 1958.8 L666.0 1948.6 L667.0 1958.1 L668.0 1954.2 L669.0 1958.7 L670.0 1951.5 L671.0 1957.5 L672.0 1951.8 L673.0 1956.7 L674.0 1950.4 L675.0 1961.3 L676.0 1956.3 L677.0 1953.5 L678.0 1954.7 L679.0 1959.3 L680.0 1955.7 L681.0 1953.5 L682.0 1961.6 L683.0 1957.1 L684.0 1962.7 L685.0 1954.0 L686.0 1963.6 L687.0 1952.7 L688.0 1952.0 L689.0 1957.5 L690.0 1958.3 L691.0 1959.9 L692.0 1960.4 L693.0 1959.4 L694.0 1952.6 L695.0 1955.7 L696.0 1959.6 L697.0 1959.3 L698.0 1948.4 L699.0 1959.5 L700.0 1951.7 L701.0 1954.8 L702.0 1957.3 L703.0 1957.0 L704.0 1953.6 L705.0 1950.7 L706.0 1957.2 L707.0 1945.4 L708.0 1945.5 L709.0 1956.2 L710.0 1945.2 L711.0 1950.5 L712.0 1952.1 L713.0 1949.4 L714.0 1945.3 L715.0 1946.2 L716.0 1950.1 L717.0 1948.3 L718.0 1952.0 L719.0 1944.6 L720.0 1947.1 L721.0 1944.2 L722.0 1943.2 L723.0 1947.8 L724.0 1945.0 L725.0 1942.3 L726.0 1940.9 L727.0 1948.9 L728.0 1949.5 L729.0 1947.1 L730.0 1943.1 L731.0 1949.3 L732.0 1942.3 L733.0 1947.5 L734.0 1938.2 L735.0 1939.9 L736.0 1944.7 L737.0 1944.3 L738.0 1946.9 L739.0 1938.0 L740.0 1937.9 L741.0 1938.0 L742.0 1943.4 L743.0 1945.4 L744.0 1942.8 L745.0 1936.4 L746.0 1932.6 L747.0 1932.6 L748.0 1934.1 L749.0 1942.9 L750.0 1935.0 L751.0 1931.5 L752.0 1934.9 L753.0 1935.2 L754.0 1935.7 L755.0 1935.1 L756.0 1927.3 L757.0 1915.8 L758.0 1918.6 L759.0 1912.1 L760.0 1899.0 L761.0 1896.7 L762.0 1892.1 L763.0 1885.3 L764.0 1883.9 L765.0 1889.9 L766.0 1889.5 L767.0 1899.3 L768.0 1899.5 L769.0 1910.8 L770.0 1906.4 L771.0 1907.5 L772.0 1909.2 L773.0 1914.4 L774.0 1915.8 L775.0 1915.3 L776.0 1922.8 L777.0 1917.8 L778.0 1927.8 L779.0 1923.4 L780.0 1919.4 L781.0 1925.5 L782.0 1928.8 L783.0 1944.5 L784.0 1936.2 L785.0 1943.3 L786.0 1938.4 L787.0 1932.9 L788.0 1929.3 L789.0 1926.3 L790.0 1930.2 L791.0 1926.2 L792.0 1922.2 L793.0 1917.1 L794.0 1926.3 L795.0 1925.0 L796.0 1928.1 L797.0 1927.4 L798.0 1935.2 L799.0 1929.9 L800.0 1936.7 L801.0 1937.1 L802.0 1933.5 L803.0 1940.8 L804.0 1932.0 L805.0 1925.8 L806.0 1920.4 L807.0 1924.6 L808.0 1919.1 L809.0 1916.2 L810.0 1914.7 L811.0 1914.2 L812.0 1902.6 L813.0 1901.3 L814.0 1900.9 L815.0 1896.8 L816.0 1888.7 L817.0 1884.0 L818.0 1882.9 L819.0 1880.7 L820.0 1870.9 L821.0 1874.6 L822.0 1869.5 L823.0 1861.8 L824.0 1856.6 L825.0 1855.3 L826.0 1852.9 L827.0 1855.1 L828.0 1856.3 L829.0 1857.5 L830.0 1870.7 L831.0 1871.1 L832.0 1873.6 L833.0 1870.1 L834.0 1871.9 L835.0 1879.9 L836.0 1891.8 L837.0 1892.2 L838.0 1903.2 L839.0 1911.3 L840.0 1908.5 L841.0 1924.4 L842.0 1920.7 L843.0 1921.0 L844.0 1930.2 L845.0 1923.5 L846.0 1929.8 L847.0 1920.8 L848.0 1921.5 L849.0 1922.2 L850.0 1922.0 L851.0 1931.9 L852.0 1932.1 L853.0 1933.1 L854.0 1933.9 L855.0 1933.8 L856.0 1928.7 L857.0 1939.8 L858.0 1932.2 L859.0 1933.2 L860.0 1936.6 L861.0 1940.3 L862.0 1936.6 L863.0 1943.1 L864.0 1944.0 L865.0 1942.3 L866.0 1947.9 L867.0 1948.4 L868.0 1940.3 L869.0 1948.1 L870.0 1939.4 L871.0 1939.5 L872.0 1946.5 L873.0 1948.9 L874.0 1945.4 L875.0 1947.7 L876.0 1947.1 L877.0 1944.7 L878.0 1944.2 L879.0 1939.7 L880.0 1939.4 L881.0 1946.8 L882.0 1938.0 L883.0 1938.2 L884.0 1937.2 L885.0 1940.1 L886.0 1940.4 L887.0 1949.2 L888.0 1941.9 L889.0 1944.8 L890.0 1943.3 L891.0 1941.5 L892.0 1933.3 L893.0 1930.6 L894.0 1933.0 L895.0 1926.5 L896.0 1922.0 L897.0 1928.3 L898.0 1915.8 L899.0 1919.0 L900.0 1918.3 L901.0 1905.3 L902.0 1911.7 L903.0 1900.5 L904.0 1907.8 L905.0 1894.3 L906.0 1892.7 L907.0 1898.0 L908.0 1894.7 L909.0 1892.5 L910.0 1892.6 L911.0 1888.1 L912.0 1882.3 L913.0 1874.8 L914.0 1873.2 L915.0 1870.9 L916.0 1871.1 L917.0 1875.5 L918.0 1879.8 L919.0 1883.0 L920.0 1878.7 L921.0 1878.9 L922.0 1883.8 L923.0 1884.4 L924.0 1891.6 L925.0 1899.0 L926.0 1900.3 L927.0 1902.7 L928.0 1904.8 L929.0 1899.0 L930.0 1895.6 L931.0 1905.5 L932.0 1910.8 L933.0 1917.1 L934.0 1920.8 L935.0 1923.2 L936.0 1921.3 L937.0 1914.4 L938.0 1918.9 L939.0 1914.1 L940.0 1901.6 L941.0 1915.7 L942.0 1915.2 L943.0 1920.6 L944.0 1922.3 L945.0 1914.0 L946.0 1919.0 L947.0 1919.1 L948.0 1927.5 L949.0 1924.1 L950.0 1923.9 L951.0 1928.3 L952.0 1929.5 L953.0 1928.8 L954.0 1932.9 L955.0 1935.8 L956.0 1934.4 L957.0 1934.3 L958.0 1930.3 L959.0 1927.6 L960.0 1928.7 L961.0 1935.0 L962.0 1935.1 L963.0 1934.9 L964.0 1927.5 L965.0 1941.7 L966.0 1934.3 L967.0 1935.4 L968.0 1934.0 L969.0 1940.8 L970.0 1940.1 L971.0 1947.5 L972.0 1945.5 L973.0 1946.0 L974.0 1940.5 L975.0 1938.8 L976.0 1948.5 L977.0 1943.8 L978.0 1943.6 L979.0 1948.5 L980.0 1940.8 L981.0 1947.7 L982.0 1946.7 L983.0 1943.1 L984.0 1946.1 L985.0 1942.0 L986.0 1940.1 L987.0 1942.3 L988.0 1948.0 L989.0 1939.9 L990.0 1943.2 L991.0 1941.6 L992.0 1934.1 L993.0 1932.2 L994.0 1935.7 L995.0 1937.4 L996.0 1936.1 L997.0 1940.2 L998.0 1934.3 L999.0 1942.4 L1000.0 1943.7 L1001.0 1944.9 L1002.0 1942.7 L1003.0 1937.6 L1004.0 1947.9 L1005.0 1939.5 L1006.0 1940.1 L1007.0 1937.3 L1008.0 1945.2 L1009.0 1947.3 L1010.0 1950.8 L1011.0 1944.9 L1012.0 1945.7 L1013.0 1949.5 L1014.0 1948.3 L1015.0 1945.1 L1016.0 1942.2 L1017.0 1951.9 L1018.0 1945.9 L1019.0 1940.8 L1020.0 1947.0 L1021.0 1949.5 L1022.0 1949.1 L1023.0 1948.5 L1024.0 1944.9 L1025.0 1939.1 L1026.0 1940.1 L1027.0 1946.3 L1028.0 1948.3 L1029.0 1938.3 L1030.0 1941.1 L1031.0 1942.4 L1032.0 1943.0 L1033.0 1946.3 L1034.0 1938.1 L1035.0 1944.3 L1036.0 1931.5 L1037.0 1940.0 L1038.0 1934.3 L1039.0 1930.8 L1040.0 1935.5 L1041.0 1935.4 L1042.0 1928.1 L1043.0 1924.1 L1044.0 1933.1 L1045.0 1932.0 L1046.0 1928.5 L1047.0 1926.4 L1048.0 1919.0 L1049.0 1916.2 L1050.0 1911.4 L1051.0 1909.5 L1052.0 1907.3 L1053.0 1905.7 L1054.0 1895.4 L1055.0 1892.2 L1056.0 1894.5 L1057.0 1884.3 L1058.0 1883.4 L1059.0 1881.5 L1060.0 1874.5 L1061.0 1881.9 L1062.0 1874.5 L1063.0 1862.6 L1064.0 1846.9 L1065.0 1846.7 L1066.0 1839.5 L1067.0 1829.0 L1068.0 1815.9 L1069.0 1809.5 L1070.0 1804.8 L1071.0 1796.7 L1072.0 1789.4 L1073.0 1799.4 L1074.0 1813.7 L1075.0 1829.4 L1076.0 1839.4 L1077.0 1846.6 L1078.0 1869.1 L1079.0 1872.2 L1080.0 1874.1 L1081.0 1875.8 L1082.0 1867.7 L1083.0 1853.5 L1084.0 1859.2 L1085.0 1853.9 L1086.0 1847.2 L1087.0 1834.1 L1088.0 1821.3 L1089.0 1800.4 L1090.0 1797.8 L1091.0 1783.3 L1092.0 1768.7 L1093.0 1745.8 L1094.0 1736.6 L1095.0 1719.7 L1096.0 1711.9 L1097.0 1730.9 L1098.0 1749.0 L1099.0 1765.0 L1100.0 1789.9 L1101.0 1802.4 L1102.0 1830.4 L1103.0 1850.2 L1104.0 1858.7 L1105.0 1873.3 L1106.0 1886.6 L1107.0 1911.1 L1108.0 1921.8 L1109.0 1927.8 L1110.0 1935.6 L1111.0 1933.1 L1112.0 1937.4 L1113.0 1938.4 L1114.0 1940.7 L1115.0 1945.8 L1116.0 1943.0 L1117.0 1938.0 L1118.0 1942.7 L1119.0 1950.2 L1120.0 1948.7 L1121.0 1941.2 L1122.0 1945.1 L1123.0 1942.0 L1124.0 1949.7 L1125.0 1943.3 L1126.0 1953.4 L1127.0 1946.2 L1128.0 1953.7 L1129.0 1951.7 L1130.0 1945.2 L1131.0 1950.7 L1132.0 1946.7 L1133.0 1953.5 L1134.0 1949.8 L1135.0 1957.5 L1136.0 1949.4 L1137.0 1955.6 L1138.0 1953.4 L1139.0 1956.1 L1140.0 1951.2 L1141.0 1956.0 L1142.0 1960.2 L1143.0 1951.0 L1144.0 1950.7 L1145.0 1956.6 L1146.0 1950.3 L1147.0 1951.5 L1148.0 1950.8 L1149.0 1959.1 L1150.0 1953.1 L1151.0 1958.7 L1152.0 1956.9 L1153.0 1948.9 L1154.0 1955.2 L1155.0 1950.8 L1156.0 1956.7 L1157.0 1959.2 L1158.0 1953.0 L1159.0 1954.3 L1160.0 1960.0 L1161.0 1950.0 L1162.0 1949.5 L1163.0 1950.0 L1164.0 1954.9 L1165.0 1953.9 L1166.0 1953.4 L1167.0 1952.5 L1168.0 1954.0 L1169.0 1956.4 L1170.0 1954.1 L1171.0 1957.2 L1172.0 1959.7 L1173.0 1953.0 L1174.0 1956.0 L1175.0 1954.5 L1176.0 1955.7 L1177.0 1957.4 L1178.0 1953.4 L1179.0 1963.9 L1180.0 1957.2 L1181.0 1963.9 L1182.0 1957.6 L1183.0 1964.7 L1184.0 1955.3 L1185.0 1957.4 L1186.0 1964.8 L1187.0 1958.6 L1188.0 1958.3 L1189.0 1960.6 L1190.0 1956.7 L1191.0 1963.5 L1192.0 1966.1 L1193.0 1957.8 L1194.0 1966.9 L1195.0 1958.1 L1196.0 1957.4 L1197.0 1967.0 L1198.0 1961.5 L1199.0 1964.3 L1200.0 1958.9 L1201.0 1965.2 L1202.0 1962.8 L1203.0 1965.3 L1204.0 1960.1 L1205.0 1962.0 L1206.0 1968.1 L1207.0 1964.2 L1208.0 1961.2 L1209.0 1961.7 L1210.0 1966.4" fill="none" stroke="#f00" stroke-width="3.8" stroke-linejoin="round" opacity="1.0"/>
<path d="M297.0 1961.4 L298.0 1965.9 L299.0 1965.7 L300.0 1962.9 L301.0 1967.8 L302.0 1965.8 L303.0 1965.7 L304.0 1961.9 L305.0 1968.3 L306.0 1965.7 L307.0 1961.9 L308.0 1964.7 L309.0 1966.4 L310.0 1963.3 L311.0 1966.7 L312.0 1964.9 L313.0 1968.6 L314.0 1959.2 L315.0 1959.8 L316.0 1964.7 L317.0 1968.3 L318.0 1970.0 L319.0 1960.0 L320.0 1969.4 L321.0 1970.0 L322.0 1969.0 L323.0 1961.5 L324.0 1967.5 L325.0 1967.2 L326.0 1959.2 L327.0 1966.4 L328.0 1961.0 L329.0 1963.8 L330.0 1960.6 L331.0 1962.0 L332.0 1960.9 L333.0 1958.1 L334.0 1961.8 L335.0 1963.9 L336.0 1965.6 L337.0 1967.3 L338.0 1960.1 L339.0 1967.6 L340.0 1962.2 L341.0 1964.4 L342.0 1966.5 L343.0 1962.5 L344.0 1968.0 L345.0 1971.1 L346.0 1970.1 L347.0 1965.0 L348.0 1968.8 L349.0 1960.4 L350.0 1963.5 L351.0 1969.8 L352.0 1965.9 L353.0 1960.1 L354.0 1968.8 L355.0 1968.2 L356.0 1965.9 L357.0 1965.5 L358.0 1958.9 L359.0 1964.2 L360.0 1967.2 L361.0 1966.1 L362.0 1961.1 L363.0 1967.2 L364.0 1964.6 L365.0 1963.9 L366.0 1968.1 L367.0 1968.4 L368.0 1962.1 L369.0 1959.6 L370.0 1963.5 L371.0 1964.6 L372.0 1960.3 L373.0 1959.0 L374.0 1961.0 L375.0 1959.4 L376.0 1966.2 L377.0 1967.1 L378.0 1969.0 L379.0 1959.5 L380.0 1963.9 L381.0 1962.0 L382.0 1960.1 L383.0 1963.4 L384.0 1961.9 L385.0 1960.1 L386.0 1960.3 L387.0 1958.2 L388.0 1962.0 L389.0 1966.5 L390.0 1962.6 L391.0 1968.8 L392.0 1963.4 L393.0 1968.9 L394.0 1967.3 L395.0 1961.3 L396.0 1959.1 L397.0 1963.7 L398.0 1961.4 L399.0 1968.1 L400.0 1963.5 L401.0 1963.5 L402.0 1958.5 L403.0 1961.5 L404.0 1963.5 L405.0 1960.2 L406.0 1961.2 L407.0 1961.1 L408.0 1957.2 L409.0 1964.8 L410.0 1961.0 L411.0 1961.1 L412.0 1965.3 L413.0 1962.7 L414.0 1956.6 L415.0 1966.6 L416.0 1957.8 L417.0 1966.8 L418.0 1959.1 L419.0 1955.5 L420.0 1960.0 L421.0 1962.9 L422.0 1959.9 L423.0 1963.8 L424.0 1960.3 L425.0 1963.2 L426.0 1958.0 L427.0 1960.0 L428.0 1964.6 L429.0 1964.3 L430.0 1956.0 L431.0 1955.9 L432.0 1959.7 L433.0 1965.6 L434.0 1960.0 L435.0 1959.3 L436.0 1965.9 L437.0 1960.4 L438.0 1961.9 L439.0 1962.7 L440.0 1964.5 L441.0 1963.1 L442.0 1964.1 L443.0 1961.8 L444.0 1961.1 L445.0 1964.2 L446.0 1960.2 L447.0 1959.6 L448.0 1960.6 L449.0 1957.6 L450.0 1958.6 L451.0 1965.8 L452.0 1960.9 L453.0 1961.9 L454.0 1958.2 L455.0 1966.9 L456.0 1961.0 L457.0 1959.8 L458.0 1957.9 L459.0 1965.2 L460.0 1957.3 L461.0 1961.1 L462.0 1962.3 L463.0 1966.7 L464.0 1957.7 L465.0 1962.1 L466.0 1962.2 L467.0 1965.6 L468.0 1957.0 L469.0 1964.4 L470.0 1960.8 L471.0 1960.4 L472.0 1956.8 L473.0 1956.7 L474.0 1965.9 L475.0 1959.6 L476.0 1955.5 L477.0 1962.9 L478.0 1964.7 L479.0 1964.0 L480.0 1958.7 L481.0 1958.2 L482.0 1962.7 L483.0 1957.4 L484.0 1960.7 L485.0 1962.3 L486.0 1968.2 L487.0 1966.8 L488.0 1967.2 L489.0 1959.5 L490.0 1961.1 L491.0 1965.2 L492.0 1969.4 L493.0 1960.9 L494.0 1959.7 L495.0 1969.1 L496.0 1962.5 L497.0 1966.7 L498.0 1962.8 L499.0 1966.0 L500.0 1959.8 L501.0 1965.3 L502.0 1960.2 L503.0 1965.2 L504.0 1961.6 L505.0 1960.1 L506.0 1968.9 L507.0 1972.9 L508.0 1960.8 L509.0 1965.5 L510.0 1967.4 L511.0 1968.7 L512.0 1970.1 L513.0 1962.1 L514.0 1966.2 L515.0 1964.6 L516.0 1965.9 L517.0 1964.4 L518.0 1971.2 L519.0 1964.4 L520.0 1964.4 L521.0 1969.5 L522.0 1966.6 L523.0 1960.6 L524.0 1971.1 L525.0 1965.4 L526.0 1963.6 L527.0 1968.6 L528.0 1969.5 L529.0 1968.8 L530.0 1964.5 L531.0 1965.4 L532.0 1966.7 L533.0 1971.3 L534.0 1966.8 L535.0 1968.8 L536.0 1971.3 L537.0 1971.4 L538.0 1967.2 L539.0 1966.8 L540.0 1965.1 L541.0 1970.8 L542.0 1964.4 L543.0 1970.4 L544.0 1967.0 L545.0 1971.0 L546.0 1965.5 L547.0 1963.7 L548.0 1965.4 L549.0 1966.7 L550.0 1970.0 L551.0 1967.4 L552.0 1963.0 L553.0 1970.4 L554.0 1966.9 L555.0 1968.7 L556.0 1964.6 L557.0 1967.2 L558.0 1972.5 L559.0 1972.4 L560.0 1970.9 L561.0 1970.0 L562.0 1970.1 L563.0 1966.4 L564.0 1972.3 L565.0 1965.2 L566.0 1970.7 L567.0 1967.1 L568.0 1967.5 L569.0 1967.0 L570.0 1966.0 L571.0 1965.6 L572.0 1963.2 L573.0 1970.8 L574.0 1963.5 L575.0 1962.9 L576.0 1963.6 L577.0 1973.1 L578.0 1972.6 L579.0 1968.3 L580.0 1970.4 L581.0 1970.1 L582.0 1968.3 L583.0 1965.9 L584.0 1971.4 L585.0 1970.3 L586.0 1963.0 L587.0 1968.1 L588.0 1965.3 L589.0 1971.0 L590.0 1961.2 L591.0 1965.3 L592.0 1961.5 L593.0 1963.1 L594.0 1963.5 L595.0 1968.8 L596.0 1963.3 L597.0 1962.0 L598.0 1964.5 L599.0 1969.7 L600.0 1962.5 L601.0 1961.6 L602.0 1963.7 L603.0 1962.7 L604.0 1961.1 L605.0 1959.6 L606.0 1956.8 L607.0 1958.0 L608.0 1956.5 L609.0 1953.7 L610.0 1958.1 L611.0 1957.0 L612.0 1952.3 L613.0 1955.6 L614.0 1948.5 L615.0 1948.1 L616.0 1944.4 L617.0 1947.2 L618.0 1947.2 L619.0 1946.3 L620.0 1944.3 L621.0 1942.9 L622.0 1933.8 L623.0 1931.8 L624.0 1932.1 L625.0 1933.4 L626.0 1940.9 L627.0 1941.1 L628.0 1940.0 L629.0 1944.5 L630.0 1952.4 L631.0 1947.3 L632.0 1954.4 L633.0 1951.0 L634.0 1959.2 L635.0 1958.5 L636.0 1955.0 L637.0 1962.5 L638.0 1959.6 L639.0 1959.1 L640.0 1958.8 L641.0 1960.3 L642.0 1958.1 L643.0 1959.0 L644.0 1956.0 L645.0 1959.9 L646.0 1966.4 L647.0 1964.3 L648.0 1961.9 L649.0 1959.4 L650.0 1965.6 L651.0 1968.5 L652.0 1967.4 L653.0 1963.8 L654.0 1961.2 L655.0 1966.1 L656.0 1967.1 L657.0 1963.0 L658.0 1970.2 L659.0 1969.4 L660.0 1970.0 L661.0 1967.9 L662.0 1969.6 L663.0 1964.4 L664.0 1965.7 L665.0 1965.2 L666.0 1969.3 L667.0 1964.4 L668.0 1959.6 L669.0 1963.0 L670.0 1967.5 L671.0 1964.7 L672.0 1961.6 L673.0 1964.2 L674.0 1960.9 L675.0 1962.7 L676.0 1964.8 L677.0 1965.3 L678.0 1962.3 L679.0 1957.5 L680.0 1964.1 L681.0 1967.1 L682.0 1964.7 L683.0 1965.2 L684.0 1968.1 L685.0 1957.6 L686.0 1960.3 L687.0 1958.3 L688.0 1957.2 L689.0 1967.6 L690.0 1964.1 L691.0 1960.3 L692.0 1957.6 L693.0 1964.5 L694.0 1955.2 L695.0 1956.7 L696.0 1954.8 L697.0 1964.9 L698.0 1956.5 L699.0 1955.0 L700.0 1961.6 L701.0 1955.6 L702.0 1957.2 L703.0 1962.1 L704.0 1962.3 L705.0 1955.1 L706.0 1963.2 L707.0 1962.5 L708.0 1955.7 L709.0 1960.0 L710.0 1956.7 L711.0 1960.3 L712.0 1954.3 L713.0 1954.4 L714.0 1960.9 L715.0 1955.5 L716.0 1954.1 L717.0 1963.5 L718.0 1961.6 L719.0 1954.9 L720.0 1960.9 L721.0 1955.7 L722.0 1957.9 L723.0 1956.5 L724.0 1962.4 L725.0 1960.7 L726.0 1951.1 L727.0 1958.6 L728.0 1958.3 L729.0 1953.6 L730.0 1958.1 L731.0 1960.5 L732.0 1956.2 L733.0 1953.6 L734.0 1959.8 L735.0 1951.5 L736.0 1951.0 L737.0 1950.9 L738.0 1955.3 L739.0 1954.3 L740.0 1957.8 L741.0 1955.3 L742.0 1955.6 L743.0 1954.8 L744.0 1954.7 L745.0 1953.5 L746.0 1957.4 L747.0 1956.0 L748.0 1950.1 L749.0 1957.2 L750.0 1952.7 L751.0 1950.4 L752.0 1950.7 L753.0 1954.9 L754.0 1948.5 L755.0 1947.9 L756.0 1948.7 L757.0 1950.5 L758.0 1949.4 L759.0 1953.6 L760.0 1946.7 L761.0 1951.1 L762.0 1953.1 L763.0 1947.3 L764.0 1944.6 L765.0 1943.5 L766.0 1943.1 L767.0 1946.4 L768.0 1950.2 L769.0 1944.0 L770.0 1952.9 L771.0 1947.8 L772.0 1945.7 L773.0 1955.5 L774.0 1956.3 L775.0 1950.0 L776.0 1953.5 L777.0 1959.5 L778.0 1957.5 L779.0 1953.8 L780.0 1959.3 L781.0 1952.9 L782.0 1958.3 L783.0 1953.3 L784.0 1959.5 L785.0 1951.3 L786.0 1951.4 L787.0 1957.7 L788.0 1954.2 L789.0 1949.8 L790.0 1954.5 L791.0 1954.7 L792.0 1955.4 L793.0 1950.0 L794.0 1951.7 L795.0 1957.9 L796.0 1955.6 L797.0 1957.0 L798.0 1951.8 L799.0 1954.1 L800.0 1955.1 L801.0 1960.0 L802.0 1957.9 L803.0 1955.3 L804.0 1960.5 L805.0 1952.0 L806.0 1957.2 L807.0 1952.2 L808.0 1952.2 L809.0 1953.2 L810.0 1950.8 L811.0 1959.2 L812.0 1957.1 L813.0 1956.3 L814.0 1960.8 L815.0 1953.0 L816.0 1960.3 L817.0 1955.3 L818.0 1958.7 L819.0 1949.1 L820.0 1952.7 L821.0 1956.8 L822.0 1949.7 L823.0 1954.4 L824.0 1948.8 L825.0 1946.6 L826.0 1950.1 L827.0 1946.9 L828.0 1949.8 L829.0 1950.3 L830.0 1946.3 L831.0 1949.4 L832.0 1950.7 L833.0 1951.3 L834.0 1949.6 L835.0 1957.5 L836.0 1959.7 L837.0 1957.3 L838.0 1955.0 L839.0 1958.0 L840.0 1966.8 L841.0 1962.6 L842.0 1960.0 L843.0 1962.7 L844.0 1965.7 L845.0 1961.8 L846.0 1963.3 L847.0 1970.2 L848.0 1966.1 L849.0 1968.5 L850.0 1972.9 L851.0 1971.5 L852.0 1961.6 L853.0 1972.5 L854.0 1966.5 L855.0 1969.6 L856.0 1971.4 L857.0 1971.2 L858.0 1966.3 L859.0 1970.3 L860.0 1967.5 L861.0 1966.7 L862.0 1965.9 L863.0 1969.5 L864.0 1966.3 L865.0 1971.5 L866.0 1960.8 L867.0 1967.9 L868.0 1969.7 L869.0 1964.5 L870.0 1968.9 L871.0 1969.2 L872.0 1962.9 L873.0 1967.7 L874.0 1960.4 L875.0 1964.0 L876.0 1966.1 L877.0 1961.7 L878.0 1970.9 L879.0 1965.8 L880.0 1970.9 L881.0 1970.1 L882.0 1961.2 L883.0 1963.6 L884.0 1960.8 L885.0 1962.5 L886.0 1968.0 L887.0 1964.1 L888.0 1961.0 L889.0 1959.3 L890.0 1960.4 L891.0 1966.9 L892.0 1965.8 L893.0 1968.2 L894.0 1960.8 L895.0 1967.5 L896.0 1965.4 L897.0 1963.5 L898.0 1965.7 L899.0 1962.5 L900.0 1963.2 L901.0 1964.6 L902.0 1963.8 L903.0 1954.0 L904.0 1960.3 L905.0 1953.1 L906.0 1955.3 L907.0 1953.9 L908.0 1959.8 L909.0 1955.0 L910.0 1950.4 L911.0 1955.9 L912.0 1947.1 L913.0 1950.3 L914.0 1950.6 L915.0 1947.0 L916.0 1941.5 L917.0 1945.6 L918.0 1942.7 L919.0 1938.3 L920.0 1942.0 L921.0 1933.1 L922.0 1934.9 L923.0 1939.4 L924.0 1935.8 L925.0 1934.5 L926.0 1932.1 L927.0 1927.5 L928.0 1925.3 L929.0 1925.0 L930.0 1922.8 L931.0 1915.7 L932.0 1905.0 L933.0 1910.4 L934.0 1900.2 L935.0 1902.6 L936.0 1896.9 L937.0 1899.1 L938.0 1897.0 L939.0 1891.7 L940.0 1894.7 L941.0 1891.0 L942.0 1888.2 L943.0 1886.5 L944.0 1890.6 L945.0 1894.2 L946.0 1895.1 L947.0 1904.2 L948.0 1899.5 L949.0 1912.9 L950.0 1910.1 L951.0 1920.6 L952.0 1924.4 L953.0 1934.9 L954.0 1934.9 L955.0 1938.5 L956.0 1948.5 L957.0 1947.2 L958.0 1947.4 L959.0 1954.0 L960.0 1947.9 L961.0 1951.0 L962.0 1956.8 L963.0 1954.8 L964.0 1962.6 L965.0 1960.9 L966.0 1957.9 L967.0 1970.0 L968.0 1961.9 L969.0 1965.4 L970.0 1971.4 L971.0 1962.9 L972.0 1967.3 L973.0 1966.4 L974.0 1970.6 L975.0 1970.1 L976.0 1967.3 L977.0 1966.1 L978.0 1965.0 L979.0 1962.4 L980.0 1965.6 L981.0 1963.6 L982.0 1961.7 L983.0 1971.6 L984.0 1968.2 L985.0 1968.6 L986.0 1968.9 L987.0 1966.4 L988.0 1967.3 L989.0 1970.0 L990.0 1970.3 L991.0 1963.4 L992.0 1964.0 L993.0 1965.8 L994.0 1964.8 L995.0 1966.9 L996.0 1963.0 L997.0 1970.5 L998.0 1967.4 L999.0 1969.4 L1000.0 1969.5 L1001.0 1965.8 L1002.0 1966.4 L1003.0 1961.0 L1004.0 1968.9 L1005.0 1961.7 L1006.0 1968.9 L1007.0 1960.0 L1008.0 1964.5 L1009.0 1966.2 L1010.0 1962.8 L1011.0 1968.1 L1012.0 1965.1 L1013.0 1969.7 L1014.0 1968.5 L1015.0 1960.9 L1016.0 1969.5 L1017.0 1966.4 L1018.0 1960.1 L1019.0 1970.0 L1020.0 1964.1 L1021.0 1960.8 L1022.0 1970.2 L1023.0 1965.5 L1024.0 1963.5 L1025.0 1960.0 L1026.0 1966.9 L1027.0 1971.3 L1028.0 1967.0 L1029.0 1962.4 L1030.0 1961.2 L1031.0 1960.7 L1032.0 1961.6 L1033.0 1962.9 L1034.0 1969.7 L1035.0 1964.8 L1036.0 1965.0 L1037.0 1961.0 L1038.0 1962.1 L1039.0 1963.2 L1040.0 1964.0 L1041.0 1965.9 L1042.0 1969.0 L1043.0 1960.3 L1044.0 1968.8 L1045.0 1966.2 L1046.0 1963.0 L1047.0 1966.5 L1048.0 1966.5 L1049.0 1967.7 L1050.0 1968.0 L1051.0 1967.3 L1052.0 1962.0 L1053.0 1956.3 L1054.0 1957.2 L1055.0 1959.4 L1056.0 1953.5 L1057.0 1953.5 L1058.0 1957.3 L1059.0 1950.2 L1060.0 1958.4 L1061.0 1955.9 L1062.0 1951.2 L1063.0 1949.3 L1064.0 1951.3 L1065.0 1946.2 L1066.0 1951.3 L1067.0 1946.3 L1068.0 1941.7 L1069.0 1946.2 L1070.0 1941.7 L1071.0 1943.2 L1072.0 1941.3 L1073.0 1949.7 L1074.0 1949.8 L1075.0 1943.1 L1076.0 1953.2 L1077.0 1951.3 L1078.0 1953.0 L1079.0 1954.0 L1080.0 1961.2 L1081.0 1957.7 L1082.0 1959.6 L1083.0 1958.5 L1084.0 1950.8 L1085.0 1953.3 L1086.0 1948.1 L1087.0 1944.3 L1088.0 1937.4 L1089.0 1939.6 L1090.0 1933.1 L1091.0 1938.3 L1092.0 1936.0 L1093.0 1930.3 L1094.0 1927.6 L1095.0 1926.7 L1096.0 1924.6 L1097.0 1930.5 L1098.0 1928.9 L1099.0 1931.7 L1100.0 1933.7 L1101.0 1939.0 L1102.0 1946.1 L1103.0 1948.1 L1104.0 1957.9 L1105.0 1960.6 L1106.0 1960.5 L1107.0 1956.5 L1108.0 1954.2 L1109.0 1959.3 L1110.0 1959.3 L1111.0 1954.7 L1112.0 1958.0 L1113.0 1960.4 L1114.0 1953.2 L1115.0 1956.2 L1116.0 1960.9 L1117.0 1955.1 L1118.0 1961.7 L1119.0 1962.8 L1120.0 1959.5 L1121.0 1957.4 L1122.0 1960.7 L1123.0 1954.9 L1124.0 1962.6 L1125.0 1955.1 L1126.0 1964.5 L1127.0 1964.3 L1128.0 1962.0 L1129.0 1960.0 L1130.0 1962.3 L1131.0 1957.9 L1132.0 1956.2 L1133.0 1966.3 L1134.0 1956.6 L1135.0 1966.2 L1136.0 1963.8 L1137.0 1961.3 L1138.0 1964.9 L1139.0 1962.8 L1140.0 1959.1 L1141.0 1959.1 L1142.0 1957.8 L1143.0 1958.0 L1144.0 1962.1 L1145.0 1964.3 L1146.0 1959.0 L1147.0 1957.5 L1148.0 1966.9 L1149.0 1969.4 L1150.0 1961.4 L1151.0 1960.5 L1152.0 1960.3 L1153.0 1957.2 L1154.0 1963.0 L1155.0 1960.3 L1156.0 1960.8 L1157.0 1968.2 L1158.0 1960.5 L1159.0 1958.3 L1160.0 1966.6 L1161.0 1964.0 L1162.0 1962.5 L1163.0 1963.4 L1164.0 1961.8 L1165.0 1963.3 L1166.0 1966.5 L1167.0 1966.0 L1168.0 1963.9 L1169.0 1968.0 L1170.0 1965.4 L1171.0 1960.9 L1172.0 1968.4 L1173.0 1965.3 L1174.0 1968.1 L1175.0 1966.3 L1176.0 1961.3 L1177.0 1965.8 L1178.0 1963.7 L1179.0 1969.5 L1180.0 1966.5 L1181.0 1962.6 L1182.0 1964.4 L1183.0 1963.1 L1184.0 1959.9 L1185.0 1965.2 L1186.0 1966.2 L1187.0 1964.6 L1188.0 1967.1 L1189.0 1966.1 L1190.0 1967.6 L1191.0 1963.8 L1192.0 1966.3 L1193.0 1966.2 L1194.0 1962.2 L1195.0 1962.0 L1196.0 1964.1 L1197.0 1963.3 L1198.0 1962.3 L1199.0 1969.8 L1200.0 1967.6 L1201.0 1964.5 L1202.0 1962.4 L1203.0 1965.0 L1204.0 1971.8 L1205.0 1962.7 L1206.0 1970.7 L1207.0 1962.9 L1208.0 1962.4 L1209.0 1967.8 L1210.0 1971.3" fill="none" stroke="#000096" stroke-width="4.0" stroke-linejoin="round" opacity="1.0"/>
<path d="M297.0 1970.7 L298.0 1971.2 L299.0 1971.1 L300.0 1971.4 L301.0 1970.8 L302.0 1970.8 L303.0 1971.2 L304.0 1971.1 L305.0 1970.8 L306.0 1971.1 L307.0 1970.9 L308.0 1971.2 L309.0 1970.7 L310.0 1970.8 L311.0 1971.3 L312.0 1970.9 L313.0 1970.8 L314.0 1971.2 L315.0 1971.1 L316.0 1970.7 L317.0 1971.0 L318.0 1971.1 L319.0 1970.7 L320.0 1971.1 L321.0 1970.7 L322.0 1970.9 L323.0 1970.7 L324.0 1970.8 L325.0 1971.4 L326.0 1970.9 L327.0 1971.4 L328.0 1971.0 L329.0 1971.1 L330.0 1971.3 L331.0 1971.1 L332.0 1970.7 L333.0 1971.1 L334.0 1971.1 L335.0 1970.7 L336.0 1970.7 L337.0 1971.3 L338.0 1971.0 L339.0 1970.8 L340.0 1971.0 L341.0 1970.8 L342.0 1971.2 L343.0 1971.0 L344.0 1970.7 L345.0 1971.3 L346.0 1970.7 L347.0 1970.8 L348.0 1970.6 L349.0 1971.2 L350.0 1970.7 L351.0 1971.0 L352.0 1970.7 L353.0 1971.0 L354.0 1971.1 L355.0 1971.0 L356.0 1971.0 L357.0 1971.0 L358.0 1970.9 L359.0 1971.1 L360.0 1970.7 L361.0 1971.0 L362.0 1970.8 L363.0 1971.3 L364.0 1971.4 L365.0 1970.7 L366.0 1970.7 L367.0 1971.2 L368.0 1971.1 L369.0 1970.6 L370.0 1971.2 L371.0 1971.4 L372.0 1970.9 L373.0 1970.9 L374.0 1971.1 L375.0 1971.4 L376.0 1970.8 L377.0 1970.8 L378.0 1970.8 L379.0 1971.1 L380.0 1971.0 L381.0 1970.8 L382.0 1970.9 L383.0 1970.6 L384.0 1970.8 L385.0 1971.4 L386.0 1971.1 L387.0 1970.8 L388.0 1971.3 L389.0 1970.9 L390.0 1970.8 L391.0 1970.6 L392.0 1970.7 L393.0 1970.8 L394.0 1970.8 L395.0 1971.3 L396.0 1970.8 L397.0 1970.8 L398.0 1971.1 L399.0 1971.3 L400.0 1970.8 L401.0 1971.2 L402.0 1970.9 L403.0 1971.0 L404.0 1971.1 L405.0 1971.4 L406.0 1971.2 L407.0 1971.0 L408.0 1971.3 L409.0 1970.9 L410.0 1970.9 L411.0 1971.4 L412.0 1971.0 L413.0 1971.2 L414.0 1970.9 L415.0 1971.3 L416.0 1971.1 L417.0 1970.8 L418.0 1971.3 L419.0 1971.0 L420.0 1970.9 L421.0 1970.8 L422.0 1970.7 L423.0 1970.8 L424.0 1971.2 L425.0 1970.7 L426.0 1970.8 L427.0 1971.0 L428.0 1971.0 L429.0 1970.9 L430.0 1971.2 L431.0 1970.8 L432.0 1970.9 L433.0 1970.9 L434.0 1970.7 L435.0 1970.8 L436.0 1970.7 L437.0 1971.2 L438.0 1970.7 L439.0 1971.1 L440.0 1970.8 L441.0 1971.1 L442.0 1971.1 L443.0 1970.9 L444.0 1971.3 L445.0 1971.1 L446.0 1971.0 L447.0 1970.6 L448.0 1970.9 L449.0 1970.8 L450.0 1971.0 L451.0 1971.3 L452.0 1971.3 L453.0 1970.6 L454.0 1971.1 L455.0 1971.3 L456.0 1971.0 L457.0 1970.7 L458.0 1971.3 L459.0 1970.9 L460.0 1971.4 L461.0 1971.3 L462.0 1971.3 L463.0 1971.3 L464.0 1970.7 L465.0 1971.2 L466.0 1970.8 L467.0 1970.7 L468.0 1970.9 L469.0 1971.1 L470.0 1970.6 L471.0 1971.0 L472.0 1971.2 L473.0 1971.0 L474.0 1971.0 L475.0 1970.8 L476.0 1971.4 L477.0 1970.8 L478.0 1971.1 L479.0 1971.1 L480.0 1970.6 L481.0 1971.4 L482.0 1970.8 L483.0 1971.4 L484.0 1971.3 L485.0 1971.3 L486.0 1971.3 L487.0 1970.9 L488.0 1971.0 L489.0 1970.9 L490.0 1971.3 L491.0 1970.6 L492.0 1970.7 L493.0 1971.4 L494.0 1971.2 L495.0 1971.2 L496.0 1971.4 L497.0 1971.0 L498.0 1971.3 L499.0 1971.0 L500.0 1971.3 L501.0 1970.7 L502.0 1971.0 L503.0 1971.1 L504.0 1971.2 L505.0 1970.9 L506.0 1971.1 L507.0 1971.3 L508.0 1970.8 L509.0 1970.6 L510.0 1970.5 L511.0 1971.1 L512.0 1970.8 L513.0 1970.7 L514.0 1970.8 L515.0 1970.4 L516.0 1970.5 L517.0 1970.5 L518.0 1970.4 L519.0 1970.9 L520.0 1970.4 L521.0 1970.2 L522.0 1970.8 L523.0 1970.6 L524.0 1970.1 L525.0 1970.6 L526.0 1970.6 L527.0 1970.5 L528.0 1970.6 L529.0 1970.3 L530.0 1970.1 L531.0 1970.5 L532.0 1970.4 L533.0 1970.4 L534.0 1970.0 L535.0 1970.1 L536.0 1970.3 L537.0 1970.0 L538.0 1970.2 L539.0 1970.1 L540.0 1970.3 L541.0 1969.9 L542.0 1970.0 L543.0 1970.2 L544.0 1969.8 L545.0 1969.7 L546.0 1970.0 L547.0 1969.6 L548.0 1970.1 L549.0 1969.6 L550.0 1970.1 L551.0 1969.8 L552.0 1969.5 L553.0 1969.7 L554.0 1969.8 L555.0 1969.6 L556.0 1969.7 L557.0 1969.5 L558.0 1969.9 L559.0 1969.3 L560.0 1969.8 L561.0 1969.1 L562.0 1969.5 L563.0 1969.1 L564.0 1969.1 L565.0 1969.5 L566.0 1969.7 L567.0 1969.2 L568.0 1969.2 L569.0 1969.1 L570.0 1968.7 L571.0 1968.0 L572.0 1967.5 L573.0 1967.4 L574.0 1966.6 L575.0 1966.0 L576.0 1965.9 L577.0 1965.5 L578.0 1964.5 L579.0 1963.7 L580.0 1963.4 L581.0 1963.4 L582.0 1962.3 L583.0 1961.9 L584.0 1961.8 L585.0 1960.8 L586.0 1960.9 L587.0 1959.9 L588.0 1959.5 L589.0 1959.2 L590.0 1958.3 L591.0 1958.3 L592.0 1957.5 L593.0 1957.3 L594.0 1956.8 L595.0 1955.7 L596.0 1955.8 L597.0 1955.3 L598.0 1954.4 L599.0 1954.1 L600.0 1953.3 L601.0 1953.2 L602.0 1953.4 L603.0 1953.1 L604.0 1953.2 L605.0 1952.9 L606.0 1953.5 L607.0 1953.3 L608.0 1953.5 L609.0 1952.9 L610.0 1953.4 L611.0 1952.9 L612.0 1953.2 L613.0 1953.0 L614.0 1953.5 L615.0 1952.9 L616.0 1953.2 L617.0 1953.2 L618.0 1953.1 L619.0 1952.8 L620.0 1953.0 L621.0 1953.0 L622.0 1952.2 L623.0 1952.4 L624.0 1951.7 L625.0 1951.4 L626.0 1951.7 L627.0 1953.3 L628.0 1954.3 L629.0 1955.4 L630.0 1956.1 L631.0 1957.6 L632.0 1958.4 L633.0 1959.6 L634.0 1961.0 L635.0 1962.1 L636.0 1963.1 L637.0 1964.1 L638.0 1964.6 L639.0 1965.1 L640.0 1965.4 L641.0 1965.3 L642.0 1965.5 L643.0 1966.4 L644.0 1966.3 L645.0 1966.6 L646.0 1967.3 L647.0 1967.4 L648.0 1967.9 L649.0 1967.6 L650.0 1967.8 L651.0 1967.2 L652.0 1967.8 L653.0 1967.4 L654.0 1967.5 L655.0 1967.2 L656.0 1967.2 L657.0 1967.2 L658.0 1967.1 L659.0 1967.7 L660.0 1967.0 L661.0 1967.1 L662.0 1967.4 L663.0 1967.0 L664.0 1967.0 L665.0 1967.0 L666.0 1967.0 L667.0 1966.8 L668.0 1967.4 L669.0 1967.3 L670.0 1967.0 L671.0 1967.4 L672.0 1967.1 L673.0 1966.9 L674.0 1967.4 L675.0 1966.8 L676.0 1967.3 L677.0 1967.3 L678.0 1966.6 L679.0 1967.3 L680.0 1966.9 L681.0 1967.0 L682.0 1967.3 L683.0 1966.9 L684.0 1966.7 L685.0 1966.5 L686.0 1967.2 L687.0 1966.8 L688.0 1967.0 L689.0 1966.9 L690.0 1967.2 L691.0 1967.1 L692.0 1967.1 L693.0 1966.8 L694.0 1967.1 L695.0 1966.6 L696.0 1966.4 L697.0 1966.8 L698.0 1966.3 L699.0 1967.0 L700.0 1966.5 L701.0 1966.6 L702.0 1966.4 L703.0 1966.5 L704.0 1966.6 L705.0 1966.8 L706.0 1966.2 L707.0 1966.4 L708.0 1966.3 L709.0 1966.9 L710.0 1966.4 L711.0 1966.4 L712.0 1966.8 L713.0 1966.3 L714.0 1966.3 L715.0 1966.3 L716.0 1966.2 L717.0 1966.5 L718.0 1966.2 L719.0 1966.3 L720.0 1966.4 L721.0 1966.5 L722.0 1966.5 L723.0 1966.3 L724.0 1966.6 L725.0 1966.6 L726.0 1966.6 L727.0 1966.4 L728.0 1966.2 L729.0 1966.1 L730.0 1966.4 L731.0 1966.1 L732.0 1966.3 L733.0 1966.0 L734.0 1966.0 L735.0 1965.7 L736.0 1966.2 L737.0 1965.9 L738.0 1966.0 L739.0 1966.2 L740.0 1966.3 L741.0 1966.3 L742.0 1966.1 L743.0 1965.7 L744.0 1966.3 L745.0 1965.6 L746.0 1965.8 L747.0 1966.2 L748.0 1966.1 L749.0 1965.9 L750.0 1966.1 L751.0 1965.6 L752.0 1965.4 L753.0 1965.6 L754.0 1966.1 L755.0 1965.4 L756.0 1965.6 L757.0 1965.7 L758.0 1965.5 L759.0 1966.0 L760.0 1965.3 L761.0 1965.2 L762.0 1965.9 L763.0 1965.1 L764.0 1965.2 L765.0 1965.3 L766.0 1965.7 L767.0 1965.2 L768.0 1965.4 L769.0 1965.5 L770.0 1965.3 L771.0 1965.4 L772.0 1964.8 L773.0 1965.1 L774.0 1964.7 L775.0 1965.3 L776.0 1964.6 L777.0 1964.6 L778.0 1964.8 L779.0 1965.0 L780.0 1964.4 L781.0 1964.9 L782.0 1964.4 L783.0 1964.6 L784.0 1964.3 L785.0 1964.8 L786.0 1964.8 L787.0 1964.8 L788.0 1964.4 L789.0 1964.3 L790.0 1964.8 L791.0 1964.6 L792.0 1964.7 L793.0 1964.2 L794.0 1964.6 L795.0 1964.4 L796.0 1964.4 L797.0 1964.1 L798.0 1964.3 L799.0 1964.1 L800.0 1963.8 L801.0 1964.0 L802.0 1963.6 L803.0 1964.0 L804.0 1963.7 L805.0 1963.6 L806.0 1964.0 L807.0 1963.8 L808.0 1963.6 L809.0 1964.0 L810.0 1964.0 L811.0 1963.5 L812.0 1963.6 L813.0 1963.1 L814.0 1963.4 L815.0 1963.8 L816.0 1963.4 L817.0 1963.8 L818.0 1963.0 L819.0 1963.0 L820.0 1963.0 L821.0 1962.9 L822.0 1963.5 L823.0 1963.6 L824.0 1963.4 L825.0 1963.3 L826.0 1963.1 L827.0 1963.0 L828.0 1962.8 L829.0 1963.0 L830.0 1962.7 L831.0 1963.3 L832.0 1963.0 L833.0 1962.9 L834.0 1963.2 L835.0 1962.7 L836.0 1963.2 L837.0 1963.0 L838.0 1962.9 L839.0 1962.9 L840.0 1962.9 L841.0 1963.1 L842.0 1963.1 L843.0 1962.7 L844.0 1963.0 L845.0 1962.4 L846.0 1962.9 L847.0 1962.9 L848.0 1962.7 L849.0 1962.2 L850.0 1962.8 L851.0 1962.2 L852.0 1962.0 L853.0 1962.4 L854.0 1961.5 L855.0 1961.8 L856.0 1961.3 L857.0 1961.6 L858.0 1960.9 L859.0 1960.7 L860.0 1960.8 L861.0 1960.6 L862.0 1960.7 L863.0 1960.2 L864.0 1960.0 L865.0 1959.8 L866.0 1959.9 L867.0 1959.4 L868.0 1959.5 L869.0 1959.6 L870.0 1959.3 L871.0 1958.8 L872.0 1958.8 L873.0 1958.3 L874.0 1958.4 L875.0 1958.4 L876.0 1957.6 L877.0 1957.8 L878.0 1957.8 L879.0 1957.1 L880.0 1956.9 L881.0 1956.9 L882.0 1956.3 L883.0 1956.1 L884.0 1956.2 L885.0 1955.9 L886.0 1955.4 L887.0 1955.2 L888.0 1955.2 L889.0 1955.2 L890.0 1954.5 L891.0 1954.6 L892.0 1954.3 L893.0 1953.8 L894.0 1953.7 L895.0 1953.8 L896.0 1952.9 L897.0 1952.7 L898.0 1952.2 L899.0 1951.4 L900.0 1951.1 L901.0 1950.4 L902.0 1950.1 L903.0 1949.3 L904.0 1949.3 L905.0 1948.9 L906.0 1948.5 L907.0 1948.0 L908.0 1946.8 L909.0 1945.9 L910.0 1944.1 L911.0 1943.0 L912.0 1941.4 L913.0 1940.2 L914.0 1938.6 L915.0 1937.6 L916.0 1935.3 L917.0 1933.3 L918.0 1930.6 L919.0 1928.8 L920.0 1926.1 L921.0 1924.0 L922.0 1921.5 L923.0 1919.1 L924.0 1916.3 L925.0 1913.3 L926.0 1911.1 L927.0 1908.1 L928.0 1906.2 L929.0 1903.6 L930.0 1901.3 L931.0 1899.5 L932.0 1898.8 L933.0 1896.8 L934.0 1896.1 L935.0 1894.8 L936.0 1893.7 L937.0 1892.9 L938.0 1892.3 L939.0 1892.9 L940.0 1892.3 L941.0 1892.3 L942.0 1893.6 L943.0 1895.6 L944.0 1897.2 L945.0 1899.0 L946.0 1900.9 L947.0 1905.5 L948.0 1909.8 L949.0 1914.6 L950.0 1918.0 L951.0 1921.9 L952.0 1925.4 L953.0 1928.8 L954.0 1931.5 L955.0 1933.6 L956.0 1936.0 L957.0 1937.6 L958.0 1939.8 L959.0 1941.7 L960.0 1943.0 L961.0 1944.2 L962.0 1945.3 L963.0 1946.6 L964.0 1947.5 L965.0 1948.2 L966.0 1949.1 L967.0 1950.1 L968.0 1950.7 L969.0 1951.3 L970.0 1952.0 L971.0 1951.8 L972.0 1952.3 L973.0 1952.9 L974.0 1953.4 L975.0 1953.5 L976.0 1953.9 L977.0 1954.7 L978.0 1954.7 L979.0 1955.8 L980.0 1955.9 L981.0 1955.9 L982.0 1956.5 L983.0 1956.2 L984.0 1956.7 L985.0 1956.2 L986.0 1956.2 L987.0 1956.7 L988.0 1956.9 L989.0 1957.1 L990.0 1956.8 L991.0 1957.4 L992.0 1957.2 L993.0 1957.9 L994.0 1957.9 L995.0 1958.0 L996.0 1957.5 L997.0 1957.7 L998.0 1957.8 L999.0 1958.3 L1000.0 1958.1 L1001.0 1958.3 L1002.0 1958.3 L1003.0 1959.1 L1004.0 1958.7 L1005.0 1958.5 L1006.0 1958.4 L1007.0 1958.5 L1008.0 1958.4 L1009.0 1958.9 L1010.0 1959.0 L1011.0 1959.0 L1012.0 1958.4 L1013.0 1958.8 L1014.0 1959.0 L1015.0 1958.6 L1016.0 1958.9 L1017.0 1958.3 L1018.0 1958.7 L1019.0 1958.9 L1020.0 1958.6 L1021.0 1958.4 L1022.0 1959.1 L1023.0 1958.9 L1024.0 1958.5 L1025.0 1958.9 L1026.0 1958.4 L1027.0 1958.8 L1028.0 1958.9 L1029.0 1958.8 L1030.0 1958.7 L1031.0 1959.0 L1032.0 1958.6 L1033.0 1958.4 L1034.0 1958.4 L1035.0 1958.4 L1036.0 1958.9 L1037.0 1958.4 L1038.0 1959.1 L1039.0 1958.8 L1040.0 1958.4 L1041.0 1959.1 L1042.0 1959.1 L1043.0 1958.5 L1044.0 1958.7 L1045.0 1958.5 L1046.0 1958.4 L1047.0 1958.4 L1048.0 1959.0 L1049.0 1958.3 L1050.0 1958.2 L1051.0 1958.1 L1052.0 1958.1 L1053.0 1958.5 L1054.0 1957.8 L1055.0 1957.7 L1056.0 1957.5 L1057.0 1957.9 L1058.0 1957.3 L1059.0 1957.8 L1060.0 1957.7 L1061.0 1957.1 L1062.0 1957.2 L1063.0 1957.3 L1064.0 1957.0 L1065.0 1956.7 L1066.0 1957.1 L1067.0 1957.0 L1068.0 1956.3 L1069.0 1956.7 L1070.0 1956.0 L1071.0 1956.6 L1072.0 1956.2 L1073.0 1956.6 L1074.0 1955.8 L1075.0 1955.9 L1076.0 1956.0 L1077.0 1956.0 L1078.0 1956.2 L1079.0 1955.6 L1080.0 1955.5 L1081.0 1955.6 L1082.0 1955.4 L1083.0 1956.0 L1084.0 1955.6 L1085.0 1955.3 L1086.0 1955.3 L1087.0 1955.2 L1088.0 1955.3 L1089.0 1955.2 L1090.0 1955.3 L1091.0 1954.9 L1092.0 1955.3 L1093.0 1955.4 L1094.0 1955.2 L1095.0 1954.8 L1096.0 1955.3 L1097.0 1955.7 L1098.0 1955.2 L1099.0 1956.1 L1100.0 1955.5 L1101.0 1955.7 L1102.0 1955.7 L1103.0 1956.6 L1104.0 1956.0 L1105.0 1956.5 L1106.0 1956.8 L1107.0 1956.8 L1108.0 1957.4 L1109.0 1957.2 L1110.0 1956.9 L1111.0 1957.3 L1112.0 1957.3 L1113.0 1958.0 L1114.0 1957.6 L1115.0 1958.1 L1116.0 1958.0 L1117.0 1958.2 L1118.0 1958.4 L1119.0 1958.3 L1120.0 1958.8 L1121.0 1958.9 L1122.0 1959.2 L1123.0 1959.3 L1124.0 1958.9 L1125.0 1959.6 L1126.0 1959.3 L1127.0 1960.0 L1128.0 1959.8 L1129.0 1959.6 L1130.0 1960.0 L1131.0 1960.2 L1132.0 1960.3 L1133.0 1960.3 L1134.0 1960.6 L1135.0 1960.7 L1136.0 1961.0 L1137.0 1960.8 L1138.0 1961.0 L1139.0 1960.8 L1140.0 1961.5 L1141.0 1961.1 L1142.0 1961.9 L1143.0 1961.8 L1144.0 1961.9 L1145.0 1961.9 L1146.0 1962.2 L1147.0 1961.9 L1148.0 1962.1 L1149.0 1962.6 L1150.0 1962.5 L1151.0 1962.8 L1152.0 1962.9 L1153.0 1963.5 L1154.0 1963.3 L1155.0 1962.9 L1156.0 1963.6 L1157.0 1963.5 L1158.0 1963.5 L1159.0 1963.8 L1160.0 1964.3 L1161.0 1964.4 L1162.0 1964.2 L1163.0 1964.6 L1164.0 1964.5 L1165.0 1964.3 L1166.0 1964.9 L1167.0 1965.1 L1168.0 1965.1 L1169.0 1964.9 L1170.0 1965.2 L1171.0 1965.0 L1172.0 1965.2 L1173.0 1965.2 L1174.0 1966.1 L1175.0 1966.0 L1176.0 1965.9 L1177.0 1966.2 L1178.0 1966.3 L1179.0 1966.3 L1180.0 1966.2 L1181.0 1966.5 L1182.0 1966.7 L1183.0 1966.7 L1184.0 1966.7 L1185.0 1967.1 L1186.0 1967.2 L1187.0 1967.0 L1188.0 1967.1 L1189.0 1967.7 L1190.0 1968.0 L1191.0 1967.9 L1192.0 1968.1 L1193.0 1968.1 L1194.0 1968.0 L1195.0 1968.3 L1196.0 1968.3 L1197.0 1968.8 L1198.0 1968.3 L1199.0 1969.1 L1200.0 1968.5 L1201.0 1968.8 L1202.0 1969.1 L1203.0 1969.5 L1204.0 1969.6 L1205.0 1969.6 L1206.0 1969.6 L1207.0 1969.8 L1208.0 1969.6 L1209.0 1969.5 L1210.0 1970.1" fill="none" stroke="#000" stroke-width="4.0" stroke-linejoin="round" opacity="1.0"/>
</g>
<line x1="292.3" y1="1131" x2="1215.5" y2="1131" stroke="#444" stroke-width="5.2"/>
<line x1="294.8" y1="1128.5" x2="294.8" y2="1988" stroke="#444" stroke-width="5"/>
<line x1="1213.5" y1="1128.5" x2="1213.5" y2="1974" stroke="#000" stroke-width="3.5"/>
<line x1="294.8" y1="1556.1" x2="1214.0" y2="1556.1" stroke="#999" stroke-width="2.6"/>
<line x1="294.8" y1="1553.3" x2="1214.0" y2="1553.3" stroke="#0a0a0a" stroke-width="3"/>
<line x1="268" y1="1974" x2="1215.5" y2="1974" stroke="#444" stroke-width="6"/>
<line x1="268" y1="1158.7" x2="294.8" y2="1158.7" stroke="#2a2a2a" stroke-width="4"/>
<line x1="268" y1="1289.7" x2="294.8" y2="1289.7" stroke="#2a2a2a" stroke-width="4"/>
<line x1="268" y1="1422" x2="294.8" y2="1422" stroke="#2a2a2a" stroke-width="4"/>
<line x1="268" y1="1567.6" x2="294.8" y2="1567.6" stroke="#2a2a2a" stroke-width="4"/>
<line x1="268" y1="1702.7" x2="294.8" y2="1702.7" stroke="#2a2a2a" stroke-width="4"/>
<line x1="268" y1="1838.5" x2="294.8" y2="1838.5" stroke="#2a2a2a" stroke-width="4"/>
<line x1="280" y1="1223.7" x2="294.8" y2="1223.7" stroke="#2a2a2a" stroke-width="4"/>
<line x1="280" y1="1355.8" x2="294.8" y2="1355.8" stroke="#2a2a2a" stroke-width="4"/>
<line x1="280" y1="1487" x2="294.8" y2="1487" stroke="#2a2a2a" stroke-width="4"/>
<line x1="280" y1="1635.3" x2="294.8" y2="1635.3" stroke="#2a2a2a" stroke-width="4"/>
<line x1="280" y1="1771.2" x2="294.8" y2="1771.2" stroke="#2a2a2a" stroke-width="4"/>
<line x1="280" y1="1905.8" x2="294.8" y2="1905.8" stroke="#2a2a2a" stroke-width="4"/>
<line x1="294.8" y1="1974" x2="294.8" y2="1988" stroke="#2a2a2a" stroke-width="4"/>
<line x1="365.5" y1="1974" x2="365.5" y2="2000" stroke="#2a2a2a" stroke-width="4"/>
<line x1="436.2" y1="1974" x2="436.2" y2="1988" stroke="#2a2a2a" stroke-width="4"/>
<line x1="506.9" y1="1974" x2="506.9" y2="2000" stroke="#2a2a2a" stroke-width="4"/>
<line x1="577.7" y1="1974" x2="577.7" y2="1988" stroke="#2a2a2a" stroke-width="4"/>
<line x1="648.4" y1="1974" x2="648.4" y2="2000" stroke="#2a2a2a" stroke-width="4"/>
<line x1="719.1" y1="1974" x2="719.1" y2="1988" stroke="#2a2a2a" stroke-width="4"/>
<line x1="789.8" y1="1974" x2="789.8" y2="2000" stroke="#2a2a2a" stroke-width="4"/>
<line x1="860.5" y1="1974" x2="860.5" y2="1988" stroke="#2a2a2a" stroke-width="4"/>
<line x1="931.2" y1="1974" x2="931.2" y2="2000" stroke="#2a2a2a" stroke-width="4"/>
<line x1="1002.0" y1="1974" x2="1002.0" y2="1988" stroke="#2a2a2a" stroke-width="4"/>
<line x1="1072.7" y1="1974" x2="1072.7" y2="2000" stroke="#2a2a2a" stroke-width="4"/>
<line x1="1143.4" y1="1974" x2="1143.4" y2="1988" stroke="#2a2a2a" stroke-width="4"/>
<line x1="1214.1" y1="1974" x2="1214.1" y2="2000" stroke="#2a2a2a" stroke-width="4"/>
<text x="0" y="0" font-size="46" font-weight="bold" font-style="normal" text-anchor="end" fill="#000" transform="translate(249.00 1171.70) scale(0.9 1.05)" textLength="113.70" lengthAdjust="spacing" stroke="#fff" stroke-width="0.2">3000</text>
<text x="0" y="0" font-size="46" font-weight="bold" font-style="normal" text-anchor="end" fill="#000" transform="translate(249.00 1302.70) scale(0.9 1.05)" textLength="113.70" lengthAdjust="spacing" stroke="#fff" stroke-width="0.2">2000</text>
<text x="0" y="0" font-size="46" font-weight="bold" font-style="normal" text-anchor="end" fill="#000" transform="translate(249.00 1435.00) scale(0.9 1.05)" textLength="113.70" lengthAdjust="spacing" stroke="#fff" stroke-width="0.2">1000</text>
<text x="0" y="0" font-size="46" font-weight="bold" font-style="normal" text-anchor="end" fill="#000" transform="translate(249.00 1580.60) scale(0.9 1.05)" textLength="142.13" lengthAdjust="spacing" stroke="#fff" stroke-width="0.2">15000</text>
<text x="0" y="0" font-size="46" font-weight="bold" font-style="normal" text-anchor="end" fill="#000" transform="translate(249.00 1715.70) scale(0.9 1.05)" textLength="142.13" lengthAdjust="spacing" stroke="#fff" stroke-width="0.2">10000</text>
<text x="0" y="0" font-size="46" font-weight="bold" font-style="normal" text-anchor="end" fill="#000" transform="translate(249.00 1851.50) scale(0.9 1.05)" textLength="113.70" lengthAdjust="spacing" stroke="#fff" stroke-width="0.2">5000</text>
<text x="0" y="0" font-size="46" font-weight="bold" font-style="normal" text-anchor="end" fill="#000" transform="translate(249.00 1987.20) scale(0.9 1.05)" stroke="#fff" stroke-width="0.2">0</text>
<text x="0" y="0" font-size="46" font-weight="bold" font-style="normal" text-anchor="middle" fill="#000" transform="translate(365.50 2055.00) scale(0.9 1.05)" textLength="85.28" lengthAdjust="spacing" stroke="#fff" stroke-width="0.2">600</text>
<text x="0" y="0" font-size="46" font-weight="bold" font-style="normal" text-anchor="middle" fill="#000" transform="translate(506.90 2055.00) scale(0.9 1.05)" textLength="85.28" lengthAdjust="spacing" stroke="#fff" stroke-width="0.2">800</text>
<text x="0" y="0" font-size="46" font-weight="bold" font-style="normal" text-anchor="middle" fill="#000" transform="translate(648.40 2055.00) scale(0.9 1.05)" textLength="113.70" lengthAdjust="spacing" stroke="#fff" stroke-width="0.2">1000</text>
<text x="0" y="0" font-size="46" font-weight="bold" font-style="normal" text-anchor="middle" fill="#000" transform="translate(789.80 2055.00) scale(0.9 1.05)" textLength="113.70" lengthAdjust="spacing" stroke="#fff" stroke-width="0.2">1200</text>
<text x="0" y="0" font-size="46" font-weight="bold" font-style="normal" text-anchor="middle" fill="#000" transform="translate(931.20 2055.00) scale(0.9 1.05)" textLength="113.70" lengthAdjust="spacing" stroke="#fff" stroke-width="0.2">1400</text>
<text x="0" y="0" font-size="46" font-weight="bold" font-style="normal" text-anchor="middle" fill="#000" transform="translate(1072.70 2055.00) scale(0.9 1.05)" textLength="113.70" lengthAdjust="spacing" stroke="#fff" stroke-width="0.2">1600</text>
<text x="0" y="0" font-size="46" font-weight="bold" font-style="normal" text-anchor="middle" fill="#000" transform="translate(1214.10 2055.00) scale(0.9 1.05)" textLength="113.70" lengthAdjust="spacing" stroke="#fff" stroke-width="0.2">1800</text>
<text x="0" y="0" font-size="51" font-weight="bold" font-style="normal" text-anchor="start" fill="#000" transform="translate(510.00 2114.00) scale(1 1.05)" stroke="#fff" stroke-width="0.3">wavenumber / cm</text>
<text x="0" y="0" font-size="34" font-weight="bold" font-style="normal" text-anchor="start" fill="#000" transform="translate(938.50 2094.50) scale(1 1.05)" stroke="#fff" stroke-width="0.2">-1</text>
<text x="0" y="0" font-size="51.6" font-weight="bold" font-style="normal" text-anchor="middle" fill="#000" transform="translate(81.00 1581.50) rotate(-90) scale(1 1.05)" stroke="#fff" stroke-width="0.3">Intensity / arb. unit</text>
<rect x="580" y="1097" width="296.5" height="88.5" fill="#fff" stroke="#777" stroke-width="2.5"/>
<text x="0" y="0" font-size="51.7" font-weight="bold" font-style="normal" text-anchor="middle" fill="#000" transform="translate(728.00 1161.00) scale(1 1.03)" stroke="#fff" stroke-width="0.3">Ag<tspan font-weight="normal">@</tspan><tspan font-weight="normal">β</tspan>CD3</text>
<text x="0" y="0" font-size="64" font-weight="bold" font-style="normal" text-anchor="start" fill="#000" transform="translate(313.00 1196.00) scale(1 1.05)" stroke="#fff" stroke-width="0.3">(c)</text>
<text x="0" y="0" font-size="64" font-weight="bold" font-style="normal" text-anchor="start" fill="#000" transform="translate(311.00 1794.00) scale(1 1.05)" stroke="#fff" stroke-width="0.3">(d)</text>
<line x1="297" y1="1408.5" x2="406.5" y2="1408.5" stroke="#f00" stroke-width="4"/>
<text x="0" y="0" font-size="47" font-weight="bold" font-style="normal" text-anchor="start" fill="#000" transform="translate(417.00 1427.20)" stroke="#fff" stroke-width="0.3">0.5 <tspan font-weight="normal">μ</tspan>M</text>
<line x1="297" y1="1585.6" x2="406.5" y2="1585.6" stroke="#f00" stroke-width="4"/>
<line x1="297" y1="1650.9" x2="406.5" y2="1650.9" stroke="#3c3cac" stroke-width="4.4"/>
<line x1="297" y1="1710.3" x2="406.5" y2="1710.3" stroke="#000" stroke-width="4"/>
<text x="0" y="0" font-size="47" font-weight="bold" font-style="normal" text-anchor="start" fill="#000" transform="translate(417.00 1603.90)" stroke="#fff" stroke-width="0.3">0.5 <tspan font-weight="normal">μ</tspan>M</text>
<text x="0" y="0" font-size="47" font-weight="bold" font-style="normal" text-anchor="start" fill="#000" transform="translate(417.00 1667.20)" stroke="#fff" stroke-width="0.3">0.1 <tspan font-weight="normal">μ</tspan>M</text>
<text x="0" y="0" font-size="46" font-weight="bold" font-style="normal" text-anchor="start" fill="#000" transform="translate(418.00 1726.50) scale(1 1.02)" stroke="#fff" stroke-width="0.3">pure Ag<tspan font-weight="normal">@</tspan><tspan font-weight="normal">β</tspan>CD3</text>
<text x="0" y="0" font-size="46.2" font-weight="bold" font-style="italic" text-anchor="start" fill="#000" transform="translate(327.00 1910.50)" stroke="#fff" stroke-width="0.3">after 5 days</text>
<text x="0" y="0" font-size="51" font-weight="bold" font-style="normal" text-anchor="start" fill="#000" transform="translate(776.50 1451.00) rotate(-90) scale(0.9 1.1)" textLength="126.06" lengthAdjust="spacing" stroke="#fff" stroke-width="0.2">1162</text>
<text x="0" y="0" font-size="51" font-weight="bold" font-style="normal" text-anchor="start" fill="#000" transform="translate(845.50 1414.00) rotate(-90) scale(0.9 1.1)" textLength="126.06" lengthAdjust="spacing" stroke="#fff" stroke-width="0.2">1246</text>
<text x="0" y="0" font-size="51" font-weight="bold" font-style="normal" text-anchor="start" fill="#000" transform="translate(935.50 1449.00) rotate(-90) scale(0.9 1.1)" textLength="126.06" lengthAdjust="spacing" stroke="#fff" stroke-width="0.2">1377</text>
<text x="0" y="0" font-size="51" font-weight="bold" font-style="normal" text-anchor="start" fill="#000" transform="translate(1066.00 1309.00) rotate(-90) scale(0.9 1.1)" textLength="126.06" lengthAdjust="spacing" stroke="#fff" stroke-width="0.2">1600</text>
<text x="0" y="0" font-size="51" font-weight="bold" font-style="normal" text-anchor="start" fill="#000" transform="translate(1114.50 1246.00) rotate(-90) scale(0.9 1.1)" textLength="126.06" lengthAdjust="spacing" stroke="#fff" stroke-width="0.2">1632</text>
<text x="0" y="0" font-size="51" font-weight="bold" font-style="normal" text-anchor="start" fill="#000" transform="translate(780.50 1877.00) rotate(-90) scale(0.9 1.1)" textLength="126.06" lengthAdjust="spacing" stroke="#fff" stroke-width="0.2">1162</text>
<text x="0" y="0" font-size="51" font-weight="bold" font-style="normal" text-anchor="start" fill="#000" transform="translate(845.00 1851.00) rotate(-90) scale(0.9 1.1)" textLength="126.06" lengthAdjust="spacing" stroke="#fff" stroke-width="0.2">1249</text>
<text x="0" y="0" font-size="51" font-weight="bold" font-style="normal" text-anchor="start" fill="#000" transform="translate(927.50 1869.00) rotate(-90) scale(0.9 1.1)" textLength="126.06" lengthAdjust="spacing" stroke="#fff" stroke-width="0.2">1378</text>
<text x="0" y="0" font-size="51" font-weight="bold" font-style="normal" text-anchor="start" fill="#000" transform="translate(1071.00 1797.00) rotate(-90) scale(0.9 1.1)" textLength="126.06" lengthAdjust="spacing" stroke="#fff" stroke-width="0.2">1600</text>
<text x="0" y="0" font-size="51" font-weight="bold" font-style="normal" text-anchor="start" fill="#000" transform="translate(1133.50 1707.00) rotate(-90) scale(0.9 1.1)" textLength="126.06" lengthAdjust="spacing" stroke="#fff" stroke-width="0.2">1634</text>
</g>
</svg></body></html>
